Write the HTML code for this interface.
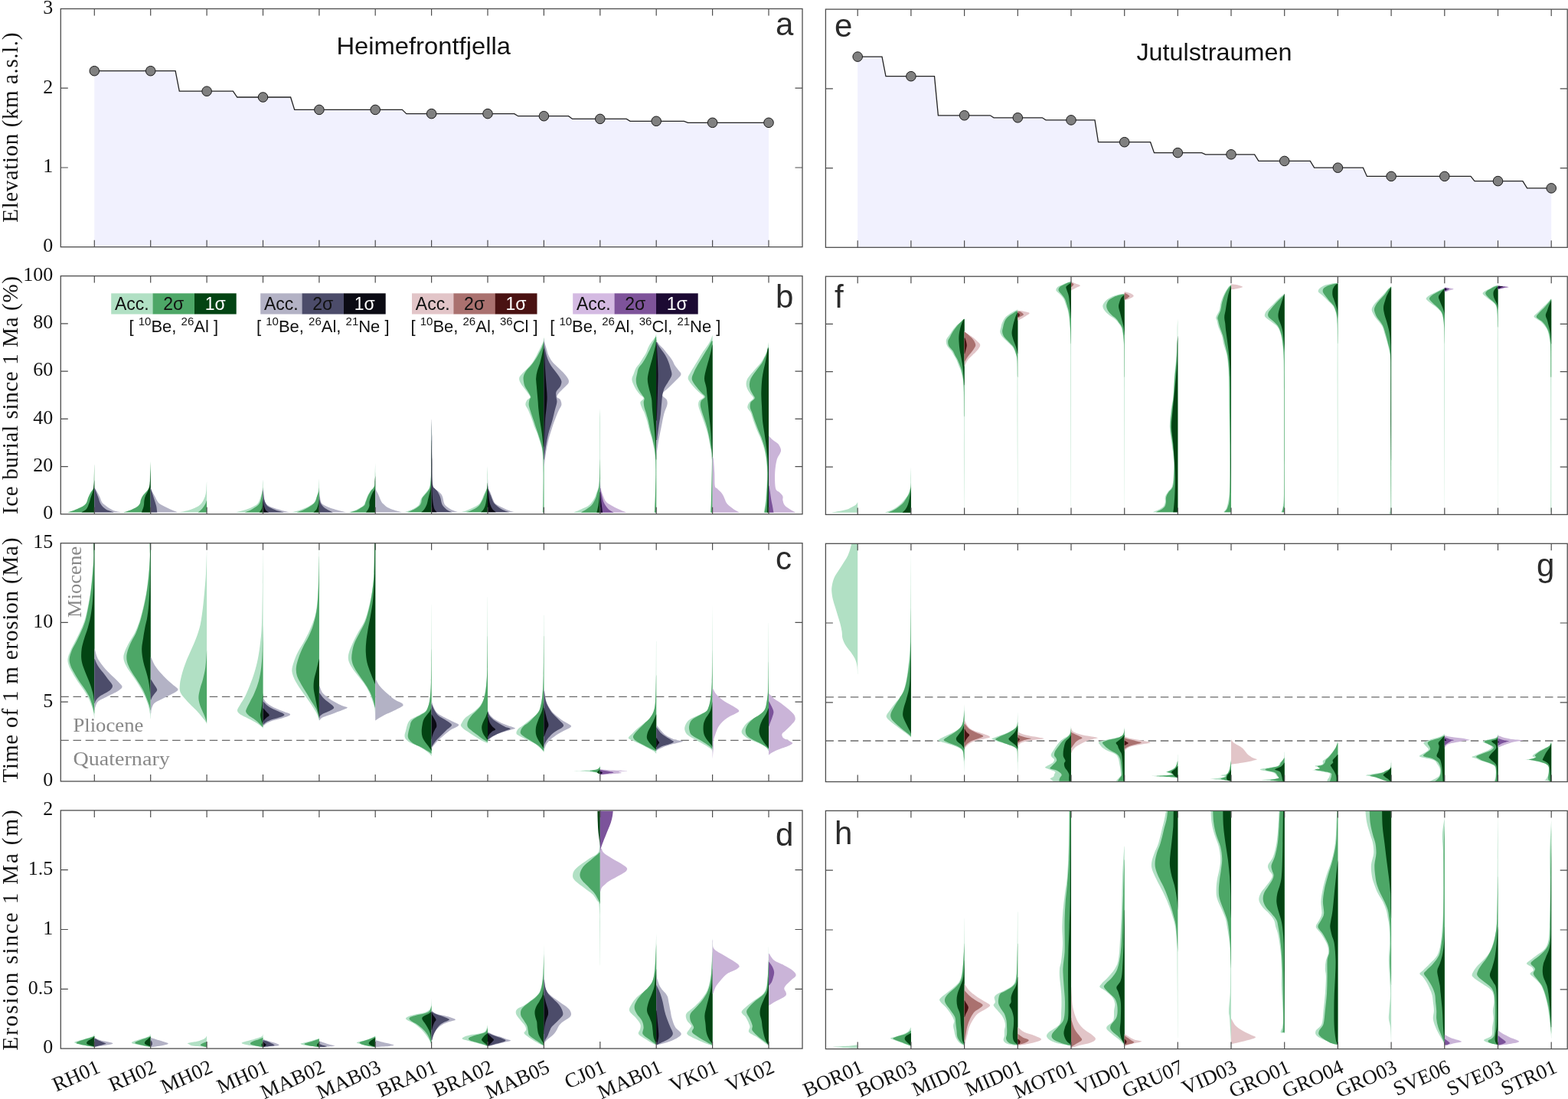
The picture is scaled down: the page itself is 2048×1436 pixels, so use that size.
<!DOCTYPE html><html><head><meta charset="utf-8"><title>Figure</title><style>html,body{margin:0;padding:0;background:#fff;overflow:hidden;width:2048px;height:1436px;}svg{display:block;}</style></head><body>
<svg width="2048" height="1436" viewBox="0 0 2048 1436">
<rect width="2048" height="1436" fill="#fff"/>
<path d="M123.3,92.7L229.1,92.7L234.3,119.2L304.4,119.2L309.8,127L379.6,127L384.7,143.4L525.4,143.4L530.8,148.6L671.8,148.6L676.7,151.7L742.6,151.7L747.6,155.4L818.3,155.4L823,158.3L893.5,158.3L898.5,160.3L1004,160.3L1004,322.7L123.3,322.7Z" fill="#f1f1fe"/>
<path d="M123.3,92.7L229.1,92.7L234.3,119.2L304.4,119.2L309.8,127L379.6,127L384.7,143.4L525.4,143.4L530.8,148.6L671.8,148.6L676.7,151.7L742.6,151.7L747.6,155.4L818.3,155.4L823,158.3L893.5,158.3L898.5,160.3L1004,160.3" fill="none" stroke="#222" stroke-width="1.3"/>
<circle cx="123.3" cy="92.7" r="6.3" fill="#808080" stroke="#1a1a1a" stroke-width="1"/>
<circle cx="196.7" cy="92.7" r="6.3" fill="#808080" stroke="#1a1a1a" stroke-width="1"/>
<circle cx="270.1" cy="119.2" r="6.3" fill="#808080" stroke="#1a1a1a" stroke-width="1"/>
<circle cx="343.5" cy="127" r="6.3" fill="#808080" stroke="#1a1a1a" stroke-width="1"/>
<circle cx="416.9" cy="143.4" r="6.3" fill="#808080" stroke="#1a1a1a" stroke-width="1"/>
<circle cx="490.2" cy="143.4" r="6.3" fill="#808080" stroke="#1a1a1a" stroke-width="1"/>
<circle cx="563.6" cy="148.6" r="6.3" fill="#808080" stroke="#1a1a1a" stroke-width="1"/>
<circle cx="637" cy="148.6" r="6.3" fill="#808080" stroke="#1a1a1a" stroke-width="1"/>
<circle cx="710.4" cy="151.7" r="6.3" fill="#808080" stroke="#1a1a1a" stroke-width="1"/>
<circle cx="783.8" cy="155.4" r="6.3" fill="#808080" stroke="#1a1a1a" stroke-width="1"/>
<circle cx="857.2" cy="158.3" r="6.3" fill="#808080" stroke="#1a1a1a" stroke-width="1"/>
<circle cx="930.6" cy="160.3" r="6.3" fill="#808080" stroke="#1a1a1a" stroke-width="1"/>
<circle cx="1004" cy="160.3" r="6.3" fill="#808080" stroke="#1a1a1a" stroke-width="1"/>
<path d="M1120.2,74.1L1152,74.1L1157,99.7L1220.5,99.7L1225.4,150.8L1293.3,150.8L1298,153.8L1361.3,153.8L1366,156.9L1430,156.9L1434.5,185.7L1502.6,185.7L1507.5,199.6L1569.7,199.6L1574.5,201.8L1638.6,201.8L1643.9,210.4L1711.3,210.4L1716.6,219.2L1780.4,219.2L1785.4,230.4L1921,230.4L1926,236.6L1988.9,236.6L1994.6,245.9L2026.2,245.9L2026.2,323.3L1120.2,323.3Z" fill="#f1f1fe"/>
<path d="M1120.2,74.1L1152,74.1L1157,99.7L1220.5,99.7L1225.4,150.8L1293.3,150.8L1298,153.8L1361.3,153.8L1366,156.9L1430,156.9L1434.5,185.7L1502.6,185.7L1507.5,199.6L1569.7,199.6L1574.5,201.8L1638.6,201.8L1643.9,210.4L1711.3,210.4L1716.6,219.2L1780.4,219.2L1785.4,230.4L1921,230.4L1926,236.6L1988.9,236.6L1994.6,245.9L2026.2,245.9" fill="none" stroke="#222" stroke-width="1.3"/>
<circle cx="1120.2" cy="74.1" r="6.3" fill="#808080" stroke="#1a1a1a" stroke-width="1"/>
<circle cx="1189.9" cy="99.7" r="6.3" fill="#808080" stroke="#1a1a1a" stroke-width="1"/>
<circle cx="1259.6" cy="150.8" r="6.3" fill="#808080" stroke="#1a1a1a" stroke-width="1"/>
<circle cx="1329.3" cy="153.8" r="6.3" fill="#808080" stroke="#1a1a1a" stroke-width="1"/>
<circle cx="1399" cy="156.9" r="6.3" fill="#808080" stroke="#1a1a1a" stroke-width="1"/>
<circle cx="1468.7" cy="185.7" r="6.3" fill="#808080" stroke="#1a1a1a" stroke-width="1"/>
<circle cx="1538.3" cy="199.6" r="6.3" fill="#808080" stroke="#1a1a1a" stroke-width="1"/>
<circle cx="1608" cy="201.8" r="6.3" fill="#808080" stroke="#1a1a1a" stroke-width="1"/>
<circle cx="1677.7" cy="210.4" r="6.3" fill="#808080" stroke="#1a1a1a" stroke-width="1"/>
<circle cx="1747.4" cy="219.2" r="6.3" fill="#808080" stroke="#1a1a1a" stroke-width="1"/>
<circle cx="1817.1" cy="230.4" r="6.3" fill="#808080" stroke="#1a1a1a" stroke-width="1"/>
<circle cx="1886.8" cy="230.4" r="6.3" fill="#808080" stroke="#1a1a1a" stroke-width="1"/>
<circle cx="1956.5" cy="236.6" r="6.3" fill="#808080" stroke="#1a1a1a" stroke-width="1"/>
<circle cx="2026.2" cy="245.9" r="6.3" fill="#808080" stroke="#1a1a1a" stroke-width="1"/>
<line x1="79.3" y1="910.3" x2="1048" y2="910.3" stroke="#6a6a6a" stroke-width="1.3" stroke-dasharray="10.5,5.7"/>
<line x1="79.3" y1="967.4" x2="1048" y2="967.4" stroke="#6a6a6a" stroke-width="1.3" stroke-dasharray="10.5,5.7"/>
<line x1="1078.4" y1="910.9" x2="2047.2" y2="910.9" stroke="#6a6a6a" stroke-width="1.3" stroke-dasharray="10.5,5.7"/>
<line x1="1078.4" y1="968" x2="2047.2" y2="968" stroke="#6a6a6a" stroke-width="1.3" stroke-dasharray="10.5,5.7"/>
<path d="M123.3,669.5L88.4,669.5C89.8,669 94.1,667.7 96.8,666.7C99.6,665.7 102.5,664.4 104.7,663.3C107,662.2 108.9,661.1 110.3,660C111.7,658.8 112.3,658.3 113.1,656.6C114,654.9 114.4,652.1 115.4,649.8C116.3,647.6 117.6,645.2 118.7,643.1C119.9,641 121.5,640.1 122.1,637.5C122.8,634.9 122.5,632.4 122.7,627.4C122.9,622.3 123.1,610.5 123.2,607.2L123.3,607.2Z" fill="#4da767"/>
<path d="M123.3,669.5L106.4,669.5C107.4,668.8 111,667.3 112.6,665.6C114.2,663.8 114.9,661.4 115.9,658.8C117,656.2 117.8,652.8 118.7,649.8C119.7,646.8 120.9,643.7 121.6,640.9C122.2,638.1 122.4,635.2 122.7,633C123,630.8 123.1,628.3 123.2,627.4L123.3,627.4Z" fill="#034413"/>
<path d="M123.3,669.5L158.6,669.5C156.7,669 150.8,668.1 147.4,666.7C144,665.3 140.7,662.8 138.4,661.1C136.1,659.4 134.7,658.5 133.3,656.6C132,654.7 131.5,651.9 130.5,649.8C129.6,647.8 128.8,646.1 127.7,644.2C126.7,642.4 125.1,639.9 124.4,638.6C123.6,637.3 123.5,636.7 123.3,636.4L123.3,636.4Z" fill="#b3b2c5"/>
<path d="M123.3,669.5L148.5,669.5C146.8,668.8 141.2,667.3 138.4,665.6C135.6,663.8 133.3,661.4 131.7,658.8C130,656.2 129.4,652.8 128.3,649.8C127.2,646.8 125.7,642.9 124.9,640.9C124.1,638.8 123.7,638.1 123.5,637.5L123.3,637.5Z" fill="#4c4c6a"/>
<path d="M196.7,669.5L160.9,669.5C162.4,669 166.8,667.9 169.8,666.7C172.8,665.5 176.7,663.7 178.8,662.2C181,660.7 181.9,659.2 182.8,657.7C183.6,656.2 183.2,654.9 183.9,653.2C184.5,651.5 185.6,649.3 186.7,647.6C187.8,645.9 189.4,644.6 190.6,643.1C191.8,641.6 193.1,640.5 194,638.6C194.8,636.7 195.3,635.6 195.7,631.9C196,628.1 195.9,621 196.1,616.2C196.3,611.3 196.6,604.9 196.7,602.7L196.7,602.7Z" fill="#4da767"/>
<path d="M196.7,669.5L185,669.5C185.5,668.1 187.3,663.6 187.8,661.1C188.4,658.5 188,656.6 188.4,654.3C188.7,652.1 189.2,649.8 190.1,647.6C190.9,645.4 192.5,643.3 193.4,640.9C194.4,638.4 195.1,637.5 195.7,633C196.2,628.5 196.5,617.1 196.7,613.9L196.7,613.9Z" fill="#034413"/>
<path d="M196.7,669.5L232.7,669.5C230.7,668.7 224.3,666.2 220.4,664.4C216.5,662.7 211.7,660.5 209.2,658.8C206.6,657.1 206.3,656 205.2,654.3C204.1,652.7 203.6,651 202.4,648.7C201.2,646.5 198.9,642.7 197.9,640.9C197,639 197,638.1 196.8,637.5L196.7,637.5Z" fill="#b3b2c5"/>
<path d="M196.7,669.5L205.2,669.5C205,668.1 204.8,664 204.1,661.1C203.4,658.2 202.2,655.1 201.3,652.1C200.4,649.1 199.2,645.5 198.5,643.1C197.7,640.7 197.1,638.4 196.8,637.5L196.7,637.5Z" fill="#4c4c6a"/>
<path d="M270.1,669.5L233.9,669.5C235.9,669 242.3,667.9 246.2,666.7C250.1,665.5 254.6,663.7 257.4,662.2C260.2,660.7 261.6,659.4 263.1,657.7C264.6,656 265.5,654.1 266.4,652.1C267.4,650 268.2,647.6 268.7,645.4C269.2,643.1 269.3,641.2 269.5,638.6C269.7,636 269.9,631.1 270,629.6L270.1,629.6Z" fill="#b1e0c4"/>
<path d="M270.1,669.5L258.6,669.5C259.5,668.7 262.6,666.2 264.2,664.4C265.8,662.7 267.2,660.5 268.1,658.8C269,657.1 269.5,655.1 269.8,654.3L270.1,654.3Z" fill="#4da767"/>
<path d="M343.5,669.5L307.3,669.5C308.5,669.2 312.1,668.5 314.6,667.8C317.1,667.2 319.8,666.5 322.5,665.6C325.1,664.6 328.1,663.3 330.3,662.2C332.6,661.1 334.5,660.1 335.9,658.8C337.3,657.5 337.9,656.2 338.7,654.3C339.6,652.5 340.3,649.8 341,647.6C341.6,645.4 342.4,643.3 342.7,640.9C343,638.4 342.7,635.4 342.9,633C343,630.6 343.4,627.4 343.5,626.3L343.5,626.3Z" fill="#b1e0c4"/>
<path d="M343.5,669.5L319.7,669.5C320.9,669 324.8,667.7 327,666.7C329.1,665.7 330.9,664.4 332.6,663.3C334.3,662.2 335.8,661.3 337.1,660C338.3,658.6 339.1,657.3 339.9,655.5C340.6,653.6 341.1,651.2 341.6,648.7C342.1,646.3 342.6,642.9 342.9,640.9C343.2,638.8 343.4,637.1 343.5,636.4L343.5,636.4Z" fill="#4da767"/>
<path d="M343.5,669.5L338.7,669.5C339.2,668.8 340.9,667 341.6,665.6C342.2,664.2 342.5,662.6 342.7,661.1C342.9,659.6 342.7,657.9 342.9,656.6C343,655.3 343.4,653.8 343.5,653.2L343.5,653.2Z" fill="#034413"/>
<path d="M343.5,669.5L378.6,669.5C376.7,669 371.1,667.7 367.4,666.7C363.6,665.7 359.1,664.4 356.2,663.3C353.2,662.2 351,661.1 349.4,660C347.8,658.8 347.4,657.9 346.6,656.6C345.9,655.3 345.3,654 344.9,652.1C344.5,650.2 344.3,647.2 344.1,645.4C344,643.5 344.2,642 344.1,640.9C344,639.7 343.6,639 343.5,638.6L343.5,638.6Z" fill="#b3b2c5"/>
<path d="M343.5,669.5L370.8,669.5C369.1,669 363.6,667.7 360.6,666.7C357.6,665.7 354.8,664.4 352.8,663.3C350.7,662.2 349.4,661.3 348.3,660C347.2,658.6 346.6,657.1 346,655.5C345.4,653.8 345,651.9 344.7,649.8C344.4,647.8 344.3,644.8 344.1,643.1C343.9,641.4 343.6,640.3 343.5,639.7L343.5,639.7Z" fill="#4c4c6a"/>
<path d="M343.5,669.5L351.1,669.5C350.4,669 348.2,668.1 347.2,666.7C346.1,665.3 345.4,662.8 344.9,661.1C344.4,659.4 344.4,658.1 344.1,656.6C343.9,655.1 343.7,652.8 343.6,652.1L343.5,652.1Z" fill="#0b0b14"/>
<path d="M416.9,669.5L380.9,669.5C382.5,669 387.8,667.7 391,666.7C394.1,665.7 397.1,664.6 400,663.3C402.8,662 405.9,660.1 407.8,658.8C409.7,657.5 410.2,657 411.2,655.5C412.1,654 412.7,651.9 413.4,649.8C414.2,647.8 415.2,645.4 415.7,643.1C416.1,640.9 416.1,639.2 416.3,636.4C416.4,633.6 416.7,627.9 416.8,626.3L416.9,626.3Z" fill="#b1e0c4"/>
<path d="M416.9,669.5L387.6,669.5C388.9,669 393,667.7 395.5,666.7C397.9,665.7 400,664.6 402.2,663.3C404.4,662 407.3,660.3 408.9,658.8C410.6,657.3 411.5,656 412.3,654.3C413.1,652.7 413.3,650.8 414,648.7C414.6,646.7 415.8,643.9 416.2,642C416.7,640.1 416.7,638.2 416.8,637.5L416.9,637.5Z" fill="#4da767"/>
<path d="M416.9,669.5L409.5,669.5C410.2,668.8 412.4,667.3 413.4,665.6C414.5,663.8 415.1,661.1 415.7,658.8C416.2,656.6 416.6,653.2 416.8,652.1L416.9,652.1Z" fill="#034413"/>
<path d="M416.9,669.5L452.7,669.5C450.9,669 445.2,667.7 441.5,666.7C437.8,665.7 433.6,664.6 430.3,663.3C426.9,662 423.2,660.3 421.3,658.8C419.4,657.3 419.4,656.2 418.8,654.3C418.2,652.5 418,649.8 417.7,647.6C417.4,645.4 417.1,642 417,640.9L416.9,640.9Z" fill="#b3b2c5"/>
<path d="M416.9,669.5L434.8,669.5C433.8,669 431,667.7 429.2,666.7C427.3,665.7 425.1,664.6 423.5,663.3C421.9,662 420.5,660.3 419.6,658.8C418.7,657.3 418.3,656 417.9,654.3C417.5,652.7 417.3,649.7 417.1,648.7L416.9,648.7Z" fill="#4c4c6a"/>
<path d="M490.2,669.5L455,669.5C456.5,669 461.3,667.7 464,666.7C466.6,665.7 468.8,664.4 470.7,663.3C472.6,662.2 474.2,661.1 475.2,660C476.2,658.8 476.3,657.9 476.9,656.6C477.4,655.3 477.9,653.8 478.6,652.1C479.2,650.4 479.9,648.3 480.8,646.5C481.7,644.6 483.1,642.4 484.2,640.9C485.3,639.4 486.6,639 487.5,637.5C488.5,636 489.3,634.5 489.6,631.9C490,629.3 489.6,626.3 489.6,621.8C489.7,617.3 490.1,607.7 490.2,604.9L490.2,604.9Z" fill="#b1e0c4"/>
<path d="M490.2,669.5L457.2,669.5C458.7,669 463.8,667.7 466.2,666.7C468.6,665.7 470.1,664.4 471.8,663.3C473.5,662.2 475.4,661.1 476.3,660C477.3,658.8 477,657.9 477.4,656.6C477.9,655.3 478.5,653.8 479.1,652.1C479.8,650.4 480.4,648.3 481.4,646.5C482.3,644.6 483.7,642.4 484.7,640.9C485.8,639.4 487,639 487.8,637.5C488.6,636 489.2,635.4 489.6,631.9C490.1,628.3 490.1,618.8 490.2,616.2L490.2,616.2Z" fill="#4da767"/>
<path d="M490.2,669.5L478,669.5C478.5,668.8 480.1,667 480.8,665.6C481.6,664.2 482.2,662.8 482.5,661.1C482.8,659.4 482.2,657.3 482.5,655.5C482.8,653.6 483.4,651.9 484.2,649.8C484.9,647.8 486.1,645 487,643.1C487.9,641.2 489.2,640.9 489.6,638.6C490.1,636.4 489.6,632.4 489.6,629.6C489.7,626.8 490.1,623.1 490.2,621.8L490.2,621.8Z" fill="#034413"/>
<path d="M490.2,669.5L525.7,669.5C524,669 518.8,667.7 515.6,666.7C512.4,665.7 509.1,664.6 506.6,663.3C504.2,662 502.3,660 501,658.8C499.7,657.7 499.5,657.7 498.8,656.6C498,655.5 497.3,653.8 496.5,652.1C495.8,650.4 495.1,648.3 494.3,646.5C493.4,644.6 492.1,642.2 491.5,640.9C490.9,639.5 490.7,639 490.6,638.6L490.2,638.6Z" fill="#b3b2c5"/>
<path d="M563.6,669.3L528.1,669.3C529.1,669 531.9,668.2 534.1,667.3C536.3,666.5 539.1,665.5 541.2,664.3C543.3,663.1 545.5,661.8 546.8,660.3C548,658.7 548.2,656.7 548.8,655.2C549.4,653.7 549.4,652.7 550.3,651.2C551.2,649.7 553,647.8 554.3,646.1C555.7,644.4 557.3,642.6 558.4,641.1C559.5,639.6 560.3,638.7 560.9,637C561.5,635.4 561.6,633.7 561.9,631C562.2,628.3 562.7,625.9 562.9,620.9C563.1,615.8 563,609.1 563,600.7C563.1,592.3 562.9,578.8 563,570.4C563.1,562 563.5,553.6 563.6,550.2L563.6,550.2Z" fill="#b1e0c4"/>
<path d="M563.6,669.3L532.1,669.3C533,669 535.3,668.2 537.2,667.3C539,666.5 541.4,665.5 543.2,664.3C545.1,663.1 547.1,661.6 548.3,660.3C549.5,658.9 549.8,657.7 550.3,656.2C550.8,654.7 550.5,652.9 551.3,651.2C552.1,649.5 554,647.8 555.3,646.1C556.7,644.4 558.4,642.6 559.4,641.1C560.4,639.6 560.9,638.7 561.4,637C561.9,635.4 562.1,633.7 562.4,631C562.7,628.3 562.9,627.6 563,620.9C563.1,614.1 562.9,599 563,590.6C563.1,582.2 563.5,573.8 563.6,570.4L563.6,570.4Z" fill="#4da767"/>
<path d="M563.6,669.3L550.3,669.3C551,668.7 553.2,667 554.3,665.3C555.5,663.6 556.5,661.6 557.4,659.2C558.2,656.9 558.7,653.9 559.4,651.2C560.1,648.5 560.8,645.6 561.4,643.1C562,640.6 562.6,639.7 562.9,636C563.2,632.3 562.9,628.5 563,620.9C563.2,613.3 563.5,595.6 563.6,590.6L563.6,590.6Z" fill="#034413"/>
<path d="M563.6,669.3L598.8,669.3C597.8,669 594.7,668.2 592.7,667.3C590.7,666.5 588.5,665.5 586.6,664.3C584.8,663.1 582.8,661.6 581.6,660.3C580.4,658.9 580.1,657.7 579.6,656.2C579.1,654.7 579.1,652.9 578.6,651.2C578.1,649.5 577.6,647.6 576.5,646.1C575.5,644.6 573.9,643.3 572.5,642.1C571.2,640.9 569.6,640.1 568.5,639.1C567.4,638 566.5,637.4 565.9,636C565.4,634.7 565.2,633.5 564.9,631C564.7,628.5 564.5,625.9 564.4,620.9C564.3,615.8 564.4,609.1 564.2,600.7C564.1,592.3 563.8,575.4 563.7,570.4L563.6,570.4Z" fill="#b3b2c5"/>
<path d="M563.6,669.3L590.7,669.3C589.8,669 587.1,668.2 585.6,667.3C584.1,666.5 582.9,665.5 581.6,664.3C580.3,663.1 578.9,661.6 578.1,660.3C577.2,658.9 577,657.7 576.5,656.2C576.1,654.7 576,652.9 575.5,651.2C575,649.5 574.4,647.8 573.5,646.1C572.7,644.4 571.5,642.4 570.5,641.1C569.5,639.7 568.3,639.1 567.5,638C566.6,637 565.9,637 565.4,635C564.9,633 564.6,630 564.4,625.9C564.2,621.9 564.3,616.7 564.2,610.8C564.2,604.9 564.2,597.3 564.2,590.6C564.2,583.9 564.3,577.5 564.2,570.4C564.1,563.3 563.8,551.9 563.7,548.2L563.6,548.2Z" fill="#4c4c6a"/>
<path d="M563.6,669.3L570.5,669.3C570,668.7 568.2,667 567.5,665.3C566.7,663.6 566.4,661.6 565.9,659.2C565.5,656.9 565.2,654.2 564.9,651.2C564.7,648.1 564.5,644.4 564.4,641.1C564.3,637.7 564.3,634.3 564.2,631C564.2,627.6 564.2,625.9 564.2,620.9C564.2,615.8 564.3,608.3 564.2,600.7C564.1,593.1 563.8,579.6 563.7,575.4L563.6,575.4Z" fill="#0b0b14"/>
<path d="M637,669.3L601.8,669.3C603,669 606.5,668.2 608.9,667.3C611.2,666.5 613.7,665.3 615.9,664.3C618.1,663.3 620.1,662.4 622,661.3C623.8,660.1 625.7,658.9 627,657.2C628.4,655.5 629.2,653 630.1,651.2C630.9,649.3 631.3,647.8 632.1,646.1C632.8,644.4 633.9,642.6 634.6,641.1C635.3,639.6 635.8,638.7 636.1,637C636.4,635.4 636.4,633.7 636.4,631C636.5,628.3 636.3,624.6 636.4,620.9C636.5,617.2 636.9,610.8 637,608.8L637,608.8Z" fill="#b1e0c4"/>
<path d="M637,669.3L608.9,669.3C609.9,669 612.9,668.2 614.9,667.3C616.9,666.5 619.3,665.3 621,664.3C622.7,663.3 623.8,662.4 625,661.3C626.2,660.1 627,658.9 628,657.2C629.1,655.5 630.2,653 631.1,651.2C631.9,649.3 632.4,647.8 633.1,646.1C633.8,644.4 634.6,642.6 635.1,641.1C635.6,639.6 636,638.7 636.3,637C636.6,635.4 636.8,632 636.9,631L637,631Z" fill="#4da767"/>
<path d="M637,669.3L628,669.3C628.5,668.8 630.1,667.7 631.1,666.3C632,665 632.9,663.3 633.6,661.3C634.3,659.2 634.7,656.7 635.1,654.2C635.5,651.7 635.9,648.8 636.1,646.1C636.3,643.4 636.3,640.6 636.4,638C636.6,635.5 636.8,632.2 636.9,631L637,631Z" fill="#034413"/>
<path d="M637,669.3L672.5,669.3C671.3,669 667.8,668.2 665.4,667.3C663,666.5 660.9,665.5 658.3,664.3C655.8,663.1 652.3,661.4 650.3,660.3C648.2,659.1 647.2,658.4 646.2,657.2C645.2,656.1 644.9,654.7 644.2,653.2C643.5,651.7 642.9,649.8 642.2,648.1C641.5,646.5 640.8,644.6 640.2,643.1C639.5,641.6 638.6,640.4 638.1,639.1C637.7,637.7 637.8,637.2 637.6,635C637.5,632.8 637.2,627.4 637.1,625.9L637,625.9Z" fill="#b3b2c5"/>
<path d="M637,669.3L665.4,669.3C664.4,669 661.4,668.2 659.3,667.3C657.3,666.5 655.1,665.5 653.3,664.3C651.4,663.1 649.6,661.4 648.2,660.3C646.9,659.1 646.1,658.4 645.2,657.2C644.4,656.1 643.9,654.7 643.2,653.2C642.5,651.7 641.8,649.8 641.2,648.1C640.5,646.5 639.7,644.6 639.2,643.1C638.6,641.6 638,640.4 637.6,639.1C637.3,637.7 637.2,635.7 637.1,635L637,635Z" fill="#4c4c6a"/>
<path d="M637,669.3L647.7,669.3C647,668.7 644.4,666.8 643.2,665.3C642,663.8 641.3,662.1 640.7,660.3C640,658.4 639.6,656.6 639.2,654.2C638.7,651.8 638.4,648.6 638.1,646.1C637.8,643.6 637.5,640.2 637.3,639.1L637,639.1Z" fill="#0b0b14"/>
<path d="M710.4,669.7L708.6,669.7C708.7,666.7 709,660.5 709.1,651.8C709.3,643.1 709.6,627.6 709.5,617.7C709.4,607.7 709.2,598.3 708.6,592.1C708.1,585.8 707.2,584.4 706.1,580.1C704.9,575.9 703.2,570.5 701.8,566.5C700.4,562.5 698.8,559.7 697.5,556.3C696.3,552.8 695.4,549.4 694.1,546C692.8,542.6 691.1,538.6 689.9,535.8C688.6,532.9 686.7,531.1 686.4,529C686.2,526.8 687.2,524.7 688.2,523C689.1,521.3 692.4,520.6 692.4,518.7C692.4,516.9 689.7,514.2 688.2,511.9C686.6,509.6 684.6,507.3 683,505.1C681.5,502.8 679.5,500.2 678.8,498.2C678,496.3 677.9,494.8 678.4,493.1C679,491.4 680.4,490 682.2,488C683.9,486 686.9,483.5 689,481.2C691.1,478.9 693.3,476.6 695,474.4C696.7,472.1 697.8,470.1 699.2,467.5C700.7,465 702.2,461.6 703.5,459C704.8,456.4 705.9,454.2 706.9,452.2C707.9,450.2 708.9,449.1 709.5,447.1C710,445.1 710.2,441.4 710.3,440.2L710.4,440.2Z" fill="#b1e0c4"/>
<path d="M710.4,669.7L709.5,669.7C709.5,661 709.9,630.6 709.8,617.7C709.8,604.7 709.6,598.3 709.1,592.1C708.7,585.8 708,584.4 706.9,580.1C705.8,575.9 703.9,570.5 702.7,566.5C701.4,562.5 700.4,559.7 699.2,556.3C698.1,552.8 697,549.4 695.8,546C694.7,542.6 693.3,538.6 692.4,535.8C691.6,532.9 690.9,531.2 690.7,529C690.6,526.7 691.1,523.8 691.6,522.1C692,520.4 693.6,520.4 693.3,518.7C693,517 691.1,514.2 689.9,511.9C688.6,509.6 686.6,507.3 685.6,505.1C684.6,502.8 684.2,500.5 683.9,498.2C683.6,496 683.3,493.7 683.9,491.4C684.5,489.1 685.7,486.9 687.3,484.6C688.9,482.3 691.4,480 693.3,477.8C695.1,475.5 696.7,473.5 698.4,470.9C700.1,468.4 701.9,465.3 703.5,462.4C705.1,459.6 706.7,456.4 707.8,453.9C708.8,451.3 709.4,449.1 709.8,447.1C710.2,445.1 710.2,442.8 710.3,441.9L710.4,441.9Z" fill="#4da767"/>
<path d="M710.4,600.6L710.2,600.6C710,597.8 709.9,589.2 709.5,583.6C709.1,577.9 708.5,572.2 707.8,566.5C707.1,560.8 705.9,554.5 705.2,549.4C704.5,544.3 703.9,539.8 703.5,535.8C703.1,531.8 702.9,529 702.7,525.5C702.4,522.1 702.1,518.7 701.8,515.3C701.5,511.9 701.2,508.5 700.9,505.1C700.7,501.7 700,498.2 700.1,494.8C700.2,491.4 700.9,488 701.8,484.6C702.7,481.2 704.2,477.8 705.2,474.4C706.2,470.9 707.1,467.3 707.8,464.1C708.5,461 709.1,458.4 709.5,455.6C709.9,452.7 710.2,448.5 710.3,447.1L710.4,447.1Z" fill="#034413"/>
<path d="M710.4,609.1L710.8,609.1C711.2,606.3 712,597.8 712.9,592.1C713.8,586.4 714.9,580.7 716.3,575C717.7,569.3 719.9,562.8 721.4,558C723,553.1 724.3,549.7 725.7,546C727.1,542.3 728.7,538.6 730,535.8C731.2,532.9 733.1,531.2 733.4,529C733.6,526.7 732.7,523.8 731.7,522.1C730.7,520.4 727.7,520.1 727.4,518.7C727.1,517.3 728.1,515.9 730,513.6C731.8,511.3 736.3,507.3 738.5,505.1C740.6,502.8 742.2,501.7 742.7,500C743.3,498.2 742.9,496.8 741.9,494.8C740.9,492.8 738.8,490.3 736.8,488C734.8,485.7 732.5,483.7 730,481.2C727.4,478.6 723.7,475.5 721.4,472.7C719.1,469.8 717.6,467 716.3,464.1C715,461.3 714.6,458.4 713.7,455.6C712.9,452.7 711.7,449.3 711.2,447.1C710.6,444.8 710.6,442.8 710.5,441.9L710.4,441.9Z" fill="#b3b2c5"/>
<path d="M710.4,600.6L710.8,600.6C711.2,597.8 712,589.2 712.9,583.6C713.8,577.9 714.9,572.2 716.3,566.5C717.7,560.8 720,554.5 721.4,549.4C722.8,544.3 723.8,539.8 724.8,535.8C725.8,531.8 727.1,528.4 727.4,525.5C727.7,522.7 726.7,521 726.5,518.7C726.4,516.4 725.7,514.2 726.5,511.9C727.4,509.6 730.5,507.3 731.7,505.1C732.8,502.8 733.6,500.5 733.4,498.2C733.1,496 731.4,493.7 730,491.4C728.5,489.1 726.5,486.9 724.8,484.6C723.1,482.3 721.3,480.3 719.7,477.8C718.2,475.2 716.6,472.1 715.4,469.2C714.3,466.4 713.6,463.6 712.9,460.7C712.2,457.9 711.6,454.7 711.2,452.2C710.8,449.6 710.6,446.5 710.5,445.4L710.4,445.4Z" fill="#4c4c6a"/>
<path d="M710.4,583.6L710.8,583.6C711,577.9 711.6,558 712,549.4C712.5,540.9 713.3,537.5 713.7,532.4C714.2,527.2 714.6,523.3 714.6,518.7C714.6,514.2 714,509.1 713.7,505.1C713.5,501.1 713.2,498.8 712.9,494.8C712.6,490.9 712.3,486.3 712,481.2C711.8,476.1 711.4,468.4 711.2,464.1C711,459.9 710.8,457 710.7,455.6L710.4,455.6Z" fill="#0b0b14"/>
<path d="M783.8,669.7L748.7,669.7C750.4,669 755.5,667 759,665.4C762.4,663.9 766.3,662.6 769.2,660.3C772,658.1 774.3,654.6 776,651.8C777.7,649 778.4,646.1 779.4,643.3C780.4,640.4 781.4,639 782,634.7C782.6,630.5 783,626.2 783.2,617.7C783.4,609.1 783.2,594.9 783.2,583.6C783.2,572.2 783.1,557.7 783.2,549.4C783.3,541.2 783.7,536.6 783.8,534.1L783.8,534.1Z" fill="#b1e0c4"/>
<path d="M783.8,669.7L759,669.7C760.1,669 763.5,667 765.8,665.4C768.1,663.9 770.6,662.6 772.6,660.3C774.6,658.1 776.4,654.6 777.7,651.8C779,649 779.5,646.1 780.3,643.3C781.1,640.4 782,639 782.5,634.7C783,630.5 783,623.4 783.2,617.7C783.4,612 783.6,603.5 783.7,600.6L783.8,600.6Z" fill="#4da767"/>
<path d="M783.8,669.7L779.4,669.7C779.8,668.1 781,663.3 781.5,660.3C782,657.3 782.2,654.6 782.5,651.8C782.8,649 783.1,644.7 783.2,643.3L783.8,643.3Z" fill="#034413"/>
<path d="M783.8,669.7L818.7,669.7C817,669 811.8,667 808.4,665.4C805,663.9 801,662 798.2,660.3C795.4,658.6 793.1,657.2 791.4,655.2C789.7,653.2 789,650.7 788,648.4C787,646.1 786,643.8 785.4,641.6C784.8,639.3 784.7,637.3 784.4,634.7C784.2,632.2 784,627.6 783.9,626.2L783.8,626.2Z" fill="#cab4d8"/>
<path d="M783.8,669.7L801.6,669.7C800.5,669 796.8,667.3 794.8,665.4C792.8,663.6 790.9,660.9 789.7,658.6C788.4,656.3 787.8,654.1 787.1,651.8C786.4,649.5 785.9,647.2 785.4,645C784.9,642.7 784.5,639.3 784.4,638.1L783.8,638.1Z" fill="#7c539b"/>
<path d="M783.8,669.7L787.1,669.7C786.9,668.1 786.3,663.3 785.9,660.3C785.5,657.3 785.2,654.6 784.9,651.8C784.6,649 784.3,644.7 784.2,643.3L783.8,643.3Z" fill="#1c0a33"/>
<path d="M857.2,669.7L854.7,669.7C854.9,666.7 855.8,660.5 856.1,651.8C856.3,643.1 856.5,627.6 856.4,617.7C856.3,607.7 856,599.2 855.2,592.1C854.4,585 852.9,579.9 851.8,575C850.7,570.2 849.5,567.3 848.4,563.1C847.3,558.8 846.1,553.4 845,549.4C843.8,545.4 842.7,542 841.6,539.2C840.4,536.3 839,534.6 838.2,532.4C837.3,530.1 836,527.5 836.4,525.5C836.9,523.6 840.9,522.1 840.7,520.4C840.6,518.7 837.3,517.3 835.6,515.3C833.9,513.3 831.9,510.8 830.5,508.5C829.1,506.2 827.9,503.9 827.1,501.7C826.2,499.4 825.2,497.1 825.4,494.8C825.5,492.6 827.1,490.3 827.9,488C828.8,485.7 829.2,483.5 830.5,481.2C831.8,478.9 834,476.6 835.6,474.4C837.2,472.1 838.4,469.8 839.9,467.5C841.3,465.3 843,463 844.1,460.7C845.3,458.4 845.5,456.2 846.7,453.9C847.8,451.6 849.4,449.3 850.9,447.1C852.5,444.8 854.7,441.9 855.7,440.2C856.7,438.5 856.9,437.4 857.1,436.8L857.2,436.8Z" fill="#b1e0c4"/>
<path d="M857.2,669.7L855.2,669.7C855.4,661 856.5,630.6 856.6,617.7C856.7,604.7 856.4,599.2 855.7,592.1C855.1,585 853.7,579.9 852.7,575C851.6,570.2 850.6,567.3 849.6,563.1C848.6,558.8 847.6,553.4 846.7,549.4C845.7,545.4 844.6,542 843.8,539.2C842.9,536.3 842.1,534.6 841.6,532.4C841.1,530.1 840.7,527.5 840.7,525.5C840.7,523.6 842,522.1 841.6,520.4C841.1,518.7 839.4,517.3 838.2,515.3C836.9,513.3 835,510.8 833.9,508.5C832.7,506.2 831.8,503.9 831.3,501.7C830.8,499.4 830.7,497.1 830.8,494.8C831,492.6 831.7,490.3 832.2,488C832.7,485.7 832.7,483.5 833.9,481.2C835,478.9 837.4,476.6 839,474.4C840.6,472.1 842,469.8 843.3,467.5C844.5,465.3 845.5,463 846.7,460.7C847.8,458.4 849,456.2 850.1,453.9C851.2,451.6 852.5,449.3 853.5,447.1C854.6,444.8 855.9,441.4 856.4,440.2L857.2,440.2Z" fill="#4da767"/>
<path d="M857.2,600.6L856.9,600.6C856.8,597.8 856.7,589.2 856.4,583.6C856.1,577.9 855.7,572.2 855.2,566.5C854.7,560.8 854.1,555.1 853.5,549.4C852.9,543.7 852.2,537.2 851.8,532.4C851.4,527.5 851.7,524.7 850.9,520.4C850.2,516.2 848.4,511 847.5,506.8C846.7,502.5 845.7,499.1 845.8,494.8C846,490.6 847.4,485.4 848.4,481.2C849.4,476.9 850.8,472.9 851.8,469.2C852.8,465.5 853.6,462.1 854.4,459C855.1,455.9 856,453 856.4,450.5C856.9,447.9 857,444.8 857.1,443.6L857.2,443.6Z" fill="#034413"/>
<path d="M857.2,592.1L857.8,592.1C858.2,589.2 859.3,580.7 860.3,575C861.3,569.3 862.6,563.6 863.7,558C864.9,552.3 865.9,545.7 867.2,540.9C868.4,536.1 870.9,532.1 871.4,529C872,525.8 871.7,524.4 870.6,522.1C869.4,519.9 864.2,517.9 864.6,515.3C865,512.7 870.3,509.6 873.1,506.8C876,503.9 879,501.1 881.7,498.2C884.4,495.4 888.5,492 889.3,489.7C890.2,487.4 888.1,486.6 886.8,484.6C885.5,482.6 883.1,480 881.7,477.8C880.2,475.5 879.7,473.2 878.2,470.9C876.8,468.7 875.1,466.7 873.1,464.1C871.1,461.6 868.3,457.9 866.3,455.6C864.3,453.3 862.5,451.9 861.2,450.5C859.9,449.1 859.1,447.6 858.6,447.1L857.2,447.1Z" fill="#b3b2c5"/>
<path d="M857.2,575L858.1,575C858.5,572.2 859.5,563.6 860.3,558C861.1,552.3 862.2,546.3 862.9,540.9C863.5,535.5 863.8,529.8 864.3,525.5C864.7,521.3 864.8,518.4 865.4,515.3C866.1,512.2 866.7,509.6 868,506.8C869.3,503.9 871.6,501.1 873.1,498.2C874.7,495.4 877,492.6 877.4,489.7C877.8,486.9 876.4,484 875.7,481.2C875,478.3 874.3,475.5 873.1,472.7C872,469.8 870.6,467 868.9,464.1C867.2,461.3 864.5,457.9 862.9,455.6C861.3,453.3 860.3,451.9 859.5,450.5C858.6,449.1 858.1,447.6 857.8,447.1L857.2,447.1Z" fill="#4c4c6a"/>
<path d="M857.2,549.4L857.8,549.4C857.9,545.2 858.4,530.9 858.6,523.8C858.9,516.7 859,512.5 859.1,506.8C859.3,501.1 859.5,495.4 859.5,489.7C859.4,484 859.2,478.3 859,472.7C858.7,467 858.4,459.9 858.1,455.6C857.9,451.3 857.5,448.5 857.4,447.1L857.2,447.1Z" fill="#0b0b14"/>
<path d="M930.6,669.7L927.7,669.7C928,666.7 929.1,663.3 929.4,651.8C929.8,640.3 930.1,612 929.8,600.6C929.5,589.2 928.6,589.2 927.7,583.6C926.8,577.9 925.6,571.6 924.3,566.5C923,561.4 921.5,557.1 920,552.8C918.6,548.6 917.1,544.6 915.8,540.9C914.5,537.2 912.8,533.5 912.4,530.7C911.9,527.8 912.1,525.8 913.2,523.8C914.4,521.8 919.1,520.4 919.2,518.7C919.3,517 916.1,515.6 914.1,513.6C912.1,511.6 909.5,509.3 907.2,506.8C905,504.2 901.8,500.5 900.4,498.2C899,496 898.4,495.1 898.7,493.1C899,491.1 900.7,488.9 902.1,486.3C903.6,483.7 905.5,480.6 907.2,477.8C909,474.9 910.7,472.1 912.4,469.2C914.1,466.4 915.6,463.6 917.5,460.7C919.3,457.9 921.8,454.7 923.5,452.2C925.2,449.6 926.6,447.6 927.7,445.4C928.9,443.1 929.9,439.7 930.3,438.5L930.6,438.5Z" fill="#b1e0c4"/>
<path d="M930.6,669.7L928.6,669.7C928.8,658.2 930,615 930,600.6C930,586.3 929.2,589.2 928.4,583.6C927.6,577.9 926.4,571.6 925.3,566.5C924.2,561.4 923,557.1 921.8,552.8C920.5,548.6 919,544.6 917.8,540.9C916.7,537.2 915.3,533.5 914.9,530.7C914.6,527.8 914.8,525.8 915.8,523.8C916.8,521.8 920.8,520.4 920.9,518.7C921,517 918.3,515.6 916.6,513.6C914.9,511.6 912.7,509.3 910.7,506.8C908.7,504.2 905.8,500.5 904.7,498.2C903.6,496 903.6,495.1 903.8,493.1C904.1,491.1 905.3,488.9 906.4,486.3C907.5,483.7 909.1,480.6 910.7,477.8C912.2,474.9 914.1,472.1 915.8,469.2C917.5,466.4 919.2,463.6 920.9,460.7C922.6,457.9 924.6,454.7 926,452.2C927.4,449.6 928.9,446.5 929.4,445.4L930.6,445.4Z" fill="#4da767"/>
<path d="M930.6,600.6L930.5,600.6C930.1,594.9 929.3,576.4 928.6,566.5C927.8,556.5 926.7,548 926,540.9C925.3,533.8 924.9,529.5 924.3,523.8C923.7,518.1 923.3,511.6 922.6,506.8C921.9,501.9 920,499.1 920,494.8C920,490.6 921.6,485.4 922.6,481.2C923.6,476.9 925,472.9 926,469.2C927,465.5 927.9,462.1 928.6,459C929.3,455.9 930,451.9 930.3,450.5L930.6,450.5Z" fill="#034413"/>
<path d="M930.6,669.7L966.1,669.7C964.8,669 961.1,667.3 958.4,665.4C955.7,663.6 951.9,660.9 949.9,658.6C947.9,656.3 947.6,654.1 946.5,651.8C945.4,649.5 944.8,647.2 943.1,645C941.4,642.7 937.8,639.9 936.3,638.1C934.7,636.4 934.2,638.1 933.7,634.7C933.2,631.3 933.5,623.4 933.2,617.7C932.9,612 932.3,604 932,600.6C931.6,597.2 931.3,597.8 931.1,597.2L930.6,597.2Z" fill="#cab4d8"/>
<path d="M1004,669.7L997.7,669.7C998.1,666.7 999.5,660.5 1000.2,651.8C1000.9,643.1 1002.1,627.6 1001.9,617.7C1001.8,607.7 1000.7,599.2 999.4,592.1C998.1,585 996,579.9 994.3,575C992.6,570.2 990.8,567.3 989.1,563.1C987.4,558.8 985.4,553.4 984,549.4C982.6,545.4 981.9,542 980.6,539.2C979.3,536.3 976.6,534.6 976.3,532.4C976.1,530.1 977.6,527.5 978.9,525.5C980.2,523.6 983.7,522.1 984,520.4C984.3,518.7 981.9,517.3 980.6,515.3C979.3,513.3 977.3,510.8 976.3,508.5C975.4,506.2 974.6,503.9 974.6,501.7C974.6,499.4 975.2,497.1 976.3,494.8C977.5,492.6 979.6,490.3 981.5,488C983.3,485.7 985.4,483.5 987.4,481.2C989.4,478.9 991.7,476.6 993.4,474.4C995.1,472.1 996.4,469.8 997.7,467.5C999,465.3 1000.2,463 1001.1,460.7C1001.9,458.4 1002.3,456.2 1002.8,453.9C1003.3,451.6 1003.8,448.2 1004,447.1L1004,447.1Z" fill="#b1e0c4"/>
<path d="M1004,669.7L998.5,669.7C999,666.7 1000.4,660.5 1001.1,651.8C1001.7,643.1 1002.6,627.6 1002.5,617.7C1002.3,607.7 1001.4,599.2 1000.2,592.1C999.1,585 997.2,579.9 995.6,575C994.1,570.2 992.5,567.3 990.8,563.1C989.2,558.8 987.2,553.4 985.7,549.4C984.3,545.4 983.3,542 982.3,539.2C981.3,536.3 980,534.6 979.8,532.4C979.5,530.1 979.6,527.5 980.6,525.5C981.6,523.6 985.3,522.1 985.7,520.4C986.2,518.7 984.2,517.3 983.2,515.3C982.2,513.3 980.5,510.8 979.8,508.5C979,506.2 978.8,503.9 978.9,501.7C979,499.4 979.6,497.1 980.6,494.8C981.6,492.6 983.3,490.3 984.9,488C986.4,485.7 988.3,483.5 990,481.2C991.7,478.9 993.7,476.6 995.1,474.4C996.5,472.1 997.5,469.8 998.5,467.5C999.6,465.3 1000.7,463 1001.4,460.7C1002.2,458.4 1002.8,455 1003.1,453.9L1004,453.9Z" fill="#4da767"/>
<path d="M1004,669.7L1001.9,669.7C1002.1,661 1003.1,630.6 1003.1,617.7C1003.1,604.7 1002.7,600.6 1001.9,592.1C1001.2,583.6 999.5,573.6 998.5,566.5C997.5,559.4 996.5,555.1 996,549.4C995.4,543.7 995.4,538.1 995.1,532.4C994.8,526.7 994.3,521 994.3,515.3C994.3,509.6 994.7,503.1 995.1,498.2C995.5,493.4 996.1,490.3 996.8,486.3C997.5,482.3 998.6,478.1 999.4,474.4C1000.1,470.7 1000.9,467.3 1001.4,464.1C1002,461 1002.6,457 1002.8,455.6L1004,455.6Z" fill="#034413"/>
<path d="M1004,669.7L1039.5,669.7C1038.2,669 1034.2,667 1031.8,665.4C1029.4,663.9 1026.5,662.3 1025,660.3C1023.4,658.3 1022.8,655.5 1022.4,653.5C1022,651.5 1023.1,650.1 1022.4,648.4C1021.7,646.7 1019.7,645 1018.1,643.3C1016.6,641.6 1014,642.4 1013,638.1C1012,633.9 1011.9,623.9 1012.2,617.7C1012.5,611.4 1013.6,604.9 1014.7,600.6C1015.9,596.3 1018.1,594.4 1019,592.1C1019.9,589.8 1020.3,589 1019.9,587C1019.4,585 1018.1,582.1 1016.4,580.1C1014.7,578.1 1011.6,576.7 1009.6,575C1007.6,573.3 1005.5,571 1004.6,569.9C1003.6,568.8 1004.1,568.5 1004,568.2L1004,568.2Z" fill="#cab4d8"/>
<path d="M1004,669.7L1010.5,669.7C1010.2,668.1 1009.3,663.3 1008.8,660.3C1008.2,657.3 1007.5,654.6 1007.1,651.8C1006.6,649 1006.3,646.1 1005.9,643.3C1005.4,640.4 1004.7,636.2 1004.5,634.7L1004,634.7Z" fill="#7c539b"/>
<path d="M1120.2,669.7L1086.2,669.7C1088.2,669.3 1095.1,668.3 1098.5,667.6C1101.9,666.9 1104.3,666.4 1106.7,665.6C1109.1,664.7 1111,663.5 1112.9,662.5C1114.8,661.4 1116.8,660.4 1118,659.4C1119.2,658.4 1119.7,656.8 1120.1,656.3L1120.2,656.3Z" fill="#b1e0c4"/>
<path d="M1189.9,669.7L1156,669.7C1157.4,669.1 1161.7,667.8 1164.2,666.6C1166.8,665.4 1169.2,664 1171.4,662.5C1173.6,660.9 1175.7,659.2 1177.6,657.3C1179.5,655.4 1181.2,653.2 1182.7,651.2C1184.3,649.1 1185.7,647.4 1186.8,645C1187.9,642.6 1188.9,639.9 1189.3,636.8C1189.7,633.7 1189.2,631 1189.3,626.5C1189.4,622.1 1189.8,612.8 1189.9,610.1L1189.9,610.1Z" fill="#b1e0c4"/>
<path d="M1189.9,669.7L1160.1,669.7C1161.3,669.1 1165.1,667.8 1167.3,666.6C1169.5,665.4 1171.4,664 1173.5,662.5C1175.5,660.9 1177.9,659.2 1179.6,657.3C1181.3,655.4 1182.5,653.2 1183.7,651.2C1185,649.1 1186.3,647.4 1187.2,645C1188.2,642.6 1188.8,639.2 1189.3,636.8C1189.7,634.4 1189.8,631.7 1189.9,630.6L1189.9,630.6Z" fill="#4da767"/>
<path d="M1189.9,669.7L1178.6,669.7C1179.3,669 1181.5,667.3 1182.7,665.6C1183.9,663.8 1184.9,661.8 1185.8,659.4C1186.7,657 1187.3,653.9 1187.9,651.2C1188.4,648.4 1188.9,645.3 1189.3,643C1189.6,640.6 1189.8,637.8 1189.9,636.8L1189.9,636.8Z" fill="#034413"/>
<path d="M1259.6,669.7L1259.5,669.7C1259.5,659 1259.1,626.9 1259,606C1258.9,585.1 1259.1,561.5 1259,544.3C1258.9,527.2 1258.9,512.8 1258.3,503.3C1257.8,493.7 1256.6,490.9 1255.6,486.8C1254.7,482.7 1253.6,481.3 1252.6,478.6C1251.5,475.9 1250.6,472.8 1249.5,470.4C1248.4,468 1247.2,466.3 1246,464.2C1244.8,462.2 1243.8,460.1 1242.3,458.1C1240.8,456 1238.3,454 1237.2,451.9C1236.1,449.8 1235.7,447.5 1235.7,445.7C1235.7,444 1236.4,443 1237.2,441.6C1237.9,440.3 1239,439.2 1240.2,437.5C1241.4,435.8 1242.8,433.4 1244.3,431.4C1245.9,429.3 1247.8,426.9 1249.5,425.2C1251.2,423.5 1252.9,422.6 1254.6,421.1C1256.3,419.5 1258.7,416.8 1259.5,416L1259.6,416Z" fill="#b1e0c4"/>
<path d="M1259.6,544.3L1259.3,544.3C1259.2,537.5 1259.2,512.8 1258.7,503.3C1258.3,493.7 1257.4,490.9 1256.7,486.8C1255.9,482.7 1255.2,481.3 1254.2,478.6C1253.2,475.9 1252,472.8 1250.9,470.4C1249.8,468 1248.5,466.3 1247.4,464.2C1246.3,462.2 1245.7,460.1 1244.3,458.1C1243,456 1240.2,454 1239.2,451.9C1238.2,449.8 1238,447.5 1238.2,445.7C1238.4,444 1239.4,443.3 1240.2,441.6C1241.1,439.9 1242.1,437.5 1243.3,435.5C1244.5,433.4 1245.9,431.4 1247.4,429.3C1249,427.2 1250.7,425.2 1252.6,423.1C1254.4,421.1 1257.7,418 1258.7,417L1259.6,417Z" fill="#4da767"/>
<path d="M1259.6,503.3L1259.3,503.3C1259.1,499.8 1258.5,488.5 1257.9,482.7C1257.3,476.9 1256.4,472.4 1255.6,468.3C1254.9,464.2 1254.1,461.5 1253.6,458.1C1253.1,454.6 1252.7,451.2 1252.6,447.8C1252.4,444.4 1252.2,440.9 1252.6,437.5C1252.9,434.1 1253.8,430.3 1254.6,427.2C1255.5,424.2 1256.9,420.7 1257.7,419C1258.5,417.3 1259.2,417.3 1259.5,417L1259.6,417Z" fill="#034413"/>
<path d="M1259.6,478.6L1260,478.6C1260.6,477.2 1262.2,472.8 1263.9,470.4C1265.5,468 1268,466.3 1270,464.2C1272.1,462.2 1274.5,460.3 1276.2,458.1C1277.9,455.8 1280.3,452.9 1280.3,450.9C1280.3,448.8 1278.1,447.6 1276.2,445.7C1274.3,443.9 1271.6,441.5 1269,439.6C1266.4,437.7 1262.3,435.6 1260.8,434.4C1259.3,433.2 1260.1,432.7 1260,432.4L1259.6,432.4Z" fill="#e2c5c8"/>
<path d="M1259.6,472.4L1260.2,472.4C1260.8,471.4 1262.4,468.3 1263.9,466.3C1265.3,464.2 1267.5,462.2 1269,460.1C1270.5,458.1 1272.2,455.7 1273.1,454C1274,452.2 1274.5,451.6 1274.1,449.8C1273.8,448.1 1272.6,445.7 1271.1,443.7C1269.5,441.6 1266.7,439.2 1264.9,437.5C1263.1,435.9 1261,434.4 1260.2,433.8L1259.6,433.8Z" fill="#aa716f"/>
<path d="M1259.6,462.2L1260.2,462.2C1260.4,461.1 1261.4,457.9 1261.8,456C1262.3,454.1 1262.8,452.6 1262.8,450.9C1262.8,449.2 1262.2,447.3 1261.8,445.7C1261.4,444.2 1260.6,442.3 1260.4,441.6L1259.6,441.6Z" fill="#4a1212"/>
<path d="M1329.3,662.8L1329.2,662.8C1329.1,645.4 1328.8,586.5 1328.7,558.2C1328.6,529.8 1328.7,507.3 1328.7,492.8C1328.6,478.2 1328.7,476.1 1328.4,471C1328,465.9 1327.6,465.2 1326.6,462.3C1325.7,459.4 1324.4,456.1 1322.7,453.5C1321,451 1318.3,449.2 1316.2,447C1314,444.8 1311.3,442.6 1309.6,440.5C1308,438.3 1306.7,436.1 1306.3,433.9C1306,431.7 1307.1,429.2 1307.4,427.4C1307.8,425.6 1307.8,424.8 1308.5,423C1309.3,421.2 1310.5,418.3 1311.8,416.5C1313.1,414.7 1314.3,413.6 1316.2,412.1C1318,410.7 1320.5,409 1322.7,407.8C1324.9,406.5 1328.1,405 1329.2,404.5L1329.3,404.5Z" fill="#b1e0c4"/>
<path d="M1329.3,492.8L1329,492.8C1328.9,489.1 1328.9,476.1 1328.6,471C1328.3,465.9 1327.9,465.2 1327.1,462.3C1326.3,459.4 1325.3,456.1 1323.8,453.5C1322.3,451 1319.9,449.2 1317.9,447C1315.9,444.8 1313.2,442.6 1311.8,440.5C1310.3,438.3 1309.5,436.1 1309.2,433.9C1308.9,431.7 1309.6,429.6 1310.1,427.4C1310.5,425.2 1311,422.8 1311.8,420.9C1312.6,418.9 1313.6,417 1315.1,415.4C1316.5,413.8 1318.5,412.5 1320.5,411C1322.5,409.6 1326,407.4 1327.1,406.7L1329.3,406.7Z" fill="#4da767"/>
<path d="M1329.3,462.3L1329.2,462.3C1328.9,460.8 1328,456.5 1327.1,453.5C1326.1,450.6 1324.7,447.7 1323.8,444.8C1322.9,441.9 1321.8,439 1321.6,436.1C1321.4,433.2 1322.2,430.3 1322.7,427.4C1323.2,424.5 1324.1,421.2 1324.9,418.7C1325.6,416.1 1326.3,413.9 1327.1,412.1C1327.8,410.3 1328.9,408.5 1329.2,407.8L1329.3,407.8Z" fill="#034413"/>
<path d="M1329.3,418.7L1329.7,418.7C1330.7,418.1 1333.8,416.5 1335.8,415.4C1337.7,414.3 1339.8,413.2 1341.2,412.1C1342.7,411 1345.2,409.8 1344.5,408.9C1343.8,408 1339.3,407.2 1336.9,406.7C1334.4,406.1 1330.9,405.8 1329.7,405.6L1329.3,405.6Z" fill="#e2c5c8"/>
<path d="M1329.3,415.4L1329.7,415.4C1330.3,415 1332.4,413.9 1333.6,413.2C1334.8,412.5 1336.9,412 1336.9,411C1336.9,410.1 1334.8,408.5 1333.6,407.8C1332.4,407 1330.3,406.9 1329.7,406.7L1329.3,406.7Z" fill="#aa716f"/>
<path d="M1329.3,414.3L1329.7,414.3C1330,413.9 1331.7,412.6 1331.8,411.7C1332,410.8 1330.6,409.3 1330.3,408.9L1329.3,408.9Z" fill="#4a1212"/>
<path d="M1399,662.8L1399,662.8C1398.9,638.1 1398.5,550.2 1398.4,514.6C1398.3,479 1398.5,463.7 1398.3,449.2C1398.2,434.7 1397.9,433.9 1397.5,427.4C1397,420.9 1396.5,414.7 1395.7,410C1394.9,405.2 1393.5,402.3 1392.4,399.1C1391.4,395.8 1390.6,392.9 1389.2,390.3C1387.7,387.8 1385.4,385.6 1383.7,383.8C1382.1,382 1379.7,380.9 1379.4,379.4C1379,378 1380.1,376.3 1381.5,375.1C1383,373.8 1386.1,372.7 1388.1,371.8C1390.1,370.9 1391.7,370.4 1393.5,369.6C1395.3,368.9 1398.1,367.8 1399,367.4L1399,367.4Z" fill="#b1e0c4"/>
<path d="M1399,449.2L1398.8,449.2C1398.6,445.6 1398.3,433.9 1397.9,427.4C1397.5,420.9 1397.1,414.7 1396.4,410C1395.7,405.2 1394.7,402.3 1393.8,399.1C1392.8,395.8 1392,392.9 1390.7,390.3C1389.4,387.8 1387.2,385.6 1385.9,383.8C1384.6,382 1382.9,380.9 1382.6,379.4C1382.3,378 1383,376.3 1384.2,375.1C1385.4,373.8 1388.1,372.7 1389.8,371.8C1391.6,370.9 1393.1,370.2 1394.6,369.6C1396.1,369 1398.2,368.4 1399,368.1L1399,368.1Z" fill="#4da767"/>
<path d="M1399,416.5L1399,416.5C1398.8,414.7 1398.3,409.2 1397.9,405.6C1397.5,402 1397.2,398 1396.8,394.7C1396.4,391.4 1396.3,388.5 1395.7,386C1395.2,383.4 1394.1,381.3 1393.5,379.4C1393,377.6 1392.1,376.3 1392.4,375.1C1392.8,373.8 1394.6,372.7 1395.7,371.8C1396.8,370.9 1398.4,370 1399,369.6L1399,369.6Z" fill="#034413"/>
<path d="M1399,379.4L1399.2,379.4C1399.9,379.1 1401.9,378 1403.3,377.3C1404.8,376.5 1406.4,375.8 1407.7,375.1C1409,374.4 1411.3,373.6 1411,372.9C1410.6,372.2 1407.2,371.4 1405.5,370.7C1403.9,370.1 1402.2,369.4 1401.2,369C1400.1,368.5 1399.5,368.2 1399.2,368.1L1399,368.1Z" fill="#e2c5c8"/>
<path d="M1399,375.1L1399.2,375.1C1399.6,374.7 1401.1,373.6 1401.6,372.9C1402.1,372.2 1402.5,371.7 1402.3,371.2C1402,370.6 1400.4,370.1 1400.1,369.8L1399,369.8Z" fill="#aa716f"/>
<path d="M1468.7,662.8L1468.7,662.8C1468.6,641.7 1468.2,568.3 1468.1,536.4C1468,504.4 1468.1,485.5 1468.1,471C1468,456.5 1468.2,455.4 1467.9,449.2C1467.5,443 1466.7,437.6 1466.1,433.9C1465.5,430.3 1465.4,429.6 1464.4,427.4C1463.4,425.2 1461.5,422.7 1460,420.9C1458.6,419 1457.5,417.9 1455.7,416.5C1453.8,415 1451.3,413.9 1449.1,412.1C1446.9,410.3 1444,407.8 1442.6,405.6C1441.1,403.4 1440,401.2 1440.4,399.1C1440.8,396.9 1442.9,394.3 1444.8,392.5C1446.6,390.7 1448.8,389.4 1451.3,388.2C1453.8,386.9 1457.1,385.6 1460,384.9C1462.9,384.2 1467.2,384 1468.7,383.8L1468.7,383.8Z" fill="#b1e0c4"/>
<path d="M1468.7,492.8L1468.5,492.8C1468.4,485.5 1468.3,459 1468.1,449.2C1467.8,439.4 1467.2,437.6 1466.8,433.9C1466.3,430.3 1466.4,429.6 1465.5,427.4C1464.5,425.2 1462.4,422.7 1461.1,420.9C1459.8,419 1459.3,417.9 1457.8,416.5C1456.4,415 1454.2,413.9 1452.4,412.1C1450.6,410.3 1448.1,407.8 1446.9,405.6C1445.7,403.4 1445,401.2 1445.2,399.1C1445.4,396.9 1446.5,394.3 1448,392.5C1449.6,390.7 1452.2,389.3 1454.6,388.2C1456.9,387 1459.8,386.2 1462.2,385.5C1464.5,384.9 1467.6,384.5 1468.7,384.2L1468.7,384.2Z" fill="#4da767"/>
<path d="M1468.7,438.3L1468.7,438.3C1468.5,436.5 1468.2,430.7 1467.6,427.4C1467.1,424.1 1466.2,421.6 1465.5,418.7C1464.7,415.8 1464,412.9 1463.3,410C1462.6,407 1461.3,403.8 1461.1,401.2C1460.9,398.7 1461.6,396.7 1462.2,394.7C1462.7,392.7 1463.5,390.7 1464.4,389.2C1465.3,387.8 1466.9,386.7 1467.6,386C1468.4,385.2 1468.5,385.1 1468.7,384.9L1468.7,384.9Z" fill="#034413"/>
<path d="M1468.7,392.5L1469.2,392.5C1470.2,392.2 1473.3,391.2 1475.3,390.3C1477.2,389.4 1480.4,388.2 1480.7,387.1C1481.1,386 1479.1,384.7 1477.5,383.8C1475.8,382.9 1472.3,382.1 1470.9,381.6C1469.5,381.2 1469.5,381.3 1469.2,381.2L1468.7,381.2Z" fill="#e2c5c8"/>
<path d="M1468.7,391.4L1469.2,391.4C1469.8,391.1 1472.1,390 1473.1,389.2C1474.1,388.5 1475.3,387.8 1475.3,387.1C1475.3,386.3 1474.1,385.6 1473.1,384.9C1472.1,384.2 1469.8,383.1 1469.2,382.7L1468.7,382.7Z" fill="#aa716f"/>
<path d="M1538.3,669.3L1505.4,669.3C1506.7,668.8 1510.7,667.3 1513.1,666.1C1515.4,664.8 1518.2,663.3 1519.6,661.7C1521.1,660.1 1521.4,658.3 1521.8,656.3C1522.2,654.3 1521.3,651.9 1521.8,649.7C1522.3,647.5 1523.6,645.4 1525.1,643.2C1526.5,641 1529.2,639.9 1530.5,636.6C1531.8,633.4 1532.3,629.4 1532.7,623.6C1533.1,617.7 1533.5,609 1533.1,601.8C1532.8,594.5 1531.4,587.2 1530.5,580C1529.6,572.7 1528.1,565.4 1527.9,558.2C1527.7,550.9 1528.7,542.9 1529.4,536.4C1530.2,529.8 1531.5,526.2 1532.3,518.9C1533,511.7 1533.2,500.8 1533.8,492.8C1534.4,484.8 1535.3,478.2 1536,471C1536.6,463.7 1537.2,456.5 1537.5,449.2C1537.8,441.9 1537.6,432.8 1537.7,427.4C1537.9,421.9 1538.2,418.3 1538.3,416.5L1538.3,416.5Z" fill="#b1e0c4"/>
<path d="M1538.3,669.3L1509.8,669.3C1510.9,668.8 1514.4,667.3 1516.3,666.1C1518.3,664.8 1520.3,663.3 1521.4,661.7C1522.5,660.1 1522.6,658.3 1522.9,656.3C1523.2,654.3 1522.6,651.9 1523.1,649.7C1523.6,647.5 1524.7,645.4 1526.2,643.2C1527.6,641 1530.4,639.9 1531.6,636.6C1532.8,633.4 1533,629.4 1533.3,623.6C1533.7,617.7 1534.1,609 1533.8,601.8C1533.5,594.5 1532.4,587.2 1531.6,580C1530.8,572.7 1529,565.4 1528.8,558.2C1528.6,550.9 1529.9,542.9 1530.5,536.4C1531.2,529.8 1532,526.2 1532.7,518.9C1533.3,511.7 1533.8,500.8 1534.4,492.8C1535.1,484.8 1536.1,478.2 1536.6,471C1537.2,463.7 1537.5,454.6 1537.7,449.2C1538,443.7 1538.2,440.1 1538.3,438.3L1538.3,438.3Z" fill="#4da767"/>
<path d="M1538.3,669.3L1532.3,669.3C1532.4,668.2 1532.8,666.8 1533.1,662.8C1533.5,658.8 1534.1,651.9 1534.4,645.4C1534.7,638.8 1535,630.8 1534.9,623.6C1534.8,616.3 1534.2,609 1533.8,601.8C1533.3,594.5 1532.9,587.2 1532.3,580C1531.6,572.7 1530.2,565.4 1530.1,558.2C1530,550.9 1531,543.6 1531.6,536.4C1532.2,529.1 1533.1,521.8 1533.8,514.6C1534.5,507.3 1535.3,500 1536,492.8C1536.6,485.5 1537.2,478.2 1537.5,471C1537.8,463.7 1537.6,454.6 1537.7,449.2C1537.9,443.7 1538.2,440.1 1538.3,438.3L1538.3,438.3Z" fill="#034413"/>
<path d="M1608,669.3L1598.1,669.3C1598.8,668.2 1601.2,666.8 1602.4,662.8C1603.7,658.8 1605,651.9 1605.7,645.4C1606.4,638.8 1606.7,634.5 1606.8,623.6C1606.9,612.7 1606.4,594.5 1606.1,580C1605.9,565.4 1605.7,550.9 1605.5,536.4C1605.3,521.8 1605.4,503.7 1605.1,492.8C1604.7,481.9 1604.2,476.4 1603.5,471C1602.9,465.5 1602.3,463.7 1601.4,460.1C1600.4,456.5 1599,452.8 1598.1,449.2C1597.2,445.6 1597,441.9 1595.9,438.3C1594.8,434.7 1592.6,430.7 1591.5,427.4C1590.5,424.1 1589.9,420.9 1589.4,418.7C1588.8,416.5 1587.7,416.5 1588.3,414.3C1588.8,412.1 1591.5,408.9 1592.6,405.6C1593.7,402.3 1593.7,398.3 1594.8,394.7C1595.9,391.1 1597.5,387.1 1599.2,383.8C1600.8,380.5 1603.2,377.1 1604.6,375.1C1606.1,373.1 1607.3,372.4 1607.9,371.8L1608,371.8Z" fill="#b1e0c4"/>
<path d="M1608,669.3L1599.2,669.3C1599.9,668.2 1602.4,666.8 1603.5,662.8C1604.7,658.8 1605.6,659.2 1606.1,645.4C1606.7,631.6 1606.6,598.1 1606.6,580C1606.5,561.8 1606.1,550.9 1605.9,536.4C1605.8,521.8 1605.8,503.7 1605.5,492.8C1605.2,481.9 1604.7,476.4 1604.2,471C1603.7,465.5 1603.2,463.7 1602.4,460.1C1601.7,456.5 1600.7,452.8 1599.8,449.2C1599,445.6 1598.3,441.9 1597.2,438.3C1596.1,434.7 1594.3,430.7 1593.3,427.4C1592.3,424.1 1591.6,420.9 1591.1,418.7C1590.6,416.5 1589.9,416.5 1590.5,414.3C1591,412.1 1593.2,408.9 1594.2,405.6C1595.1,402.3 1595.3,398.3 1596.3,394.7C1597.4,391.1 1598.7,387.1 1600.3,383.8C1601.8,380.5 1604.2,376.9 1605.5,375.1C1606.8,373.3 1607.5,373.3 1607.9,372.9L1608,372.9Z" fill="#4da767"/>
<path d="M1608,645.4L1608,645.4C1607.9,639.9 1607.5,623.6 1607.4,612.7C1607.3,601.8 1607.5,592.7 1607.4,580C1607.4,567.3 1607.3,550.9 1607.2,536.4C1607.1,521.8 1607.1,503.7 1606.8,492.8C1606.5,481.9 1606.3,478.2 1605.7,471C1605.2,463.7 1604.3,455.4 1603.5,449.2C1602.8,443 1601.9,438.3 1601.4,433.9C1600.8,429.6 1600.6,426.3 1600.3,423C1599.9,419.8 1599.1,417.2 1599.2,414.3C1599.2,411.4 1600.2,408.9 1600.7,405.6C1601.2,402.3 1601.8,398.3 1602.4,394.7C1603.1,391.1 1603.8,387.1 1604.6,383.8C1605.4,380.5 1606.7,376.7 1607.2,375.1C1607.8,373.4 1607.9,374.2 1608,374L1608,374Z" fill="#034413"/>
<path d="M1608,378.3L1608.5,378.3C1609.7,378.2 1613.1,377.8 1615.5,377.3C1618,376.7 1622.6,375.8 1623.2,375.1C1623.7,374.4 1620.4,373.4 1618.8,372.9C1617.2,372.4 1615.1,372.1 1613.3,371.8C1611.6,371.6 1609.3,371.4 1608.5,371.4L1608,371.4Z" fill="#e2c5c8"/>
<path d="M1677.7,669.3L1673.3,669.3C1673.6,668.2 1674.8,666.8 1675.5,662.8C1676.1,658.8 1676.7,655.5 1677,645.4C1677.3,635.2 1677.1,623.6 1677.1,601.8C1677.1,580 1677.1,536.4 1677,514.6C1676.9,492.8 1676.8,481.2 1676.6,471C1676.3,460.8 1676,459 1675.5,453.5C1674.9,448.1 1674.4,442.6 1673.3,438.3C1672.2,433.9 1670.9,430.3 1668.9,427.4C1666.9,424.5 1664,423 1661.3,420.9C1658.6,418.7 1654,416.3 1652.6,414.3C1651.1,412.3 1651.9,410.7 1652.6,408.9C1653.3,407 1655.1,405.4 1656.9,403.4C1658.8,401.4 1661.3,399.1 1663.5,396.9C1665.7,394.7 1667.7,392.5 1670,390.3C1672.4,388.2 1676.4,384.9 1677.6,383.8L1677.7,383.8Z" fill="#b1e0c4"/>
<path d="M1677.7,669.3L1674.4,669.3C1674.7,668.2 1675.7,666.8 1676.1,662.8C1676.6,658.8 1677,670.1 1677.1,645.4C1677.3,620.7 1677.1,543.6 1677.1,514.6C1677.1,485.5 1677.2,481.2 1677,471C1676.8,460.8 1676.6,459 1676.1,453.5C1675.6,448.1 1675,442.6 1673.9,438.3C1672.9,433.9 1671.6,430.3 1670,427.4C1668.5,424.5 1666.7,423 1664.6,420.9C1662.4,418.7 1658.3,416.3 1656.9,414.3C1655.6,412.3 1656,410.7 1656.5,408.9C1657,407 1658.7,405.4 1660.2,403.4C1661.7,401.4 1663.7,399.1 1665.7,396.9C1667.7,394.7 1670.2,392.3 1672.2,390.3C1674.2,388.3 1676.7,385.8 1677.6,384.9L1677.7,384.9Z" fill="#4da767"/>
<path d="M1677.7,460.1L1677.7,460.1C1677.6,458.3 1677.4,453.5 1677,449.2C1676.6,444.8 1676.1,437.9 1675.5,433.9C1674.8,429.9 1674.2,428.1 1673.3,425.2C1672.4,422.3 1670.6,419 1670,416.5C1669.4,413.9 1669.4,412.1 1669.6,410C1669.8,407.8 1670.5,405.6 1671.1,403.4C1671.7,401.2 1672.6,399.1 1673.3,396.9C1674,394.7 1674.8,392.3 1675.5,390.3C1676.1,388.3 1676.7,386 1677.1,384.9C1677.5,383.8 1677.6,384 1677.7,383.8L1677.7,383.8Z" fill="#034413"/>
<path d="M1747.4,662.8L1747.4,662.8C1747.3,641.7 1746.9,572 1746.8,536.4C1746.7,500.8 1746.8,468.1 1746.8,449.2C1746.8,430.3 1746.8,429.2 1746.6,423C1746.4,416.9 1746,415 1745.5,412.1C1745.1,409.2 1744.6,407.8 1743.8,405.6C1742.9,403.4 1742.2,401.2 1740.5,399.1C1738.9,396.9 1736.2,394.7 1734,392.5C1731.8,390.3 1729.4,387.8 1727.4,386C1725.4,384.2 1722.7,383.1 1722,381.6C1721.3,380.2 1721.8,378.7 1723.1,377.3C1724.3,375.8 1727.1,374 1729.6,372.9C1732.2,371.8 1735.4,371.3 1738.3,370.7C1741.3,370.2 1745.9,369.8 1747.4,369.6L1747.4,369.6Z" fill="#b1e0c4"/>
<path d="M1747.4,449.2L1747.3,449.2C1747.2,444.8 1747,429.2 1746.8,423C1746.6,416.9 1746.4,415 1746,412.1C1745.6,409.2 1745.2,407.8 1744.4,405.6C1743.7,403.4 1743.1,401.2 1741.6,399.1C1740.2,396.9 1737.5,394.7 1735.7,392.5C1733.9,390.3 1732,387.8 1730.7,386C1729.4,384.2 1728.2,383.1 1727.9,381.6C1727.5,380.2 1727.7,378.5 1728.5,377.3C1729.4,376 1731.1,374.9 1732.9,374C1734.7,373.1 1737.1,372.4 1739.4,371.8C1741.8,371.2 1745.8,370.5 1747.1,370.3L1747.4,370.3Z" fill="#4da767"/>
<path d="M1747.4,416.5L1747.4,416.5C1747.3,414.7 1747,408.5 1746.6,405.6C1746.2,402.7 1745.5,401.2 1744.9,399.1C1744.2,396.9 1743.4,394.7 1742.7,392.5C1742,390.3 1740.9,388.2 1740.5,386C1740.2,383.8 1740.2,381.3 1740.5,379.4C1740.8,377.6 1741.5,376.3 1742.3,375.1C1743,373.8 1744,372.5 1744.9,371.8C1745.7,371.1 1747,370.9 1747.4,370.7L1747.4,370.7Z" fill="#034413"/>
<path d="M1817.1,671.5L1814.6,671.5C1814.9,670.1 1816.1,667.2 1816.4,662.8C1816.7,658.4 1816.5,659.2 1816.5,645.4C1816.5,631.6 1816.5,601.8 1816.5,580C1816.5,558.2 1816.4,532.7 1816.4,514.6C1816.3,496.4 1816.4,480.4 1816.1,471C1815.9,461.5 1815.2,461.5 1814.6,457.9C1814,454.3 1813.4,452.5 1812.4,449.2C1811.5,445.9 1810.3,441.9 1809.2,438.3C1808.1,434.7 1807.2,430.3 1805.9,427.4C1804.6,424.5 1803.2,423 1801.5,420.9C1799.9,418.7 1797.7,416.9 1796.1,414.3C1794.5,411.8 1792.1,408.1 1791.7,405.6C1791.4,403.1 1792.6,401.2 1793.9,399.1C1795.2,396.9 1797.4,394.7 1799.4,392.5C1801.4,390.3 1803.9,388.2 1805.9,386C1807.9,383.8 1809.5,381.4 1811.4,379.4C1813.2,377.4 1816.1,374.9 1817.1,374L1817.1,374Z" fill="#b1e0c4"/>
<path d="M1817.1,671.5L1817,671.5C1816.9,663.5 1816.6,638.8 1816.5,623.6C1816.4,608.3 1816.5,598.1 1816.5,580C1816.5,561.8 1816.5,532.7 1816.5,514.6C1816.5,496.4 1816.6,480.4 1816.4,471C1816.1,461.5 1815.6,461.5 1815.1,457.9C1814.5,454.3 1813.9,452.5 1813.1,449.2C1812.3,445.9 1811.3,441.9 1810.3,438.3C1809.2,434.7 1808.2,430.3 1807,427.4C1805.8,424.5 1804.7,423 1803.3,420.9C1801.8,418.7 1799.7,416.9 1798.3,414.3C1796.9,411.8 1795.3,408.1 1795,405.6C1794.8,403.1 1795.7,401.2 1796.8,399.1C1797.8,396.9 1799.7,394.7 1801.5,392.5C1803.4,390.3 1805.8,388.2 1807.6,386C1809.5,383.8 1810.9,381.3 1812.4,379.4C1814,377.5 1816.3,375.4 1817.1,374.6L1817.1,374.6Z" fill="#4da767"/>
<path d="M1817.1,601.8L1817.1,601.8C1817,594.5 1816.6,572.7 1816.5,558.2C1816.4,543.6 1816.5,529.1 1816.5,514.6C1816.5,500 1816.6,481.9 1816.5,471C1816.4,460.1 1816.5,455.4 1816.1,449.2C1815.8,443 1815.4,438.7 1814.6,433.9C1813.8,429.2 1812.4,424.8 1811.4,420.9C1810.3,416.9 1808.8,413.2 1808.1,410C1807.4,406.7 1806.8,404.1 1807,401.2C1807.2,398.3 1808.4,395.1 1809.2,392.5C1809.9,390 1810.4,388.2 1811.4,386C1812.3,383.8 1813.7,381.3 1814.6,379.4C1815.6,377.6 1816.7,375.8 1817.1,375.1L1817.1,375.1Z" fill="#034413"/>
<path d="M1886.8,662.8L1886.8,662.8C1886.7,641.7 1886.3,572 1886.2,536.4C1886.1,500.8 1886.2,467.4 1886.2,449.2C1886.2,431 1886.3,432.8 1886.1,427.4C1885.9,421.9 1885.7,419.8 1885,416.5C1884.4,413.2 1883.8,410.3 1882.2,407.8C1880.6,405.2 1878.2,403.4 1875.7,401.2C1873.1,399.1 1869.1,396.5 1866.9,394.7C1864.8,392.9 1862.6,391.8 1862.6,390.3C1862.6,388.9 1864.8,387.4 1866.9,386C1869.1,384.5 1873.1,382.9 1875.7,381.6C1878.2,380.3 1880.3,379.3 1882.2,378.3C1884,377.4 1886,376.5 1886.8,376.2L1886.8,376.2Z" fill="#b1e0c4"/>
<path d="M1886.8,449.2L1886.8,449.2C1886.7,445.6 1886.4,432.8 1886.2,427.4C1885.9,421.9 1885.8,419.8 1885.2,416.5C1884.7,413.2 1884.2,410.3 1882.8,407.8C1881.5,405.2 1879.3,403.4 1877.2,401.2C1875.1,399.1 1871.9,396.5 1870.2,394.7C1868.5,392.9 1866.9,391.8 1866.9,390.3C1866.9,388.9 1868.4,387.4 1870.2,386C1872,384.5 1875.5,382.9 1877.8,381.6C1880.2,380.3 1882.9,379.1 1884.4,378.3C1885.9,377.5 1886.4,377.1 1886.8,376.8L1886.8,376.8Z" fill="#4da767"/>
<path d="M1886.8,416.5L1886.8,416.5C1886.7,415 1886.6,410.3 1886.1,407.8C1885.6,405.2 1884.8,403.4 1883.9,401.2C1883.1,399.1 1881.9,396.9 1881.1,394.7C1880.3,392.5 1878.9,390 1878.9,388.2C1878.9,386.3 1880.2,385.2 1881.1,383.8C1882,382.3 1883.4,380.5 1884.4,379.4C1885.3,378.3 1886.4,377.6 1886.8,377.3L1886.8,377.3Z" fill="#034413"/>
<path d="M1886.8,381.6L1887.9,381.6C1888.7,381.3 1891.3,380.1 1893.1,379.4C1894.9,378.8 1898.5,378.2 1898.5,377.7C1898.5,377.1 1894.9,376.5 1893.1,376.2C1891.3,375.8 1888.7,375.6 1887.9,375.5L1886.8,375.5Z" fill="#cab4d8"/>
<path d="M1886.8,380.5L1887.9,380.5C1888.4,380.3 1890,379.5 1890.9,379C1891.8,378.5 1893.6,377.7 1893.1,377.3C1892.6,376.8 1888.7,376.3 1887.9,376.2L1886.8,376.2Z" fill="#7c539b"/>
<path d="M1886.8,379.4L1887.9,379.4C1888.2,379.1 1889.8,378.2 1889.8,377.7C1889.8,377.2 1888.2,376.6 1887.9,376.4L1886.8,376.4Z" fill="#1c0a33"/>
<path d="M1956.5,662.8L1956.5,662.8C1956.4,634.5 1956,532 1955.9,492.8C1955.8,453.5 1955.9,441.2 1955.9,427.4C1955.8,413.6 1955.8,414.3 1955.6,410C1955.4,405.6 1955,403.4 1954.5,401.2C1953.9,399.1 1953.6,398.3 1952.3,396.9C1951,395.4 1948.7,394 1946.9,392.5C1945,391.1 1943.1,389.6 1941.4,388.2C1939.7,386.7 1937,385.1 1936.6,383.8C1936.3,382.5 1937.7,381.6 1939.2,380.5C1940.8,379.4 1943.8,378.3 1945.8,377.3C1947.8,376.2 1949.4,374.8 1951.2,374C1953,373.2 1955.6,372.7 1956.5,372.5L1956.5,372.5Z" fill="#b1e0c4"/>
<path d="M1956.5,427.4L1956.2,427.4C1956.2,424.5 1956,414.3 1955.8,410C1955.6,405.6 1955.4,403.4 1954.9,401.2C1954.5,399.1 1954.1,398.3 1953,396.9C1951.9,395.4 1950,394 1948.4,392.5C1946.8,391.1 1944.9,389.6 1943.6,388.2C1942.2,386.7 1940.6,385.1 1940.3,383.8C1940,382.5 1940.8,381.6 1941.8,380.5C1942.9,379.4 1945.1,378.2 1946.9,377.3C1948.6,376.3 1950.7,375.3 1952.3,374.6C1953.9,374 1955.8,373.6 1956.5,373.3L1956.5,373.3Z" fill="#4da767"/>
<path d="M1956.5,405.6L1956.5,405.6C1956.4,404.5 1956.2,400.9 1955.8,399.1C1955.4,397.2 1954.7,396.1 1954.1,394.7C1953.4,393.2 1952.5,391.8 1951.9,390.3C1951.3,388.9 1950.8,387.4 1950.6,386C1950.4,384.5 1950.3,382.9 1950.6,381.6C1950.9,380.3 1951.5,379.4 1952.3,378.3C1953.1,377.3 1955,375.6 1955.6,375.1L1956.5,375.1Z" fill="#034413"/>
<path d="M1956.5,378.3L1957.1,378.3C1958.1,378.1 1960.9,377.4 1963.2,376.8C1965.5,376.3 1970.8,375.6 1970.8,375.1C1970.8,374.6 1965.5,374.4 1963.2,374C1960.9,373.6 1958.1,373.1 1957.1,372.9L1956.5,372.9Z" fill="#cab4d8"/>
<path d="M1956.5,377.7L1957.1,377.7C1958.1,377.4 1961.1,376.6 1963.2,376.2C1965.3,375.7 1970.1,375.4 1969.7,375.1C1969.4,374.7 1962.5,374.2 1961,374L1956.5,374Z" fill="#7c539b"/>
<path d="M1956.5,377.3L1957.1,377.3C1957.6,377 1958.9,376.2 1959.9,375.7C1961,375.3 1963.4,375 1963.2,374.6C1963,374.3 1959.6,373.9 1958.9,373.8L1956.5,373.8Z" fill="#1c0a33"/>
<path d="M2026.2,669.3L2025.5,669.3C2025.5,654.4 2025.6,609.4 2025.5,580C2025.5,550.5 2025.4,513.1 2025.3,492.8C2025.3,472.4 2025.3,465.9 2025.1,457.9C2024.9,449.9 2024.7,448.8 2024.2,444.8C2023.7,440.8 2023,436.8 2022.1,433.9C2021.2,431 2020.2,429.6 2018.8,427.4C2017.3,425.2 2015.3,422.7 2013.3,420.9C2011.3,419 2008.4,417.8 2006.8,416.5C2005.2,415.2 2003.2,414.7 2003.5,413.2C2003.9,411.8 2007,409.8 2009,407.8C2011,405.8 2013.3,403.4 2015.5,401.2C2017.7,399.1 2020.3,396.5 2022.1,394.7C2023.8,392.9 2025.3,391.1 2026,390.3L2026.2,390.3Z" fill="#b1e0c4"/>
<path d="M2026.2,492.8L2025.5,492.8C2025.5,487 2025.5,465.9 2025.3,457.9C2025.2,449.9 2025.1,448.8 2024.7,444.8C2024.2,440.8 2023.5,436.8 2022.7,433.9C2021.9,431 2021.2,429.6 2019.9,427.4C2018.6,425.2 2016.9,422.7 2015.1,420.9C2013.3,419 2010.4,417.8 2009,416.5C2007.6,415.2 2006.4,414.7 2006.8,413.2C2007.2,411.8 2009.3,409.8 2011.2,407.8C2013,405.8 2015.7,403.4 2017.7,401.2C2019.7,399.1 2021.8,396.4 2023.2,394.7C2024.5,393 2025.5,391.6 2026,391L2026.2,391Z" fill="#4da767"/>
<path d="M2026.2,449.2L2026,449.2C2025.8,447 2025.4,439.7 2024.9,436.1C2024.4,432.5 2023.8,430.3 2023.2,427.4C2022.5,424.5 2021.7,421.2 2021,418.7C2020.2,416.1 2018.8,414.3 2018.8,412.1C2018.8,410 2020.2,407.8 2021,405.6C2021.7,403.4 2022.3,401.2 2023.2,399.1C2024,396.9 2025.5,393.6 2026,392.5L2026.2,392.5Z" fill="#034413"/>
<path d="M123.3,709.5L122,709.5C122.1,712.4 122.5,720.6 122.3,727.3C122.1,734 121.4,742.1 120.8,749.6C120.1,757 119.4,764.4 118.3,771.9C117.3,779.3 115.9,787.5 114.5,794.1C113.2,800.8 111.9,806.4 110.1,812C108.2,817.5 105.4,823.1 103.4,827.6C101.4,832 99.7,835 97.8,838.7C96,842.4 93.8,846.1 92.3,849.8C90.7,853.6 88.8,857.6 88.5,861C88.1,864.3 89,866.9 90,869.9C91,872.9 92.6,875.5 94.5,878.8C96.3,882.2 98.8,886.2 101.2,890C103.6,893.7 106.6,897.4 109,901.1C111.4,904.8 113.8,908.5 115.7,912.2C117.5,916 119,920 120.1,923.4C121.2,926.7 121.8,929.7 122.3,932.3C122.9,934.9 123.1,937.9 123.2,939L123.3,939Z" fill="#b1e0c4"/>
<path d="M123.3,709.5L122.2,709.5C122.3,712.4 122.8,720.6 122.6,727.3C122.4,734 121.6,742.1 121,749.6C120.4,757 119.7,764.4 118.8,771.9C117.8,779.3 116.5,787.5 115.2,794.1C113.9,800.8 112.9,806.4 111.2,812C109.5,817.5 106.9,823.1 105,827.6C103,832 101.5,835 99.6,838.7C97.8,842.4 95.3,846.1 93.8,849.8C92.3,853.6 91,857.6 90.7,861C90.4,864.3 91.3,866.9 92.3,869.9C93.3,872.9 94.9,875.5 96.7,878.8C98.6,882.2 101,886.2 103.4,890C105.8,893.7 108.9,897.4 111.2,901.1C113.5,904.8 115.8,908.5 117.4,912.2C119.1,916 120.3,920.4 121.2,923.4C122.1,926.4 122.4,928.6 122.7,930.1C123,931.6 123.1,931.9 123.2,932.3L123.3,932.3Z" fill="#4da767"/>
<path d="M123.3,709.5L122.6,709.5C122.6,716.1 122.9,737.3 122.7,749.6C122.5,761.8 122,773.7 121.2,783C120.5,792.3 119.4,799 118.3,805.3C117.2,811.6 115.9,816 114.5,820.9C113.2,825.7 111.4,829.8 110.1,834.2C108.8,838.7 107.4,843.2 106.7,847.6C106.1,852.1 105.9,856.9 106.3,861C106.7,865.1 107.8,868.4 109,872.1C110.2,875.8 111.9,879.6 113.4,883.3C114.9,887 116.6,890.7 117.9,894.4C119.2,898.1 120.4,902.2 121.2,905.6C122,908.9 122.4,912.6 122.7,914.5C123,916.3 123.1,916.3 123.2,916.7L123.3,916.7Z" fill="#034413"/>
<path d="M123.3,847.6L123.7,847.6C124.4,849.8 125.5,856.5 127.9,861C130.3,865.4 134.4,870.3 137.9,874.4C141.5,878.4 146.1,882.5 149.1,885.5C152.1,888.5 154,890.1 155.8,892.2C157.5,894.2 159.9,895.9 159.6,897.8C159.2,899.6 156,901.7 153.5,903.3C151,905 147.6,906.3 144.6,907.8C141.7,909.3 138.5,910.8 135.7,912.2C132.9,913.7 129.8,914.8 127.9,916.7C126.1,918.6 125.3,921.5 124.6,923.4C123.9,925.2 123.8,927.1 123.7,927.8L123.3,927.8Z" fill="#b3b2c5"/>
<path d="M123.3,861L123.7,861C124.4,862.5 126.1,866.9 127.9,869.9C129.7,872.9 132.4,875.8 134.6,878.8C136.8,881.8 139.2,884.9 141.3,887.7C143.3,890.5 146.3,893.3 146.9,895.5C147.4,897.8 146.1,899.4 144.6,901.1C143.1,902.8 140.4,904.1 137.9,905.6C135.5,907 132.2,908.5 130.1,910C128.1,911.5 126.8,913 125.7,914.5C124.6,916 124,918.2 123.7,918.9L123.3,918.9Z" fill="#4c4c6a"/>
<path d="M196.7,709.5L195.4,709.5C195.5,712.4 196.1,720.6 195.9,727.3C195.7,734 195.1,742.1 194.3,749.6C193.6,757 192.6,764.4 191.4,771.9C190.2,779.3 188.5,787.5 187,794.1C185.4,800.8 183.9,806.4 182.1,812C180.2,817.5 178,823.1 175.8,827.6C173.7,832 171.2,835 169.1,838.7C167.1,842.4 164.9,846.5 163.6,849.8C162.3,853.2 161.3,855.8 161.3,858.8C161.3,861.7 162.1,864.3 163.6,867.7C165.1,871 167.8,875.1 170.3,878.8C172.7,882.5 175.6,886.2 178.1,890C180.5,893.7 182.7,897.4 184.7,901.1C186.8,904.8 188.7,908.5 190.3,912.2C191.9,916 193.2,920 194.1,923.4C195,926.7 195.5,929.7 195.9,932.3C196.3,934.9 196.4,937.9 196.5,939L196.7,939Z" fill="#b1e0c4"/>
<path d="M196.7,709.5L195.7,709.5C195.7,712.4 196.1,720.6 195.9,727.3C195.7,734 195.2,742.1 194.5,749.6C193.9,757 193,764.4 191.9,771.9C190.7,779.3 189.1,787.5 187.6,794.1C186.1,800.8 184.7,806.4 183,812C181.2,817.5 179.3,823.1 177.4,827.6C175.5,832 173.1,835 171.4,838.7C169.6,842.4 167.9,846.5 166.9,849.8C165.9,853.2 165.3,855.8 165.3,858.8C165.3,861.7 165.7,864.3 166.9,867.7C168.1,871 170.3,875.1 172.5,878.8C174.6,882.5 177.5,886.2 179.8,890C182.2,893.7 184.6,897.4 186.5,901.1C188.4,904.8 190,908.9 191.4,912.2C192.8,915.6 193.9,918.6 194.8,921.2C195.6,923.8 196.1,926.7 196.3,927.8L196.7,927.8Z" fill="#4da767"/>
<path d="M196.7,709.5L196,709.5C196,716.1 196.3,737.3 196.1,749.6C195.9,761.8 195.4,773.7 194.8,783C194.2,792.3 193.5,799 192.5,805.3C191.6,811.6 190.1,816 189.2,820.9C188.3,825.7 187.6,829.8 187,834.2C186.3,838.7 185.3,843.2 185.2,847.6C185.1,852.1 185.8,856.9 186.5,861C187.2,865.1 188.2,868.4 189.2,872.1C190.2,875.8 191.6,879.6 192.5,883.3C193.5,887 194.2,890.7 194.8,894.4C195.4,898.1 195.8,902.6 196.1,905.6C196.4,908.5 196.5,911.1 196.5,912.2L196.7,912.2Z" fill="#034413"/>
<path d="M196.7,858.8L197.2,858.8C198.1,860.6 200.2,866.2 202.6,869.9C204.9,873.6 208.5,877.7 211.5,881C214.4,884.4 217.6,887.4 220.4,890C223.2,892.6 226.1,894.8 228.2,896.6C230.2,898.5 232.8,899.6 232.6,901.1C232.5,902.6 229.5,904.1 227.1,905.6C224.7,907 221.1,908.5 218.2,910C215.2,911.5 212,913 209.2,914.5C206.5,916 203.3,917.1 201.4,918.9C199.6,920.8 198.8,923.4 198.1,925.6C197.4,927.8 197.4,931.2 197.2,932.3L196.7,932.3Z" fill="#b3b2c5"/>
<path d="M196.7,887.7L197.2,887.7C197.9,888.8 200.1,892.2 201.4,894.4C202.8,896.6 205.1,899.2 205.2,901.1C205.4,903 203.6,904.1 202.6,905.6C201.6,907 200.1,908.5 199.2,910C198.3,911.5 197.5,913.7 197.2,914.5L196.7,914.5Z" fill="#4c4c6a"/>
<path d="M270.1,718.4L270.1,718.4C269.9,723.6 269.5,740.7 269,749.6C268.5,758.5 267.9,764.4 267.2,771.9C266.5,779.3 265.9,786.7 265,794.1C264,801.6 263.1,809.7 261.6,816.4C260.1,823.1 258.1,828.7 256,834.2C254,839.8 251.6,844.6 249.4,849.8C247.1,855 244.5,860.6 242.7,865.4C240.8,870.3 239.5,874 238.2,878.8C236.9,883.6 235.2,890 234.9,894.4C234.5,898.9 234.3,901.8 236,905.6C237.7,909.3 241.6,913 244.9,916.7C248.2,920.4 252.9,924.5 256,927.8C259.2,931.2 261.7,934.2 263.8,936.8C266,939.4 267.9,941.8 269,943.4C270,945.1 269.9,946.2 270.1,946.8L270.1,946.8Z" fill="#b1e0c4"/>
<path d="M270.1,849.8L270.1,849.8C269.8,853.6 269.2,865.8 268.3,872.1C267.4,878.4 266.1,883.3 265,887.7C263.8,892.2 262.5,895.2 261.6,898.9C260.7,902.6 259.6,906.7 259.4,910C259.2,913.4 259.8,916 260.5,918.9C261.2,921.9 262.7,924.9 263.8,927.8C265,930.8 266.6,934 267.6,936.8C268.7,939.5 269.7,943.3 270.1,944.6L270.1,944.6Z" fill="#4da767"/>
<path d="M343.5,718.4L343.5,718.4C343.4,727.3 343.1,755.5 342.9,771.9C342.6,788.2 342.4,805.3 341.9,816.4C341.4,827.6 341,831.3 340.1,838.7C339.3,846.1 338.1,854.3 336.8,861C335.5,867.7 334,873.2 332.3,878.8C330.6,884.4 328.8,889.2 326.7,894.4C324.7,899.6 322.3,905.6 320.1,910C317.8,914.5 315,918.2 313.4,921.2C311.7,924.1 310.2,926 310,927.8C309.8,929.7 310.6,930.8 312.3,932.3C313.9,933.8 317.3,935.3 320.1,936.8C322.8,938.2 326.2,939.7 329,941.2C331.8,942.7 334.5,944.2 336.8,945.7C339,947.2 341.2,949 342.3,950.1C343.5,951.2 343.3,952 343.5,952.4L343.5,952.4Z" fill="#b1e0c4"/>
<path d="M343.5,816.4L343.5,816.4C343.3,822 343.2,840.6 342.8,849.8C342.4,859.1 342,865.4 341.2,872.1C340.4,878.8 339.4,884.4 337.9,890C336.4,895.5 334.2,901.1 332.3,905.6C330.5,910 328.4,913.4 326.7,916.7C325.1,920 323.2,923.4 322.3,925.6C321.4,927.8 320.8,928.6 321.2,930.1C321.5,931.6 322.8,933 324.5,934.5C326.2,936 329.2,937.5 331.2,939C333.2,940.5 335.1,942 336.8,943.4C338.4,944.9 340.1,946.8 341.2,947.9C342.3,949 343.1,949.8 343.5,950.1L343.5,950.1Z" fill="#4da767"/>
<path d="M343.5,905.6L343.5,905.6C343.3,907.8 342.7,915.2 342.3,918.9C342,922.6 341.6,925.2 341.2,927.8C340.9,930.4 340.1,932.3 340.1,934.5C340.1,936.8 340.8,939.4 341.2,941.2C341.7,943.1 342.4,944.6 342.8,945.7C343.2,946.8 343.3,947.5 343.5,947.9L343.5,947.9Z" fill="#034413"/>
<path d="M343.5,912.2L343.9,912.2C344.8,913.4 346.3,916.7 349,918.9C351.7,921.2 356.5,923.8 360.2,925.6C363.9,927.5 368.2,928.8 371.3,930.1C374.5,931.4 378.7,932.3 379.1,933.4C379.5,934.5 376.3,935.6 373.5,936.8C370.8,937.9 366.1,939 362.4,940.1C358.7,941.2 354.2,942.1 351.3,943.4C348.3,944.7 345.8,946.8 344.6,947.9C343.3,949 344,949.8 343.9,950.1L343.5,950.1Z" fill="#b3b2c5"/>
<path d="M343.5,916.7L343.9,916.7C345.1,917.8 348.2,921.3 351.3,923.4C354.3,925.4 359.1,927.3 362.4,929C365.7,930.6 370.6,932.1 371.3,933.4C372.1,934.7 369.5,935.6 366.9,936.8C364.3,937.9 358.9,939 355.7,940.1C352.6,941.2 349.9,942.3 347.9,943.4C345.9,944.6 344.6,946.2 343.9,946.8L343.5,946.8Z" fill="#4c4c6a"/>
<path d="M343.5,925.6L343.9,925.6C344.6,926.4 346.6,928.6 347.9,930.1C349.2,931.6 351.7,933.2 351.7,934.5C351.7,935.8 349.1,936.8 347.9,937.9C346.7,939 345.2,940.3 344.6,941.2C343.9,942.1 344,943.1 343.9,943.4L343.5,943.4Z" fill="#0b0b14"/>
<path d="M416.9,710.6L416.8,710.6C416.7,717.1 416.6,737.5 416.3,749.6C415.9,761.6 415.6,773.7 414.8,783C414,792.3 413.1,798.6 411.4,805.3C409.7,812 407.1,817.5 404.7,823.1C402.3,828.7 399.5,833.9 396.9,838.7C394.3,843.5 391.4,847.6 389.1,852.1C386.9,856.5 384.9,861.4 383.6,865.4C382.3,869.5 381.2,872.9 381.3,876.6C381.5,880.3 383,884 384.7,887.7C386.4,891.4 389,895.2 391.4,898.9C393.8,902.6 396.6,906.3 399.2,910C401.8,913.7 404.7,917.8 407,921.2C409.2,924.5 411.1,927.5 412.5,930.1C413.9,932.7 414.7,934.9 415.4,936.8C416.1,938.6 416.5,940.5 416.8,941.2L416.9,941.2Z" fill="#b1e0c4"/>
<path d="M416.9,727.3L416.8,727.3C416.7,732.9 416.5,749.6 416.1,760.7C415.7,771.9 415.2,784.9 414.1,794.1C412.9,803.4 411,810.1 409.2,816.4C407.3,822.7 405.2,827.2 403,832C400.7,836.8 397.9,840.9 395.8,845.4C393.7,849.8 391.7,854.3 390.3,858.8C388.8,863.2 387.3,868 386.9,872.1C386.5,876.2 386.9,879.6 388,883.3C389.1,887 391.6,890.7 393.6,894.4C395.6,898.1 398.1,901.8 400.3,905.6C402.5,909.3 404.9,913.4 407,916.7C409,920 411,922.6 412.5,925.6C414,928.6 415.2,932.3 415.9,934.5C416.6,936.8 416.6,938.2 416.8,939L416.9,939Z" fill="#4da767"/>
<path d="M416.9,861L416.8,861C416.2,863.2 414.7,869.9 413.6,874.4C412.6,878.8 411,883.6 410.3,887.7C409.6,891.8 409.5,895.2 409.6,898.9C409.8,902.6 410.8,906.3 411.4,910C412.1,913.7 413,917.8 413.6,921.2C414.3,924.5 414.9,927.5 415.4,930.1C416,932.7 416.5,935.6 416.8,936.8L416.9,936.8Z" fill="#034413"/>
<path d="M416.9,896.6L417.4,896.6C418.1,898.1 419.5,903 421.4,905.6C423.4,908.2 426.5,910.2 429.2,912.2C432,914.3 435.2,916.1 438.2,917.8C441.1,919.5 444.5,921.2 447.1,922.3C449.7,923.4 453.8,923.6 453.8,924.5C453.8,925.4 449.7,926.7 447.1,927.8C444.5,929 441.1,930.1 438.2,931.2C435.2,932.3 432.2,933.4 429.2,934.5C426.3,935.6 422.3,936.8 420.3,937.9C418.4,939 417.9,940.7 417.4,941.2L416.9,941.2Z" fill="#b3b2c5"/>
<path d="M416.9,905.6L417.4,905.6C418.3,906.7 420.6,910.2 422.6,912.2C424.5,914.3 427.2,916.1 429.2,917.8C431.3,919.5 433.7,921 434.8,922.3C435.9,923.6 436.7,924.5 435.9,925.6C435.2,926.7 432.6,927.8 430.4,929C428.1,930.1 424.6,931.2 422.6,932.3C420.5,933.4 419,934.7 418.1,935.6C417.3,936.6 417.5,937.5 417.4,937.9L416.9,937.9Z" fill="#4c4c6a"/>
<path d="M490.2,709.5L489,709.5C488.9,716.1 488.8,739.2 488.3,749.6C487.8,760 487.2,764.4 486.1,771.9C485,779.3 483.3,787.5 481.6,794.1C479.9,800.8 478.5,806.4 476,812C473.6,817.5 469.7,822.7 467.1,827.6C464.5,832.4 462.3,836.8 460.4,840.9C458.6,845 456.9,848.7 456,852.1C455.1,855.4 454.5,858 454.9,861C455.2,864 456.4,866.6 458.2,869.9C460.1,873.2 463.2,877.3 466,881C468.8,884.8 472.3,888.5 474.9,892.2C477.5,895.9 479.8,899.6 481.6,903.3C483.5,907 484.8,910.8 486.1,914.5C487.4,918.2 488.7,921.5 489.4,925.6C490.1,929.7 490.1,936.8 490.2,939L490.2,939Z" fill="#b1e0c4"/>
<path d="M490.2,709.5L489.2,709.5C489.1,716.1 489,739.2 488.5,749.6C488,760 487.3,764.4 486.3,771.9C485.3,779.3 483.8,787.5 482.3,794.1C480.8,800.8 479.3,806.4 477.2,812C475,817.5 471.8,822.7 469.4,827.6C466.9,832.4 464.2,836.8 462.7,840.9C461.1,845 460.6,848.7 460,852.1C459.4,855.4 459.1,858 459.3,861C459.6,864 460.1,866.6 461.6,869.9C463,873.2 465.8,877.3 468.2,881C470.7,884.8 473.6,888.5 476,892.2C478.5,895.9 480.9,899.6 482.7,903.3C484.6,907 486,911.1 487.2,914.5C488.3,917.8 489.1,921.5 489.6,923.4C490.2,925.2 490.1,925.2 490.2,925.6L490.2,925.6Z" fill="#4da767"/>
<path d="M490.2,709.5L489.5,709.5C489.5,716.1 489.6,737.3 489.2,749.6C488.8,761.8 488.1,773.7 487.2,783C486.3,792.3 485,798.6 483.8,805.3C482.7,812 481.4,817.5 480.5,823.1C479.6,828.7 478.7,833.9 478.3,838.7C477.8,843.5 477.6,847.6 477.8,852.1C478,856.5 478.4,861 479.4,865.4C480.4,869.9 482.4,874.7 483.8,878.8C485.3,882.9 487.2,887.4 488.3,890C489.4,892.6 489.9,893.7 490.2,894.4L490.2,894.4Z" fill="#034413"/>
<path d="M490.2,887.7L491,887.7C491.8,889.2 493.8,893.7 496.1,896.6C498.4,899.6 501.7,902.6 505,905.6C508.4,908.5 512.8,912.2 516.2,914.5C519.5,916.7 523.4,917.6 525.1,918.9C526.7,920.2 526.9,921.2 526.2,922.3C525.4,923.4 523,924.3 520.6,925.6C518.2,926.9 514.9,928.6 511.7,930.1C508.5,931.6 504.6,933 501.7,934.5C498.7,936 495.7,937.9 493.9,939C492.1,940.1 491.5,940.8 491,941.2L490.2,941.2Z" fill="#b3b2c5"/>
<path d="M563.6,790.2L563.5,790.2C563.4,802.7 563.2,847.1 563,865.3C562.9,883.5 563,890.9 562.7,899.4C562.3,908 561.7,912.2 560.9,916.5C560.2,920.8 559.4,922.7 558.4,925C557.4,927.3 556.8,928.6 555,930.1C553.1,931.7 550,933 547.3,934.4C544.6,935.8 540.9,937.4 538.8,938.7C536.6,939.9 535.6,940.7 534.5,942.1C533.4,943.5 532.7,945.2 531.9,947.2C531.2,949.2 530.8,951.8 530.2,954C529.7,956.3 528.5,958.9 528.5,960.8C528.5,962.8 528.8,964.3 530.2,966C531.7,967.7 534.5,969.7 537.1,971.1C539.6,972.5 542.7,973.1 545.6,974.5C548.4,975.9 551.6,977.9 554.1,979.6C556.7,981.3 559.4,983.3 560.9,984.7C562.5,986.2 563.1,987.6 563.5,988.1L563.6,988.1Z" fill="#b1e0c4"/>
<path d="M563.6,848.2L563.5,848.2C563.4,855.4 563.3,880.1 563,890.9C562.7,901.7 562.1,907.7 561.5,913.1C560.8,918.5 560.2,920.5 559.2,923.3C558.3,926.2 557.5,928.3 555.8,930.1C554.1,932 551.4,933 549,934.4C546.6,935.8 543.3,937.2 541.3,938.7C539.3,940.1 538.1,941.2 537.1,942.9C536.1,944.6 535.9,946.8 535.4,948.9C534.8,951 534.1,953.5 533.6,955.7C533.2,958 532.5,960.6 532.8,962.6C533.1,964.5 533.8,966 535.4,967.7C536.9,969.4 539.8,971.4 542.2,972.8C544.6,974.2 547.2,974.8 549.9,976.2C552.6,977.6 556.1,979.9 558.4,981.3C560.7,982.7 562.7,984.2 563.5,984.7L563.6,984.7Z" fill="#4da767"/>
<path d="M563.6,925L563.5,925C563.1,925.9 562.1,928.4 560.9,930.1C559.8,931.8 558,933.6 556.7,935.3C555.4,937 554.1,938.4 553.3,940.4C552.4,942.4 552,944.6 551.6,947.2C551.1,949.8 550.7,953.2 550.7,955.7C550.7,958.3 551,960.6 551.6,962.6C552.1,964.5 552.8,965.7 554.1,967.7C555.4,969.7 557.8,972.5 559.2,974.5C560.7,976.5 561.9,978.5 562.7,979.6C563.4,980.8 563.4,981 563.5,981.3L563.6,981.3Z" fill="#034413"/>
<path d="M563.6,916.5L563.8,916.5C564.4,917.9 565.7,922.5 566.9,925C568.1,927.6 569.1,929.9 571.2,931.8C573.3,933.8 576.9,935.4 579.7,937C582.6,938.5 585.7,939.9 588.2,941.2C590.8,942.5 593.2,943.6 595.1,944.6C596.9,945.6 599.3,946.2 599.3,947.2C599.3,948.2 596.9,949.5 595.1,950.6C593.2,951.8 590.8,952.3 588.2,954C585.7,955.7 582.4,958.6 579.7,960.8C577,963.1 574.3,965.4 572,967.7C569.8,969.9 567.4,972.8 566.1,974.5C564.7,976.2 564.2,977.3 563.8,977.9L563.6,977.9Z" fill="#b3b2c5"/>
<path d="M563.6,919.9L563.8,919.9C564.5,921.3 566.3,925.9 567.8,928.4C569.3,931 570.9,933.4 572.9,935.3C574.9,937.1 577.4,938.1 579.7,939.5C582,940.9 584.8,942.5 586.5,943.8C588.2,945.1 589.8,946.1 590,947.2C590.1,948.3 588.5,949.5 587.4,950.6C586.3,951.8 585,952.3 583.1,954C581.3,955.7 578.6,958.6 576.3,960.8C574,963.1 571.4,965.4 569.5,967.7C567.5,969.9 565.6,973.1 564.7,974.5C563.8,975.9 564,975.9 563.8,976.2L563.6,976.2Z" fill="#4c4c6a"/>
<path d="M563.6,933.6L563.8,933.6C564.4,934.4 566,937 566.9,938.7C567.9,940.4 568.9,942.1 569.5,943.8C570,945.5 570.5,947.5 570.3,948.9C570.2,950.3 569.3,950.9 568.6,952.3C567.9,953.7 566.8,955.7 566.1,957.4C565.4,959.1 564.7,961.1 564.4,962.6C564,964 563.9,965.4 563.8,966L563.6,966Z" fill="#0b0b14"/>
<path d="M637,780L636.9,780C636.8,791.4 636.6,831.2 636.4,848.2C636.3,865.3 636.4,873.8 636,882.4C635.7,890.9 635,894.3 634.3,899.4C633.6,904.5 632.9,909.4 631.8,913.1C630.6,916.8 629.3,919 627.5,921.6C625.6,924.2 622.9,926.4 620.7,928.4C618.4,930.4 616.1,931.8 613.8,933.6C611.6,935.3 608.7,937 607,938.7C605.3,940.4 604.5,942.2 603.6,943.8C602.7,945.4 601.6,946.6 601.9,948.1C602.2,949.5 603.5,950.8 605.3,952.3C607.2,953.9 610.4,955.7 613,957.4C615.5,959.1 618,960.8 620.7,962.6C623.4,964.3 626.5,966.3 629.2,967.7C631.9,969.1 635.6,970.5 636.9,971.1L637,971.1Z" fill="#b1e0c4"/>
<path d="M637,831.2L636.9,831.2C636.8,838.3 636.6,863 636.4,873.8C636.1,884.6 635.7,890 635.2,896C634.6,902 633.9,905.7 632.9,909.7C632,913.6 630.7,917.1 629.2,919.9C627.7,922.7 626.1,924.5 624.1,926.7C622.1,929 619.2,931.3 617.2,933.6C615.3,935.8 613.3,938.4 612.1,940.4C611,942.4 610.6,943.8 610.4,945.5C610.3,947.2 610.1,948.9 611.3,950.6C612.4,952.3 615.1,954 617.2,955.7C619.4,957.4 621.8,959.1 624.1,960.8C626.3,962.6 628.8,964.5 630.9,966C633,967.4 635.9,968.8 636.9,969.4L637,969.4Z" fill="#4da767"/>
<path d="M637,930.1L636.9,930.1C636.4,931.3 635.3,934.7 634.3,937C633.3,939.2 631.8,941.5 630.9,943.8C630,946.1 629.2,948.3 629.2,950.6C629.1,952.9 629.8,955.4 630.6,957.4C631.3,959.4 632.4,961 633.5,962.6C634.5,964.1 636.3,966.1 636.9,966.8L637,966.8Z" fill="#034413"/>
<path d="M637,928.4L637.4,928.4C637.7,929.3 638.2,931.8 639.4,933.6C640.6,935.3 642.3,937 644.5,938.7C646.8,940.4 650,942.2 653.1,943.8C656.2,945.4 660,946.8 663.3,948.1C666.6,949.3 671.8,950.6 672.7,951.5C673.6,952.3 670.6,952.5 668.4,953.2C666.3,953.9 663,954.7 659.9,955.7C656.8,956.7 652.8,957.7 649.7,959.1C646.5,960.6 643.1,962.8 641.1,964.3C639.1,965.7 638.3,967.1 637.7,967.7L637,967.7Z" fill="#b3b2c5"/>
<path d="M637,930.1L637.4,930.1C637.7,931 638.2,933.6 639.4,935.3C640.6,937 642.4,938.7 644.5,940.4C646.7,942.1 649.7,943.9 652.2,945.5C654.8,947.1 657.5,948.6 659.9,949.8C662.3,950.9 666.7,951.5 666.7,952.3C666.7,953.2 662.5,953.9 659.9,954.9C657.3,955.9 654.2,957 651.4,958.3C648.5,959.6 645.1,961.3 642.8,962.6C640.6,963.8 638.6,965.4 637.7,966L637,966Z" fill="#4c4c6a"/>
<path d="M637,937L637.4,937C637.7,938.1 638.5,941.8 639.4,943.8C640.3,945.8 641.6,947.3 642.8,948.9C644.1,950.5 647.1,952 647.1,953.2C647.1,954.3 644.1,954.7 642.8,955.7C641.6,956.7 640.3,958 639.4,959.1C638.5,960.3 637.7,962 637.4,962.6L637,962.6Z" fill="#0b0b14"/>
<path d="M710.4,803.9L710.2,803.9C710.2,814.1 710,849.4 709.8,865.3C709.6,881.2 709.5,890.9 709,899.4C708.6,908 708,911.9 707.3,916.5C706.7,921 706.2,923.9 705.1,926.7C704,929.6 703,931.3 700.8,933.6C698.7,935.8 695.2,938.1 692.3,940.4C689.5,942.7 686.3,945.2 683.8,947.2C681.2,949.2 678.5,950.6 677,952.3C675.4,954 674.4,956 674.4,957.4C674.4,958.9 674.8,959.4 677,960.8C679.1,962.3 683.8,964.3 687.2,966C690.6,967.7 694.6,969.4 697.4,971.1C700.3,972.8 702.6,974.8 704.3,976.2C706,977.6 706.7,978.5 707.7,979.6C708.7,980.8 709.8,982.5 710.2,983L710.4,983Z" fill="#b1e0c4"/>
<path d="M710.4,831.2L710.2,831.2C710.2,839.7 710.1,869.6 709.8,882.4C709.5,895.2 709.1,901.4 708.5,908C707.9,914.5 707.2,917.9 706.3,921.6C705.5,925.3 704.9,927.6 703.4,930.1C701.9,932.7 699.6,934.7 697.4,937C695.3,939.2 692.9,941.8 690.6,943.8C688.3,945.8 685.5,947.2 683.8,948.9C682.1,950.6 680.9,952.3 680.4,954C679.8,955.7 679.2,957.4 680.4,959.1C681.5,960.8 684.6,962.6 687.2,964.3C689.8,966 693,967.7 695.7,969.4C698.4,971.1 701.4,972.9 703.4,974.5C705.4,976.1 706.5,977.6 707.7,978.8C708.8,979.9 709.8,980.9 710.2,981.3L710.4,981.3Z" fill="#4da767"/>
<path d="M710.4,916.5L710.2,916.5C709.9,918.2 709.2,923.9 708.5,926.7C707.8,929.6 707,931 706,933.6C705,936.1 703.6,939.2 702.6,942.1C701.6,944.9 700.4,947.8 700,950.6C699.6,953.5 699.6,956.6 700,959.1C700.4,961.7 701.4,963.7 702.6,966C703.7,968.2 705.5,970.8 706.8,972.8C708.1,974.8 709.7,977.1 710.2,977.9L710.4,977.9Z" fill="#034413"/>
<path d="M710.4,899.4L710.7,899.4C711.2,902.3 712.3,911.9 713.6,916.5C715,921 716.9,923.9 718.8,926.7C720.6,929.6 722.3,931.3 724.7,933.6C727.2,935.8 730.4,938.4 733.3,940.4C736.1,942.4 739.7,944.1 741.8,945.5C743.9,946.9 746.1,947.8 746.1,948.9C746.1,950 744.2,950.9 741.8,952.3C739.4,953.7 735,955.4 731.6,957.4C728.1,959.4 724.2,962 721.3,964.3C718.5,966.5 716.1,969.1 714.5,971.1C712.9,973.1 712.6,974.8 711.9,976.2C711.3,977.6 710.9,979 710.7,979.6L710.4,979.6Z" fill="#b3b2c5"/>
<path d="M710.4,902.8L710.7,902.8C711.1,905.1 711.9,912.5 713.1,916.5C714.3,920.5 716.3,923.9 717.9,926.7C719.6,929.6 721,931.3 723,933.6C725,935.8 727.9,938.4 729.9,940.4C731.8,942.4 734,944.1 735,945.5C736,946.9 736.4,947.8 735.8,948.9C735.3,950 733.7,950.9 731.6,952.3C729.4,953.7 725.6,955.4 723,957.4C720.5,959.4 718.1,962 716.2,964.3C714.4,966.5 712.8,969.4 711.9,971.1C711,972.8 710.9,973.9 710.7,974.5L710.4,974.5Z" fill="#4c4c6a"/>
<path d="M710.4,925L710.7,925C711.1,926.4 712.2,931 712.8,933.6C713.4,936.1 713.9,938.4 714.5,940.4C715.1,942.4 715.9,944.1 716.2,945.5C716.5,946.9 716.5,947.8 716.2,948.9C715.9,950 715.1,950.9 714.5,952.3C713.9,953.7 713.1,955.7 712.5,957.4C711.8,959.1 711,961.7 710.7,962.6L710.4,962.6Z" fill="#0b0b14"/>
<path d="M783.8,1000.1L783.7,1000.1C783.2,1000.9 784,1004.1 780.9,1005.2C777.9,1006.3 771.1,1006.2 765.6,1006.6C760,1006.9 747.7,1007 747.7,1007.3C747.7,1007.5 760.3,1007.6 765.6,1007.9C770.9,1008.3 776.2,1008.8 779.2,1009.5C782.3,1010.2 782.9,1011.6 783.7,1012L783.8,1012Z" fill="#b1e0c4"/>
<path d="M783.8,1001.8L783.7,1001.8C783.1,1002.4 782.3,1004.4 780.1,1005.2C777.9,1006.1 771.7,1006.5 770.7,1006.9C769.7,1007.4 772.4,1007.5 774.1,1007.9C775.8,1008.4 779.4,1008.9 780.9,1009.5C782.5,1010 783.2,1010.9 783.7,1011.2L783.8,1011.2Z" fill="#4da767"/>
<path d="M783.8,1005.2L783.7,1005.2C783.2,1005.6 781.5,1007.1 780.9,1007.8C780.3,1008.5 779.8,1008.9 780.1,1009.5C780.4,1010 782.1,1010.8 782.7,1011.2C783.3,1011.6 783.5,1011.9 783.7,1012L783.8,1012Z" fill="#034413"/>
<path d="M783.8,1005.2L784,1005.2C786.6,1005.4 793.8,1006.2 799.7,1006.6C805.6,1006.9 817.9,1007 819.3,1007.3C820.8,1007.5 809.5,1007.8 808.2,1008.3C807,1008.7 813.1,1009.5 811.7,1010C810.2,1010.5 804.3,1010.8 799.7,1011.2C795.1,1011.6 786.6,1012.2 784,1012.4L783.8,1012.4Z" fill="#cab4d8"/>
<path d="M783.8,1006.1L784,1006.1C785.8,1006.3 791.7,1007.2 794.6,1007.8C797.5,1008.3 801.4,1009 801.4,1009.5C801.4,1010 797.5,1010.2 794.6,1010.7C791.7,1011.1 785.8,1011.8 784,1012L783.8,1012Z" fill="#7c539b"/>
<path d="M783.8,1007.8L784,1007.8C784.5,1008.1 786.7,1008.9 786.9,1009.5C787.1,1010 785.5,1010.9 785.2,1011.2L783.8,1011.2Z" fill="#1c0a33"/>
<path d="M857.2,838L857,838C857,848.2 856.9,884.9 856.6,899.4C856.3,913.9 855.8,919.3 855.2,925C854.5,930.7 853.6,931.3 852.6,933.6C851.6,935.8 851.2,936.7 849.2,938.7C847.2,940.7 843.5,943.2 840.7,945.5C837.8,947.8 834.7,950 832.1,952.3C829.6,954.6 827.2,957.3 825.3,959.1C823.5,961 821.5,962.3 821,963.4C820.6,964.5 820.6,964.7 822.7,966C824.9,967.2 830.3,969.4 833.8,971.1C837.4,972.8 840.8,974.5 844.1,976.2C847.3,977.9 851.3,979.9 853.5,981.3C855.6,982.7 856.4,984.2 857,984.7L857.2,984.7Z" fill="#b1e0c4"/>
<path d="M857.2,882.4L857,882.4C856.9,888.1 856.6,908.5 856,916.5C855.4,924.5 854.7,926.4 853.5,930.1C852.2,933.8 850.3,936.1 848.3,938.7C846.3,941.2 843.8,943.2 841.5,945.5C839.2,947.8 836.8,950 834.7,952.3C832.6,954.6 830,957.3 828.7,959.1C827.4,961 826.7,962 827,963.4C827.3,964.8 828.4,966.1 830.4,967.7C832.4,969.2 835.8,971.1 839,972.8C842.1,974.5 846.2,976.5 849.2,977.9C852.2,979.3 855.7,980.8 857,981.3L857.2,981.3Z" fill="#4da767"/>
<path d="M857.2,933.6L857,933.6C856.4,935 854.8,939.2 853.5,942.1C852.1,944.9 850.5,948.1 849.2,950.6C847.9,953.2 846.5,955.2 845.8,957.4C845.1,959.7 844.6,962.3 844.9,964.3C845.2,966.3 846.3,967.7 847.5,969.4C848.6,971.1 850.2,972.8 851.8,974.5C853.3,976.2 856.2,978.8 857,979.6L857.2,979.6Z" fill="#034413"/>
<path d="M857.2,947.2L857.6,947.2C858.4,948.3 860.8,951.8 862.8,954C864.9,956.3 866.8,958.9 869.7,960.8C872.5,962.8 876.2,964.7 879.9,966C883.6,967.2 890.7,967.8 891.8,968.5C893,969.2 889.3,969.5 886.7,970.2C884.2,970.9 879.9,971.8 876.5,972.8C873.1,973.8 869.1,975.1 866.3,976.2C863.4,977.3 860.9,978.8 859.4,979.6C858,980.5 857.9,981 857.6,981.3L857.2,981.3Z" fill="#b3b2c5"/>
<path d="M857.2,950.6L857.6,950.6C858.4,951.8 860.8,955.4 862.8,957.4C864.9,959.4 867.4,961 869.7,962.6C871.9,964.1 874.8,965.7 876.5,966.8C878.2,968 880.2,968.5 879.9,969.4C879.6,970.2 877.1,971.1 874.8,971.9C872.5,972.8 868.8,973.5 866.3,974.5C863.7,975.5 860.9,977.1 859.4,977.9C858,978.8 857.9,979.3 857.6,979.6L857.2,979.6Z" fill="#4c4c6a"/>
<path d="M857.2,964.3L857.6,964.3C857.9,964.8 858.8,966.7 859.4,967.7C860,968.7 861.1,969.4 861.1,970.2C861.1,971.1 860,971.8 859.4,972.8C858.8,973.8 857.9,975.6 857.6,976.2L857.2,976.2Z" fill="#0b0b14"/>
<path d="M930.6,790.2L930.6,790.2C930.5,802.7 930.2,847.1 930,865.3C929.8,883.5 929.8,890.9 929.4,899.4C929,908 928.4,912.2 927.7,916.5C927,920.8 926.1,922.7 925.1,925C924.1,927.3 924.1,928.4 921.7,930.1C919.3,931.8 914.2,933.6 910.6,935.3C907.1,937 902.9,938.4 900.4,940.4C897.8,942.4 896.3,944.9 895.3,947.2C894.3,949.5 893.8,951.8 894.4,954C895,956.3 896,958.6 898.7,960.8C901.4,963.1 906.6,965.4 910.6,967.7C914.6,969.9 919.4,972.5 922.6,974.5C925.7,976.5 928,977.9 929.4,979.6C930.7,981.3 930.4,983.9 930.6,984.7L930.6,984.7Z" fill="#b1e0c4"/>
<path d="M930.6,848.2L930.6,848.2C930.5,855.4 930.3,880.1 929.9,890.9C929.5,901.7 928.8,907.4 928,913.1C927.2,918.8 926.2,922.2 925.1,925C924.1,927.9 923.8,928.4 921.7,930.1C919.6,931.8 915.3,933.6 912.3,935.3C909.3,937 905.8,938.4 903.8,940.4C901.8,942.4 900.9,944.9 900.4,947.2C899.8,949.5 899.8,951.8 900.4,954C900.9,956.3 901.2,958.6 903.8,960.8C906.3,963.1 912,965.4 915.7,967.7C919.4,969.9 923.5,972.7 926,974.5C928.4,976.3 929.8,978.1 930.6,978.8L930.6,978.8Z" fill="#4da767"/>
<path d="M930.6,916.5L930.6,916.5C930.2,918.2 929.4,923.9 928.5,926.7C927.6,929.6 926.4,931.3 925.1,933.6C923.8,935.8 921.9,938.1 920.8,940.4C919.8,942.7 919.1,944.6 918.8,947.2C918.5,949.8 918.5,953.2 918.8,955.7C919.1,958.3 919.9,960.6 920.8,962.6C921.8,964.5 923,966 924.3,967.7C925.5,969.4 927.5,971.4 928.5,972.8C929.6,974.2 930.2,975.6 930.6,976.2L930.6,976.2Z" fill="#034413"/>
<path d="M930.6,899.4L931.1,899.4C931.9,900.9 933.6,905.1 936.2,908C938.8,910.8 942.7,913.9 946.4,916.5C950.1,919 955.3,921.3 958.4,923.3C961.5,925.3 964.6,927 965.2,928.4C965.8,929.9 964.1,930.4 961.8,931.8C959.5,933.3 954.7,935 951.6,937C948.4,939 945.3,941.5 943,943.8C940.8,946.1 939.3,948.1 937.9,950.6C936.5,953.2 935.5,956.3 934.5,959.1C933.5,962 932.4,964.8 931.9,967.7C931.5,970.5 932.1,973.4 931.9,976.2C931.8,979 931.4,982.2 931.2,984.7C931,987.3 930.7,990.4 930.6,991.6L930.6,991.6Z" fill="#cab4d8"/>
<path d="M1004,814.1L1003.9,814.1C1003.8,825.5 1003.6,866.7 1003.4,882.4C1003.2,898 1003.1,901.7 1002.7,908C1002.4,914.2 1001.7,916.5 1001,919.9C1000.3,923.3 1000.2,925.9 998.5,928.4C996.8,931 994.1,933 990.8,935.3C987.5,937.5 982,939.8 978.9,942.1C975.7,944.4 973.7,946.6 972,948.9C970.3,951.2 968.8,953.7 968.6,955.7C968.5,957.7 969.5,959.1 971.2,960.8C972.9,962.6 975.6,964.3 978.9,966C982.1,967.7 987.2,969.4 990.8,971.1C994.4,972.8 998,974.5 1000.2,976.2C1002.4,977.9 1003.3,980.5 1003.9,981.3L1004,981.3Z" fill="#b1e0c4"/>
<path d="M1004,865.3L1003.9,865.3C1003.8,871 1003.7,890.9 1003.3,899.4C1002.9,908 1002.3,911.9 1001.5,916.5C1000.8,921 1000.5,923.9 999,926.7C997.5,929.6 995.3,931.3 992.5,933.6C989.7,935.8 985,938.1 982.3,940.4C979.6,942.7 977.7,944.9 976.3,947.2C974.9,949.5 973.9,951.8 973.7,954C973.6,956.3 974,958.9 975.4,960.8C976.9,962.8 979.4,964.3 982.3,966C985.1,967.7 989.4,969.4 992.5,971.1C995.6,972.8 999.1,974.9 1001,976.2C1002.9,977.5 1003.5,978.3 1003.9,978.8L1004,978.8Z" fill="#4da767"/>
<path d="M1004,925L1003.9,925C1003.3,926.4 1001.7,930.7 1000.2,933.6C998.7,936.4 996.4,939.2 995.1,942.1C993.7,944.9 992.7,948.1 992.2,950.6C991.6,953.2 991.3,955.2 991.7,957.4C992,959.7 993.1,962 994.2,964.3C995.4,966.5 997.1,969.1 998.5,971.1C999.9,973.1 1001.8,975.1 1002.7,976.2C1003.7,977.3 1003.7,977.6 1003.9,977.9L1004,977.9Z" fill="#034413"/>
<path d="M1004,906.3L1004.4,906.3C1005.6,907.4 1008.4,910.8 1011.3,913.1C1014.1,915.4 1018.4,917.6 1021.5,919.9C1024.6,922.2 1027.5,924.5 1030,926.7C1032.6,929 1035.4,931.3 1036.9,933.6C1038.3,935.8 1039.1,938.1 1038.6,940.4C1038,942.7 1035.4,944.9 1033.5,947.2C1031.5,949.5 1028.6,952 1026.6,954C1024.6,956 1022.1,957.4 1021.5,959.1C1020.9,960.8 1021.8,962.8 1023.2,964.3C1024.6,965.7 1028.1,966.5 1030,967.7C1032,968.8 1035.2,969.9 1035.2,971.1C1035.2,972.2 1033.2,973.1 1030,974.5C1026.9,975.9 1020.4,977.9 1016.4,979.6C1012.4,981.3 1008.1,983.6 1006.2,984.7C1004.2,985.9 1004.7,986.2 1004.4,986.4L1004,986.4Z" fill="#cab4d8"/>
<path d="M1004,916.5L1004.4,916.5C1005,917.6 1006.9,921 1007.9,923.3C1008.9,925.6 1010.3,927.9 1010.4,930.1C1010.6,932.4 1009.4,934.7 1008.7,937C1008,939.2 1006.9,941.8 1006.2,943.8C1005.4,945.8 1004.7,948.1 1004.4,948.9L1004,948.9Z" fill="#7c539b"/>
<path d="M1120.2,710.6L1112.3,710.6C1111.9,711.9 1111,715.6 1110.1,718.4C1109.2,721.2 1108.2,724.3 1106.7,727.3C1105.3,730.3 1103,733.2 1101.2,736.2C1099.3,739.2 1097.5,742.1 1095.6,745.1C1093.7,748.1 1091.4,751.1 1090,754C1088.6,757 1087.8,760 1087.1,762.9C1086.5,765.9 1086.1,768.5 1086.2,771.9C1086.4,775.2 1087,779.3 1087.8,783C1088.6,786.7 1090,790.4 1091.1,794.1C1092.3,797.9 1093.4,801.6 1094.5,805.3C1095.6,809 1097,813.1 1097.8,816.4C1098.7,819.8 1099.2,822.4 1099.6,825.3C1100.1,828.3 1099.7,831.3 1100.5,834.2C1101.3,837.2 1102.7,840.2 1104.5,843.2C1106.3,846.1 1109.2,849.1 1111.2,852.1C1113.2,855 1115.4,858 1116.8,861C1118.1,864 1118.9,866.6 1119.4,869.9C1120,873.2 1120,879.2 1120.1,881L1120.2,881Z" fill="#b1e0c4"/>
<path d="M1189.9,720.6L1189.9,720.6C1189.8,732.9 1189.5,774.5 1189.3,794.1C1189.1,813.8 1189.1,827.6 1188.7,838.7C1188.4,849.8 1188.1,853.6 1187.4,861C1186.7,868.4 1185.7,877 1184.7,883.3C1183.7,889.6 1182.8,894.4 1181.4,898.9C1180,903.3 1178.3,906.7 1176.3,910C1174.2,913.4 1171.4,916 1169.1,918.9C1166.8,921.9 1164.3,925.2 1162.5,927.8C1160.6,930.4 1158.6,932.7 1158,934.5C1157.4,936.4 1157.6,937.1 1159.1,939C1160.6,940.8 1164.1,943.4 1166.9,945.7C1169.7,947.9 1172.9,950.1 1175.8,952.4C1178.8,954.6 1182.4,957.2 1184.7,959C1187.1,960.9 1189,962.8 1189.9,963.5L1189.9,963.5Z" fill="#b1e0c4"/>
<path d="M1189.9,794.1L1189.9,794.1C1189.7,803.4 1189.5,836.8 1189,849.8C1188.5,862.8 1187.8,865.4 1187,872.1C1186.1,878.8 1185.2,884.8 1184.1,890C1183,895.2 1182,899.2 1180.3,903.3C1178.5,907.4 1175.6,911.1 1173.6,914.5C1171.6,917.8 1169.7,920.4 1168,923.4C1166.4,926.4 1164.2,929.7 1163.6,932.3C1162.9,934.9 1163.1,936.8 1164.2,939C1165.3,941.2 1167.9,943.4 1170.3,945.7C1172.6,947.9 1175.3,950.1 1178.1,952.4C1180.8,954.6 1184.5,957.4 1186.5,959C1188.5,960.7 1189.3,961.8 1189.9,962.4L1189.9,962.4Z" fill="#4da767"/>
<path d="M1189.9,838.7L1189.9,838.7C1189.7,846.1 1189.2,872.9 1188.7,883.3C1188.3,893.7 1187.8,895.9 1187,901.1C1186.1,906.3 1184.7,910.4 1183.6,914.5C1182.5,918.6 1181,922.3 1180.3,925.6C1179.5,929 1179,931.9 1179.2,934.5C1179.4,937.1 1180.5,939 1181.4,941.2C1182.3,943.4 1183.6,945.7 1184.7,947.9C1185.8,950.1 1187.2,952.7 1188.1,954.6C1188.9,956.4 1189.6,958.3 1189.9,959L1189.9,959Z" fill="#034413"/>
<path d="M1259.6,920L1259.6,920C1259.4,923.2 1258.9,934.3 1258.3,939C1257.7,943.6 1257.5,945.3 1256,947.9C1254.6,950.5 1252.7,952.4 1249.4,954.6C1246,956.8 1239.7,959.4 1236,961.3C1232.3,963.1 1228.7,964.6 1227.1,965.7C1225.4,966.8 1224.5,967 1226,968C1227.4,968.9 1232.1,970 1236,971.3C1239.9,972.6 1245.8,974.1 1249.4,975.8C1252.9,977.4 1255.6,978.2 1257.2,981.3C1258.8,984.5 1258.5,990.1 1258.9,994.7C1259.3,999.3 1259.5,1006.8 1259.6,1009.2L1259.6,1009.2Z" fill="#b1e0c4"/>
<path d="M1259.6,927.8L1259.6,927.8C1259.4,930.1 1259,937.5 1258.3,941.2C1257.5,944.9 1256.8,947.5 1254.9,950.1C1253.1,952.7 1249.9,954.8 1247.1,956.8C1244.3,958.9 1240.6,960.7 1238.2,962.4C1235.8,964.1 1232.6,965.5 1232.6,966.8C1232.6,968.1 1235.4,968.9 1238.2,970.2C1241,971.5 1246.2,973 1249.4,974.6C1252.5,976.3 1255.6,977.6 1257.2,980.2C1258.8,982.8 1258.6,987.8 1259,990.2C1259.4,992.7 1259.5,994 1259.6,994.7L1259.6,994.7Z" fill="#4da767"/>
<path d="M1259.6,945.7L1259.6,945.7C1259.2,946.8 1258.3,950.1 1257.2,952.4C1256,954.6 1254.1,957 1252.7,959C1251.3,961.1 1249.3,962.9 1248.9,964.6C1248.5,966.3 1249.3,967.6 1250.5,969.1C1251.7,970.6 1254.5,971.9 1256,973.5C1257.6,975.2 1259,978.2 1259.6,979.1L1259.6,979.1Z" fill="#034413"/>
<path d="M1259.6,941.2L1260.1,941.2C1260.9,942.7 1263,947.9 1265,950.1C1266.9,952.4 1268.3,953.1 1271.6,954.6C1275,956.1 1281.5,957.7 1285,959C1288.5,960.3 1292.1,961.5 1292.8,962.4C1293.6,963.3 1292.6,963.7 1289.5,964.6C1286.3,965.5 1278,966.7 1273.9,968C1269.8,969.3 1267.3,970.7 1265,972.4C1262.7,974.1 1260.9,977.1 1260.1,978L1259.6,978Z" fill="#e2c5c8"/>
<path d="M1259.6,945.7L1260.1,945.7C1261.1,946.8 1263.8,950.5 1266.1,952.4C1268.4,954.2 1270.9,955.3 1273.9,956.8C1276.8,958.3 1282.8,960.1 1283.9,961.3C1285,962.5 1283,962.8 1280.6,963.9C1278.1,965.1 1272.4,966.5 1269.4,968C1266.4,969.4 1264.3,971.1 1262.7,972.4C1261.2,973.7 1260.5,975.2 1260.1,975.8L1259.6,975.8Z" fill="#aa716f"/>
<path d="M1259.6,952.4L1260.1,952.4C1260.5,953.1 1261.7,955.5 1262.7,956.8C1263.7,958.1 1265.9,959 1266.1,960.2C1266.3,961.3 1264.6,962.4 1263.8,963.5C1263.1,964.6 1262.2,965.7 1261.6,966.8C1261,968 1260.3,969.6 1260.1,970.2L1259.6,970.2Z" fill="#4a1212"/>
<path d="M1329.3,930.1L1329.3,930.1C1329.2,932.2 1328.9,939.9 1328.7,943C1328.5,946 1328.9,946.7 1328.1,948.3C1327.4,950 1326.3,951.2 1324.4,952.6C1322.5,954.1 1319.5,955.7 1316.9,956.9C1314.2,958.2 1311.1,959.1 1308.3,960.2C1305.4,961.2 1301.8,962.6 1299.7,963.4C1297.5,964.2 1295.7,964.5 1295.4,965C1295,965.5 1295.7,965.8 1297.5,966.6C1299.3,967.4 1302.7,968.8 1306.1,969.8C1309.5,970.9 1314.7,972 1317.9,973C1321.2,974.1 1323.7,975 1325.4,976.3C1327.2,977.5 1327.9,978.1 1328.5,980.6C1329,983.1 1328.5,986.3 1328.7,991.3C1328.8,996.3 1329.2,1007.4 1329.3,1010.6L1329.3,1010.6Z" fill="#b1e0c4"/>
<path d="M1329.3,943L1329.3,943C1329,944 1328.8,947.6 1327.8,949.4C1326.8,951.2 1325.3,952.3 1323.3,953.7C1321.3,955.1 1318.3,956.8 1315.8,958C1313.3,959.3 1310.6,960.2 1308.3,961.2C1305.9,962.3 1303.2,963.6 1301.8,964.5C1300.5,965.3 1300,965.5 1300.2,966.1C1300.4,966.6 1301,966.9 1302.9,967.7C1304.8,968.5 1308.6,969.8 1311.5,970.9C1314.3,972 1317.6,973 1320.1,974.1C1322.6,975.2 1325.1,976.1 1326.5,977.3C1328,978.6 1328.2,978.4 1328.7,981.6C1329.1,984.9 1329.2,994.2 1329.3,996.7L1329.3,996.7Z" fill="#4da767"/>
<path d="M1329.3,948.3L1329.3,948.3C1328.9,949.2 1327.9,952.1 1327.1,953.7C1326.2,955.3 1325.5,956.6 1324.4,958C1323.2,959.4 1321.2,961.1 1320.1,962.3C1318.9,963.6 1317.4,964.5 1317.4,965.5C1317.4,966.6 1318.9,967.7 1320.1,968.8C1321.2,969.8 1323.1,970.9 1324.4,972C1325.6,973 1326.8,974.1 1327.6,975.2C1328.4,976.3 1329,977.9 1329.3,978.4L1329.3,978.4Z" fill="#034413"/>
<path d="M1329.3,955.9L1329.7,955.9C1330.6,956.4 1332.4,958.1 1335.1,959.1C1337.8,960.1 1342.3,961.1 1345.9,961.8C1349.4,962.5 1353.6,962.8 1356.6,963.4C1359.6,963.9 1363.6,964.5 1363.6,965C1363.6,965.4 1359.6,965.6 1356.6,966.1C1353.6,966.5 1349.3,967 1345.9,967.7C1342.5,968.3 1338.5,969.1 1336.2,969.8C1333.9,970.5 1333,971.1 1331.9,972C1330.8,972.9 1330.1,974.7 1329.7,975.2L1329.3,975.2Z" fill="#e2c5c8"/>
<path d="M1329.3,960.2L1329.7,960.2C1330.6,960.5 1333.1,961.7 1335.1,962.3C1337.1,962.9 1339.6,963.5 1341.6,963.9C1343.5,964.4 1346.8,964.6 1346.9,965C1347.1,965.3 1344.4,965.6 1342.6,966.1C1340.8,966.5 1338.1,967 1336.2,967.7C1334.3,968.3 1332.4,969.2 1331.4,969.8C1330.3,970.5 1330,971.2 1329.7,971.4L1329.3,971.4Z" fill="#aa716f"/>
<path d="M1329.3,963.4L1329.7,963.4C1329.9,963.6 1330.5,964.5 1330.8,965C1331.2,965.4 1331.9,965.6 1331.9,966.1C1331.9,966.5 1331.2,967.1 1330.8,967.7C1330.5,968.2 1329.9,969 1329.7,969.3L1329.3,969.3Z" fill="#4a1212"/>
<path d="M1399,948.3L1399,948.3C1398.8,949.8 1398.6,954.8 1398,956.9C1397.3,959.1 1396.6,960 1395.3,961.2C1393.9,962.5 1391.7,963.2 1389.9,964.5C1388.1,965.7 1386.1,967.1 1384.5,968.8C1382.9,970.4 1381.7,972.2 1380.2,974.1C1378.8,976.1 1377.2,978.6 1375.9,980.6C1374.7,982.5 1373.1,984.5 1372.7,985.9C1372.4,987.4 1373.1,988.1 1373.8,989.2C1374.5,990.2 1376.8,991.1 1377,992.4C1377.2,993.6 1376.5,995.2 1374.9,996.7C1373.3,998.1 1369,999.9 1367.3,1001C1365.7,1002.1 1364.5,1002.3 1365.2,1003.1C1365.9,1003.9 1369.5,1004.9 1371.6,1005.8C1373.8,1006.7 1377.2,1007.5 1378.1,1008.5C1379,1009.5 1377.4,1010.6 1377,1011.7C1376.7,1012.8 1376.8,1014 1375.9,1014.9C1375,1015.8 1372,1016.4 1371.6,1017.1C1371.3,1017.8 1373.1,1018.6 1373.8,1019.2C1374.5,1019.9 1375.6,1020.6 1375.9,1020.8L1399,1020.8Z" fill="#b1e0c4"/>
<path d="M1399,951.6L1399,951.6C1398.8,952.6 1398.6,956.2 1398,958C1397.3,959.8 1396.6,960.9 1395.3,962.3C1393.9,963.7 1391.5,965.2 1389.9,966.6C1388.3,968 1386.9,969.3 1385.6,970.9C1384.3,972.5 1383.1,974.5 1381.8,976.3C1380.6,978.1 1378.9,979.9 1378.1,981.6C1377.3,983.4 1376.8,985.6 1377,987C1377.2,988.4 1378.6,989.2 1379.2,990.2C1379.7,991.3 1380.4,992.4 1380.2,993.5C1380.1,994.5 1379.2,995.4 1378.1,996.7C1377,997.9 1374.9,999.7 1373.8,1001C1372.7,1002.2 1370.7,1003.3 1371.6,1004.2C1372.5,1005.1 1377,1005.5 1379.2,1006.3C1381.3,1007.2 1383.3,1008.5 1384.5,1009.6C1385.8,1010.6 1386.7,1011.7 1386.7,1012.8C1386.7,1013.9 1385.1,1014.9 1384.5,1016C1384,1017.1 1383.6,1018.4 1383.5,1019.2C1383.3,1020 1383.5,1020.6 1383.5,1020.8L1399,1020.8Z" fill="#4da767"/>
<path d="M1399,960.2L1399,960.2C1398.5,960.9 1397.5,963 1396.3,964.5C1395.2,965.9 1393.1,967 1392.1,968.8C1391,970.5 1390.4,973 1389.9,975.2C1389.4,977.3 1389,979.5 1388.8,981.6C1388.6,983.8 1388.5,986.3 1388.8,988.1C1389.2,989.9 1390.5,991.3 1391,992.4C1391.4,993.5 1391.7,993.6 1391.5,994.5C1391.3,995.4 1390,996.3 1389.9,997.8C1389.8,999.2 1390.3,1001.5 1391,1003.1C1391.7,1004.7 1393.3,1006 1394.2,1007.4C1395.1,1008.9 1396,1010.3 1396.3,1011.7C1396.7,1013.2 1396.3,1014.5 1396.3,1016C1396.3,1017.5 1396.3,1020 1396.3,1020.8L1399,1020.8Z" fill="#034413"/>
<path d="M1399,951.6L1399.4,951.6C1399.7,952.3 1399.4,954.4 1401.7,955.9C1404.1,957.3 1408.5,958.9 1413.5,960.2C1418.5,961.4 1428.6,962.7 1431.8,963.4C1435,964.1 1434.1,963.9 1432.9,964.5C1431.6,965 1427.5,965.5 1424.3,966.6C1421.1,967.7 1416.6,969.5 1413.5,970.9C1410.5,972.3 1408,973.8 1406,975.2C1404,976.6 1402.8,978.1 1401.7,979.5C1400.6,980.9 1399.7,983.1 1399.4,983.8L1399,983.8Z" fill="#e2c5c8"/>
<path d="M1399,956.9L1399.4,956.9C1400.5,957.5 1404.2,959.3 1406,960.2C1407.8,961.1 1409.1,961.6 1410.3,962.3C1411.6,963 1413.7,963.7 1413.5,964.5C1413.4,965.2 1410.7,965.7 1409.2,966.6C1407.8,967.5 1406.2,968.6 1404.9,969.8C1403.7,971.1 1402.6,972.9 1401.7,974.1C1400.8,975.4 1399.7,976.8 1399.4,977.3L1399,977.3Z" fill="#aa716f"/>
<path d="M1468.7,949.4L1468.7,949.4C1468.5,950.8 1468.6,955.9 1467.8,958C1467,960.2 1466.8,961.1 1464,962.3C1461.2,963.6 1455.1,964.6 1451.1,965.5C1447.2,966.4 1443.1,967 1440.4,967.7C1437.7,968.4 1435.6,968.9 1435,969.8C1434.4,970.7 1435.7,971.8 1436.6,973C1437.5,974.3 1438.5,975.9 1440.4,977.3C1442.3,978.8 1445,980.2 1447.9,981.6C1450.8,983.1 1455.4,984.3 1457.6,985.9C1459.7,987.5 1460.1,989.5 1460.8,991.3C1461.5,993.1 1461.5,994.9 1461.9,996.7C1462.2,998.5 1462.7,1000.3 1462.9,1002.1C1463.2,1003.8 1463.3,1005.6 1463.5,1007.4C1463.7,1009.2 1464.3,1011.4 1464,1012.8C1463.8,1014.2 1462.8,1014.9 1461.9,1016C1461,1017.1 1459.4,1018.4 1458.7,1019.2C1457.9,1020 1457.8,1020.6 1457.6,1020.8L1468.7,1020.8Z" fill="#b1e0c4"/>
<path d="M1468.7,951.6L1468.7,951.6C1468.4,952.8 1468.4,957.1 1467.2,959.1C1466.1,961.1 1464.9,962.1 1461.9,963.4C1458.8,964.6 1452.6,965.5 1449,966.6C1445.4,967.7 1441.6,968.8 1440.4,969.8C1439.1,970.9 1440.6,971.8 1441.5,973C1442.4,974.3 1444,975.9 1445.8,977.3C1447.6,978.8 1449.9,980.2 1452.2,981.6C1454.5,983.1 1457.9,984.3 1459.7,985.9C1461.5,987.5 1462.2,989.5 1462.9,991.3C1463.7,993.1 1463.8,994.9 1464,996.7C1464.3,998.5 1464.4,1000.3 1464.6,1002.1C1464.7,1003.8 1465,1005.6 1465.1,1007.4C1465.2,1009.2 1465.5,1011.4 1465.1,1012.8C1464.7,1014.2 1463.7,1014.9 1462.9,1016C1462.2,1017.1 1461.3,1018.4 1460.8,1019.2C1460.3,1020 1459.9,1020.6 1459.7,1020.8L1468.7,1020.8Z" fill="#4da767"/>
<path d="M1468.7,960.2L1468.7,960.2C1468.1,960.9 1466.6,963 1465.1,964.5C1463.6,965.9 1461,967.7 1459.7,968.8C1458.5,969.8 1457.6,970 1457.6,970.9C1457.6,971.8 1459.2,973 1459.7,974.1C1460.3,975.2 1460.3,976.1 1460.8,977.3C1461.3,978.6 1462.2,980.2 1462.9,981.6C1463.7,983.1 1464.6,983.4 1465.1,985.9C1465.6,988.4 1465.9,993.1 1466.2,996.7C1466.4,1000.3 1466.5,1003.4 1466.7,1007.4C1466.9,1011.5 1467.2,1018.6 1467.2,1020.8L1468.7,1020.8Z" fill="#034413"/>
<path d="M1468.7,962.3L1469.1,962.3C1470,962.7 1472,963.7 1474.8,964.5C1477.5,965.2 1481.7,965.9 1485.5,966.6C1489.3,967.3 1494.5,968.1 1497.3,968.8C1500.2,969.4 1503.2,969.8 1502.7,970.4C1502.2,970.9 1497.3,971.3 1494.1,972C1490.9,972.6 1486.6,973.4 1483.4,974.1C1480.1,974.8 1476.9,975.4 1474.8,976.3C1472.6,977.2 1471.4,978.6 1470.5,979.5C1469.5,980.4 1469.3,981.3 1469.1,981.6L1468.7,981.6Z" fill="#e2c5c8"/>
<path d="M1468.7,964.5L1469.1,964.5C1470.4,964.8 1474.2,965.9 1476.9,966.6C1479.7,967.3 1483.2,968.1 1485.5,968.8C1487.8,969.4 1490.9,969.8 1490.9,970.4C1490.9,970.9 1487.7,971.3 1485.5,972C1483.4,972.6 1480.1,973.4 1478,974.1C1475.8,974.8 1474.1,975.6 1472.6,976.3C1471.1,977 1469.7,978.1 1469.1,978.4L1468.7,978.4Z" fill="#aa716f"/>
<path d="M1468.7,967.7L1469.1,967.7C1469.5,967.9 1470.8,968.8 1471.5,969.3C1472.3,969.8 1473.7,970.4 1473.7,970.9C1473.7,971.4 1472.3,972 1471.5,972.5C1470.8,973 1469.5,973.9 1469.1,974.1L1468.7,974.1Z" fill="#4a1212"/>
<path d="M1538.3,985.9L1538.1,985.9C1538,987.6 1538.2,993.7 1537.6,996.6C1537,999.5 1536.2,1001.3 1534.4,1003C1532.6,1004.8 1528.7,1006.4 1526.9,1007.3C1525,1008.2 1523.1,1008 1523.1,1008.4C1523.1,1008.9 1525.5,1009.5 1526.9,1010C1528.2,1010.6 1532,1011.1 1531.2,1011.6C1530.3,1012.2 1526,1012.9 1521.5,1013.3C1517,1013.6 1504.3,1013.7 1504.3,1014C1504.3,1014.3 1516.5,1014.5 1521.5,1014.9C1526.5,1015.2 1531.6,1015.7 1534.4,1015.9C1537.2,1016.2 1537.5,1016.4 1538.1,1016.5L1538.3,1016.5Z" fill="#b1e0c4"/>
<path d="M1538.3,994.5L1538.1,994.5C1537.6,995.9 1536.6,1000.9 1534.9,1003C1533.2,1005.2 1529.7,1006.4 1527.9,1007.3C1526.1,1008.3 1524.1,1008.2 1524.2,1008.6C1524.3,1009.1 1527.1,1009.4 1528.5,1010C1529.8,1010.6 1534.3,1011.6 1532.2,1012.2C1530.2,1012.8 1519.7,1013.2 1516.1,1013.6C1512.5,1013.9 1509,1014.1 1510.7,1014.3C1512.5,1014.6 1522.6,1014.8 1526.9,1015.1C1531.2,1015.3 1534.6,1015.7 1536.5,1015.9C1538.4,1016.2 1537.9,1016.4 1538.1,1016.5L1538.3,1016.5Z" fill="#4da767"/>
<path d="M1538.3,1000.9L1538.1,1000.9C1537.5,1001.6 1535.7,1003.9 1534.4,1005.2C1533,1006.4 1530.4,1007.3 1530.1,1008.4C1529.7,1009.5 1531.5,1010.7 1532.2,1011.6C1532.9,1012.6 1533.4,1013.6 1534.4,1014.3C1535.4,1015 1537.5,1015.7 1538.1,1015.9L1538.3,1015.9Z" fill="#034413"/>
<path d="M1608,992.3L1608,992.3C1607.7,994.1 1606.9,1000.4 1606.3,1003C1605.8,1005.7 1605.5,1007 1604.7,1008.4C1604,1009.9 1603.8,1010.8 1602.1,1011.6C1600.3,1012.4 1594.9,1012.7 1594.5,1013.3C1594.2,1013.8 1601,1014.2 1599.9,1014.9C1598.8,1015.5 1591.1,1016.5 1588.1,1017C1585,1017.5 1580.2,1017.7 1581.6,1018.1C1583.1,1018.4 1592.6,1018.8 1596.7,1019.2C1600.8,1019.5 1604.5,1020 1606.3,1020.2C1608.2,1020.5 1607.7,1020.7 1608,1020.8L1608,1020.8Z" fill="#b1e0c4"/>
<path d="M1608,994.5L1608,994.5C1607.7,996.1 1607,1001.6 1606.3,1004.1C1605.7,1006.6 1605,1008.1 1604.2,1009.5C1603.4,1010.9 1602.1,1011.8 1601.5,1012.7C1601,1013.6 1602.1,1014.1 1601,1014.9C1599.8,1015.7 1594.7,1016.8 1594.5,1017.5C1594.4,1018.3 1597.8,1018.7 1599.9,1019.2C1602.1,1019.6 1606.1,1020 1607.4,1020.2C1608.8,1020.5 1607.9,1020.7 1608,1020.8L1608,1020.8Z" fill="#4da767"/>
<path d="M1608,1005.2L1608,1005.2C1607.6,1005.9 1606.6,1008.2 1605.8,1009.5C1605,1010.7 1603.8,1011.6 1603.1,1012.7C1602.5,1013.8 1602.1,1014.9 1602.1,1015.9C1602.1,1017 1602.1,1018.4 1603.1,1019.2C1604.1,1020 1607.2,1020.5 1608,1020.8L1608,1020.8Z" fill="#034413"/>
<path d="M1608,966.5L1608.3,966.5C1608.9,967.2 1609.9,969.4 1611.7,970.8C1613.5,972.3 1617.1,973.7 1619.2,975.1C1621.4,976.5 1622.8,977.6 1624.6,979.4C1626.4,981.2 1628,984.1 1630,985.9C1631.9,987.6 1634.5,989.1 1636.4,990.2C1638.4,991.2 1642.2,991.6 1641.8,992.3C1641.4,993 1637.3,993.7 1634.3,994.5C1631.2,995.2 1627.8,995.9 1623.5,996.6C1619.2,997.3 1611,998.4 1608.5,998.8L1608,998.8Z" fill="#e2c5c8"/>
<path d="M1677.7,982.6L1677.5,982.6C1677.3,984.1 1677.6,988.9 1676.7,991.2C1675.8,993.6 1673.2,995 1671.9,996.6C1670.5,998.2 1672.2,999.6 1668.7,1000.9C1665.1,1002.2 1654.2,1003.3 1650.4,1004.1C1646.6,1004.9 1645.7,1005.2 1646.1,1005.7C1646.5,1006.3 1649.7,1006.7 1652.5,1007.3C1655.4,1008 1660.8,1008.4 1663.3,1009.5C1665.8,1010.6 1666.7,1012.5 1667.6,1013.8C1668.5,1015 1671.9,1016.1 1668.7,1017C1665.4,1017.9 1649.5,1018.6 1648.2,1019.2C1647,1019.7 1657.2,1019.9 1661.1,1020.2C1665.1,1020.6 1670.1,1021.1 1671.9,1021.3L1677.7,1021.3Z" fill="#b1e0c4"/>
<path d="M1677.7,990.2L1677.5,990.2C1676.7,991.2 1674.2,994.8 1672.9,996.6C1671.7,998.4 1672.6,999.6 1669.7,1000.9C1666.9,1002.2 1658.6,1003.3 1655.8,1004.1C1652.9,1004.9 1652.4,1005.2 1652.5,1005.7C1652.7,1006.3 1654.7,1006.7 1656.8,1007.3C1659,1008 1663.5,1008.4 1665.4,1009.5C1667.4,1010.6 1667.9,1012.5 1668.7,1013.8C1669.4,1015 1671.3,1016.1 1669.7,1017C1668.1,1017.9 1658.6,1018.5 1659,1019.2C1659.3,1019.8 1669.4,1020.4 1671.9,1020.8C1674.4,1021.1 1673.7,1021.2 1674,1021.3L1677.7,1021.3Z" fill="#4da767"/>
<path d="M1677.7,996.6L1677.5,996.6C1676.9,997.3 1675.7,999.6 1674,1000.9C1672.4,1002.2 1669,1003.3 1667.6,1004.1C1666.1,1004.9 1664.7,1005 1665.4,1005.7C1666.1,1006.4 1670.4,1007.1 1671.9,1008.4C1673.3,1009.8 1673.5,1012 1674,1013.8C1674.6,1015.6 1674.7,1017.9 1675.1,1019.2C1675.5,1020.4 1676,1021 1676.2,1021.3L1677.7,1021.3Z" fill="#034413"/>
<path d="M1747.4,967.6L1747.1,967.6C1746.8,968.9 1746.4,972.8 1745.4,975.1C1744.5,977.4 1742.8,979.4 1741.2,981.6C1739.5,983.7 1737.6,986.2 1735.8,988C1734,989.8 1731.8,991.2 1730.4,992.3C1729.1,993.4 1728.3,993.4 1727.7,994.5C1727.2,995.5 1728.9,997.7 1727.2,998.8C1725.5,999.8 1717.9,1000.2 1717.5,1000.9C1717.2,1001.6 1724.3,1002.3 1725,1003C1725.8,1003.8 1723.7,1004.7 1721.8,1005.2C1719.9,1005.7 1713.9,1005.9 1713.8,1006.3C1713.6,1006.6 1717.1,1006.7 1720.7,1007.3C1724.4,1008 1733.1,1009.1 1735.8,1010C1738.5,1010.9 1736.9,1011.7 1736.9,1012.7C1736.9,1013.7 1736.3,1014.9 1735.8,1015.9C1735.2,1017 1734,1018.3 1733.6,1019.2C1733.3,1020.1 1733.6,1021 1733.6,1021.3L1747.4,1021.3Z" fill="#b1e0c4"/>
<path d="M1747.4,970.8L1747.1,970.8C1746.6,971.9 1745.5,975.1 1744.4,977.3C1743.2,979.4 1741.5,981.7 1740.1,983.7C1738.6,985.7 1737.2,987.5 1735.8,989.1C1734.3,990.7 1732.4,992.1 1731.5,993.4C1730.6,994.6 1731.1,995.5 1730.4,996.6C1729.7,997.7 1728.8,999 1727.2,999.8C1725.6,1000.6 1721.3,1000.7 1720.7,1001.4C1720.2,1002.2 1724.5,1003.4 1724,1004.1C1723.4,1004.8 1717.2,1005.2 1717.5,1005.7C1717.9,1006.3 1722.7,1006.6 1726.1,1007.3C1729.5,1008.1 1735.8,1009 1737.9,1010C1740.1,1011.1 1739,1012.4 1739,1013.8C1739,1015.1 1738.3,1016.8 1737.9,1018.1C1737.6,1019.3 1737,1020.8 1736.9,1021.3L1747.4,1021.3Z" fill="#4da767"/>
<path d="M1747.4,985.9L1747.1,985.9C1746.4,986.6 1744.4,988.9 1743.3,990.2C1742.2,991.4 1741,992.3 1740.6,993.4C1740.3,994.5 1741.6,995.5 1741.2,996.6C1740.7,997.7 1738.3,998.9 1737.9,999.8C1737.6,1000.7 1738.6,1001.3 1739,1002C1739.4,1002.7 1739.5,1003.2 1740.1,1004.1C1740.6,1005 1741.5,1006.1 1742.2,1007.3C1742.9,1008.6 1743.8,1010.2 1744.4,1011.6C1744.9,1013.1 1745.3,1014.3 1745.4,1015.9C1745.6,1017.5 1745.4,1020.4 1745.4,1021.3L1747.4,1021.3Z" fill="#034413"/>
<path d="M1817.1,993.4L1816.9,993.4C1816.8,995 1817.5,1000.7 1816.3,1003C1815.2,1005.4 1811.9,1006.3 1809.9,1007.3C1807.9,1008.4 1807.6,1008.8 1804.5,1009.5C1801.5,1010.2 1795,1011 1791.6,1011.6C1788.2,1012.3 1783.8,1012.7 1784.1,1013.3C1784.5,1013.8 1791.1,1014.2 1793.8,1014.9C1796.5,1015.5 1798.1,1016.3 1800.2,1017C1802.4,1017.7 1804.2,1018.4 1806.7,1019.2C1809.2,1019.9 1813.8,1021 1815.3,1021.3L1817.1,1021.3Z" fill="#b1e0c4"/>
<path d="M1817.1,996.6L1816.9,996.6C1816.7,997.9 1817.2,1002.2 1815.8,1004.1C1814.5,1006 1810.7,1006.9 1808.8,1007.9C1806.9,1008.9 1807,1009.3 1804.5,1010C1802,1010.7 1796.3,1011.6 1793.8,1012.2C1791.3,1012.8 1788.8,1013.2 1789.5,1013.8C1790.2,1014.4 1795.8,1015.2 1798.1,1015.9C1800.4,1016.7 1801.5,1017.4 1803.5,1018.1C1805.4,1018.8 1807.9,1019.7 1809.9,1020.2C1811.9,1020.8 1814.4,1021.1 1815.3,1021.3L1817.1,1021.3Z" fill="#4da767"/>
<path d="M1817.1,1003L1816.9,1003C1816.3,1003.8 1814.5,1006.1 1813.1,1007.3C1811.8,1008.6 1809.9,1009.7 1808.8,1010.6C1807.8,1011.5 1806.7,1012 1806.7,1012.7C1806.7,1013.4 1807.8,1014 1808.8,1014.9C1809.9,1015.8 1811.9,1017 1813.1,1018.1C1814.4,1019.2 1815.8,1020.8 1816.3,1021.3L1817.1,1021.3Z" fill="#034413"/>
<path d="M1886.8,959L1886.7,959C1885.9,959.5 1884.5,961.2 1881.9,962.2C1879.3,963.3 1874.4,964.4 1871.1,965.4C1867.9,966.5 1864.5,967.8 1862.5,968.7C1860.6,969.6 1859.3,969.7 1859.3,970.8C1859.3,971.9 1861.5,973.7 1862.5,975.1C1863.6,976.5 1866.1,978 1865.8,979.4C1865.4,980.8 1862.4,982.3 1860.4,983.7C1858.4,985.1 1853.9,986.9 1853.9,988C1853.9,989.1 1857.2,989.3 1860.4,990.2C1863.6,991.1 1870.4,991.9 1873.3,993.4C1876.1,994.8 1876.3,996.8 1877.6,998.8C1878.8,1000.7 1880.4,1002.7 1880.8,1005.2C1881.2,1007.7 1881.3,1011.5 1879.7,1013.8C1878.1,1016.1 1873.5,1017.9 1871.1,1019.2C1868.8,1020.4 1866.7,1021 1865.8,1021.3L1886.8,1021.3Z" fill="#b1e0c4"/>
<path d="M1886.8,961.2L1886.7,961.2C1885.5,961.7 1882.7,963.3 1879.7,964.4C1876.8,965.4 1871.5,966.5 1869,967.6C1866.5,968.7 1865,969.6 1864.7,970.8C1864.3,972.1 1866.3,973.7 1866.8,975.1C1867.4,976.5 1868.6,978 1867.9,979.4C1867.2,980.8 1864,982.3 1862.5,983.7C1861.1,985.1 1857.9,986.8 1859.3,988C1860.7,989.3 1867.9,989.8 1871.1,991.2C1874.4,992.7 1876.9,994.3 1878.7,996.6C1880.4,998.9 1881.5,1002.3 1881.9,1005.2C1882.2,1008.1 1881.7,1011.5 1880.8,1013.8C1879.9,1016.1 1877.8,1017.9 1876.5,1019.2C1875.3,1020.4 1873.8,1021 1873.3,1021.3L1886.8,1021.3Z" fill="#4da767"/>
<path d="M1886.8,961.2L1886.7,961.2C1885.9,962 1883.2,964.9 1881.9,966.5C1880.5,968.1 1879,969.4 1878.7,970.8C1878.3,972.3 1879.7,973.3 1879.7,975.1C1879.7,976.9 1879.2,979.4 1878.7,981.6C1878.1,983.7 1876.1,986.2 1876.5,988C1876.9,989.8 1879.7,990.3 1880.8,992.3C1881.9,994.3 1882.4,996.8 1882.9,999.8C1883.5,1002.9 1883.8,1007 1884,1010.6C1884.3,1014.1 1884.5,1019.5 1884.6,1021.3L1886.8,1021.3Z" fill="#034413"/>
<path d="M1886.8,961.2L1887,961.2C1888.9,961.5 1893.5,962.6 1898,963.3C1902.5,964 1910.5,964.8 1914.1,965.4C1917.7,966.1 1920.4,966.5 1919.5,967.1C1918.6,967.6 1913.2,967.9 1908.7,968.7C1904.3,969.5 1896,970.8 1892.6,971.9C1889.2,973 1889.3,974 1888.3,975.1C1887.4,976.2 1887.2,977.8 1887,978.3L1886.8,978.3Z" fill="#cab4d8"/>
<path d="M1886.8,963.3L1887,963.3C1888,963.7 1890.6,964.8 1892.6,965.4C1894.6,966.1 1898.7,966.5 1899.1,967.1C1899.4,967.6 1896.4,967.9 1894.8,968.7C1893.2,969.5 1890.7,971 1889.4,971.9C1888.1,972.8 1887.4,973.7 1887,974L1886.8,974Z" fill="#7c539b"/>
<path d="M1886.8,965.4L1887,965.4C1887.4,965.7 1889.2,966.6 1889.4,967.1C1889.6,967.5 1888.5,968 1888.3,968.1L1886.8,968.1Z" fill="#1c0a33"/>
<path d="M1956.5,958.9L1956.4,958.9C1956.1,959.6 1956.4,962.2 1954.9,963.2C1953.5,964.3 1950.3,964.7 1947.7,965.4C1945,966.1 1940.8,966.9 1939,967.6C1937.2,968.2 1936.6,968.8 1936.9,969.4C1937.1,970 1938.8,970.4 1940.5,971.2C1942.2,972 1945.6,973.1 1947,974.1C1948.3,975 1949,975.9 1948.4,977C1947.8,978.1 1945.4,979.5 1943.4,980.6C1941.3,981.7 1938.8,982.4 1936.1,983.5C1933.5,984.6 1929.7,986.1 1927.5,987.1C1925.2,988.1 1922.2,988.5 1922.4,989.3C1922.6,990 1927.1,990.7 1928.9,991.4C1930.7,992.1 1931,992.8 1933.2,993.6C1935.5,994.4 1939.9,995.5 1942.6,996.5C1945.4,997.4 1948.2,998.4 1949.9,999.4C1951.5,1000.3 1952.2,1001.2 1952.8,1002.3C1953.4,1003.3 1953.3,1004.7 1953.5,1005.9C1953.7,1007.1 1953.8,1008.3 1953.8,1009.5C1953.8,1010.7 1953.6,1011.9 1953.5,1013.1C1953.4,1014.3 1953.5,1015.3 1953.1,1016.7C1952.8,1018.1 1951.6,1020.6 1951.3,1021.4L1956.5,1021.4Z" fill="#b1e0c4"/>
<path d="M1956.5,960.4L1956.4,960.4C1956.1,961 1956.1,963 1954.9,964C1953.7,964.9 1951.5,965.5 1949.1,966.1C1946.7,966.8 1942.2,967.3 1940.5,967.9C1938.8,968.5 1938.5,969.1 1939,969.7C1939.5,970.4 1941.7,971.1 1943.4,971.9C1945,972.8 1947.9,973.8 1949.1,974.8C1950.3,975.8 1951.2,976.6 1950.6,977.7C1950,978.8 1947.7,980.2 1945.5,981.3C1943.4,982.4 1940.1,983.2 1937.6,984.2C1935,985.2 1931.9,986.2 1930.4,987.1C1928.8,987.9 1927.9,988.5 1928.2,989.3C1928.4,990 1930.2,990.6 1931.8,991.4C1933.4,992.3 1935.2,993.4 1937.6,994.3C1940,995.3 1943.8,996.2 1946.2,997.2C1948.7,998.2 1950.8,999 1952,1000.1C1953.3,1001.2 1953.5,1002.1 1953.8,1003.7C1954.2,1005.3 1954.2,1007.3 1954.2,1009.5C1954.2,1011.7 1954.1,1014.7 1953.8,1016.7C1953.6,1018.7 1952.9,1020.6 1952.8,1021.4L1956.5,1021.4Z" fill="#4da767"/>
<path d="M1956.5,961.8L1956.4,961.8C1956.1,962.5 1956.2,965 1954.9,966.1C1953.6,967.2 1949.3,967.6 1948.4,968.3C1947.6,969 1949,969.6 1949.9,970.5C1950.7,971.3 1952.8,972.3 1953.5,973.4C1954.2,974.4 1954.4,975.8 1954.2,977C1954,978.2 1953.1,979.3 1952,980.6C1950.9,981.9 1948.8,983.7 1947.7,984.9C1946.6,986.1 1946,987 1945.5,987.8C1945,988.7 1944.4,989.1 1944.8,990C1945.2,990.8 1946.5,991.8 1947.7,992.9C1948.9,994 1950.9,995.2 1952,996.5C1953.2,997.8 1954,998.7 1954.6,1000.8C1955.1,1003 1955.1,1006.1 1955.3,1009.5C1955.5,1012.9 1955.6,1019.4 1955.6,1021.4L1956.5,1021.4Z" fill="#034413"/>
<path d="M1956.5,961.1L1956.5,961.1C1957.9,961.6 1961.8,963.1 1965,964C1968.3,964.8 1971.8,965.5 1975.9,966.1C1980,966.7 1989,967.1 1989.6,967.6C1990.2,968.1 1983,968.3 1979.5,969C1976,969.7 1971.7,971 1968.7,971.9C1965.6,972.9 1963.4,974 1961.4,974.8C1959.4,975.6 1957.3,976.6 1956.5,977L1956.5,977Z" fill="#cab4d8"/>
<path d="M1956.5,964.7L1956.5,964.7C1957.7,965 1961.2,966.3 1963.6,966.9C1966,967.5 1970.2,967.9 1970.8,968.3C1971.4,968.7 1968.7,968.9 1967.2,969.4C1965.8,969.9 1963.7,970.5 1962.1,971.2C1960.6,971.9 1958.8,972.8 1957.8,973.4C1956.9,974 1956.7,974.6 1956.5,974.8L1956.5,974.8Z" fill="#7c539b"/>
<path d="M1956.5,967.6L1956.5,967.6C1956.7,967.8 1957.2,968.3 1957.5,968.7C1957.7,969 1957.9,969.4 1957.8,969.7C1957.8,970.1 1957.2,970.6 1957.1,970.8L1956.5,970.8Z" fill="#1c0a33"/>
<path d="M2026.2,969L2025.9,969C2025.6,969.7 2025.4,972 2024.3,973.4C2023.2,974.7 2021.2,975.9 2019.2,977C2017.3,978.1 2014.8,978.8 2012.7,979.9C2010.7,980.9 2008.6,982.4 2007,983.5C2005.3,984.6 2003.5,985.5 2002.6,986.4C2001.8,987.2 2001.3,987.9 2001.9,988.5C2002.5,989.1 2006.6,989.5 2006.2,990C2005.9,990.5 2002,991 1999.7,991.4C1997.4,991.8 1992.5,992.2 1992.5,992.5C1992.5,992.8 1997.1,992.8 1999.7,993.2C2002.4,993.7 2005.3,994.3 2008.4,995C2011.5,995.8 2016.2,997 2018.5,997.9C2020.8,998.9 2021.4,999.5 2022.1,1000.8C2022.9,1002.1 2022.9,1003.8 2022.9,1005.9C2022.9,1007.9 2022.9,1010.9 2022.1,1013.1C2021.4,1015.3 2019.7,1017.8 2018.5,1018.9C2017.3,1020 2014.4,1019.4 2014.9,1019.6C2015.4,1019.9 2019.6,1020 2021.4,1020.3C2023.2,1020.6 2025,1021.2 2025.7,1021.4L2026.2,1021.4Z" fill="#b1e0c4"/>
<path d="M2026.2,970.5L2025.9,970.5C2025.5,971.2 2025,973.5 2023.6,974.8C2022.1,976.1 2019,977.3 2017.1,978.4C2015.1,979.5 2013.6,980.3 2012,981.3C2010.4,982.3 2008.9,983.2 2007.7,984.2C2006.5,985.2 2005,986.2 2004.8,987.1C2004.5,987.9 2006.8,988.5 2006.2,989.3C2005.6,990 2002.7,990.9 2001.2,991.4C1999.6,992 1996.6,992.1 1996.8,992.5C1997.1,992.9 2000,993.1 2002.6,993.6C2005.3,994.1 2009.8,994.9 2012.7,995.8C2015.6,996.6 2018.3,997.6 2020,998.7C2021.6,999.7 2022.4,1000.5 2022.9,1002.3C2023.3,1004.1 2023,1007.1 2022.9,1009.5C2022.7,1011.9 2022,1014.9 2022.1,1016.7C2022.2,1018.5 2022.9,1019.5 2023.6,1020.3C2024.2,1021.1 2025.5,1021.2 2025.9,1021.4L2026.2,1021.4Z" fill="#4da767"/>
<path d="M2026.2,971.9L2025.9,971.9C2025.6,972.6 2025,974.8 2024.3,976.2C2023.6,977.7 2022.4,979.1 2021.4,980.6C2020.4,982 2019.2,983.7 2018.5,984.9C2017.8,986.1 2017.6,986.8 2017.1,987.8C2016.6,988.8 2016,989.9 2015.6,990.7C2015.3,991.5 2014.4,992.1 2014.9,992.9C2015.4,993.6 2017.2,994.1 2018.5,995C2019.8,996 2021.9,996.8 2022.9,998.7C2023.8,1000.5 2023.9,1002.1 2024.3,1005.9C2024.7,1009.7 2024.9,1018.8 2025,1021.4L2026.2,1021.4Z" fill="#034413"/>
<path d="M123.3,1351.2L123.2,1351.2C122.8,1351.8 122.8,1353.5 120.4,1354.6C118.1,1355.7 112.9,1356.8 109.2,1358C105.5,1359.1 99.6,1360.4 98,1361.3C96.4,1362.3 97.8,1362.8 99.7,1363.6C101.5,1364.3 105.3,1365.1 109.2,1365.8C113.1,1366.6 120.9,1367.7 123.2,1368.1L123.3,1368.1Z" fill="#b1e0c4"/>
<path d="M123.3,1354L123.2,1354C122.4,1354.3 120.5,1355 118.2,1355.7C115.8,1356.5 112.2,1357.5 109.2,1358.5C106.2,1359.6 101.3,1361 100.2,1361.9C99.1,1362.8 100.2,1363.4 102.5,1364.1C104.7,1364.9 110.2,1365.8 113.7,1366.4C117.2,1367 121.6,1367.6 123.2,1367.9L123.3,1367.9Z" fill="#4da767"/>
<path d="M123.3,1354L123.2,1354C122.8,1354.5 121.8,1355.8 120.4,1356.8C119,1357.9 116,1359.2 114.8,1360.2C113.6,1361.2 112.9,1362.2 113.1,1363C113.3,1363.9 114.3,1364.5 115.9,1365.3C117.6,1366 122,1367.1 123.2,1367.5L123.3,1367.5Z" fill="#034413"/>
<path d="M123.3,1355.7L123.5,1355.7C124.6,1356.3 127.7,1358.2 130.5,1359.1C133.4,1360 137.8,1360.6 140.6,1361.3C143.5,1362 147.4,1362.7 147.4,1363.4C147.4,1364 143.5,1364.7 140.6,1365.3C137.8,1365.9 133.4,1366.5 130.5,1367C127.7,1367.4 124.6,1367.9 123.5,1368.1L123.3,1368.1Z" fill="#b3b2c5"/>
<path d="M123.3,1356.8L123.5,1356.8C124.5,1357.3 127.5,1358.8 129.4,1359.7C131.3,1360.5 133.5,1361.2 135,1361.9C136.5,1362.6 138.6,1363 138.4,1363.6C138.2,1364.1 135.8,1364.7 133.9,1365.3C132,1365.8 128.9,1366.5 127.2,1367C125.4,1367.4 124.1,1367.7 123.5,1367.9L123.3,1367.9Z" fill="#4c4c6a"/>
<path d="M196.7,1351.2L196.7,1351.2C196.1,1351.8 196,1353.4 193.4,1354.6C190.8,1355.8 184.6,1357.3 181.1,1358.5C177.5,1359.7 173,1361 172.1,1361.9C171.2,1362.8 173,1363.4 175.5,1364.1C177.9,1364.9 183.2,1365.7 186.7,1366.4C190.2,1367 195,1367.8 196.7,1368.1L196.7,1368.1Z" fill="#b1e0c4"/>
<path d="M196.7,1354L196.7,1354C195.8,1354.4 193.4,1355.4 191.2,1356.3C189,1357.1 185.8,1358.2 183.3,1359.1C180.9,1360 177.3,1361.1 176.6,1361.9C175.8,1362.7 176.8,1363.4 178.8,1364.1C180.9,1364.9 186,1365.8 188.9,1366.4C191.9,1367 195.4,1367.6 196.7,1367.9L196.7,1367.9Z" fill="#4da767"/>
<path d="M196.7,1354.6L196.7,1354.6C196.1,1355.1 194.5,1356.5 193.4,1357.4C192.3,1358.3 190.8,1359.3 190.1,1360.2C189.3,1361.2 188.7,1362.2 188.9,1363C189.1,1363.9 189.9,1364.5 191.2,1365.3C192.5,1366 195.8,1367.1 196.7,1367.5L196.7,1367.5Z" fill="#034413"/>
<path d="M196.7,1355.7L196.9,1355.7C198,1356.1 200.9,1357.1 203.5,1358C206.1,1358.8 209.8,1359.8 212.5,1360.8C215.2,1361.7 219.6,1362.7 219.8,1363.6C220,1364.4 216.4,1365.2 213.6,1365.8C210.9,1366.5 206.3,1367.1 203.5,1367.5C200.7,1367.9 198,1368 196.9,1368.1L196.7,1368.1Z" fill="#b3b2c5"/>
<path d="M196.7,1359.1L196.9,1359.1C197.2,1359.5 198.1,1360.6 198.5,1361.3C198.8,1362.1 199,1362.8 199,1363.6C199,1364.3 198.8,1365.2 198.5,1365.8C198.1,1366.5 197.2,1367.2 196.9,1367.5L196.7,1367.5Z" fill="#4c4c6a"/>
<path d="M270.1,1353.5L270,1353.5C269.6,1354 269.3,1355.7 267.5,1356.8C265.8,1358 263.3,1359.2 259.7,1360.2C256,1361.2 247.7,1362.3 245.6,1363C243.6,1363.8 246.3,1364.1 247.3,1364.7C248.4,1365.3 248,1365.8 251.8,1366.4C255.6,1367 267,1367.8 270,1368.1L270.1,1368.1Z" fill="#b1e0c4"/>
<path d="M270.1,1361.3L270,1361.3C269.4,1361.5 267.6,1362 266.4,1362.5C265.3,1362.9 263.8,1363.6 263.1,1364.1C262.3,1364.7 261.4,1365.3 261.9,1365.8C262.5,1366.4 265.1,1367.1 266.4,1367.5C267.8,1367.9 269.4,1368 270,1368.1L270.1,1368.1Z" fill="#4da767"/>
<path d="M343.5,1350.7L343.5,1350.7C343.1,1351.3 343.6,1353.4 341.6,1354.6C339.5,1355.8 335.2,1356.8 331.4,1358C327.7,1359.1 321.7,1360.5 319.1,1361.3C316.5,1362.2 315.5,1362.5 315.7,1363C315.9,1363.6 317.2,1364.1 320.2,1364.7C323.2,1365.4 329.8,1366.4 333.7,1367C337.6,1367.5 341.8,1367.9 343.5,1368.1L343.5,1368.1Z" fill="#b1e0c4"/>
<path d="M343.5,1355.7L343.5,1355.7C342.6,1356.1 340.4,1357.1 338.2,1358C336,1358.8 332.2,1359.9 330.3,1360.8C328.5,1361.6 327.1,1362.3 327,1363C326.8,1363.8 327.1,1364.5 329.2,1365.3C331.3,1366 336.9,1367 339.3,1367.5C341.7,1368 342.8,1368 343.5,1368.1L343.5,1368.1Z" fill="#4da767"/>
<path d="M343.5,1362.5L343.5,1362.5C343.1,1362.8 341.8,1364 341.6,1364.7C341.3,1365.5 341.8,1366.4 342.1,1367C342.4,1367.5 343.2,1367.9 343.5,1368.1L343.5,1368.1Z" fill="#034413"/>
<path d="M343.5,1358L343.7,1358C344.8,1358.3 348.1,1359.5 350.5,1360.2C353,1361 356.2,1361.7 358.4,1362.5C360.6,1363.2 363.3,1364.1 364,1364.7C364.8,1365.4 365.1,1365.9 362.9,1366.4C360.6,1366.9 353.7,1367.2 350.5,1367.5C347.3,1367.8 344.8,1368 343.7,1368.1L343.5,1368.1Z" fill="#b3b2c5"/>
<path d="M343.5,1359.1L343.7,1359.1C344.8,1359.5 348.6,1360.6 350.5,1361.3C352.4,1362.1 353.7,1362.8 355,1363.6C356.3,1364.3 358.8,1365.3 358.4,1365.8C358,1366.4 355.2,1366.6 352.8,1367C350.3,1367.3 345.2,1367.9 343.7,1368.1L343.5,1368.1Z" fill="#4c4c6a"/>
<path d="M343.5,1361.3L343.7,1361.3C344.1,1361.7 345.4,1362.9 346,1363.6C346.7,1364.2 347.7,1364.7 347.7,1365.3C347.7,1365.8 346.7,1366.5 346,1367C345.4,1367.4 344.1,1367.7 343.7,1367.9L343.5,1367.9Z" fill="#0b0b14"/>
<path d="M416.9,1356.8L416.9,1356.8C415.4,1357.3 410.8,1358.8 407.8,1359.7C404.8,1360.5 401.4,1361.2 398.8,1361.9C396.3,1362.6 393.2,1363 392.7,1363.6C392.1,1364.1 393.1,1364.7 395.5,1365.3C397.8,1365.8 403.1,1366.5 406.7,1367C410.3,1367.4 415.2,1367.9 416.9,1368.1L416.9,1368.1Z" fill="#b1e0c4"/>
<path d="M416.9,1357.4L416.9,1357.4C415.5,1357.9 411.6,1359.4 408.9,1360.2C406.3,1361.1 402.9,1361.8 401.1,1362.5C399.2,1363.1 397.7,1363.6 397.7,1364.1C397.7,1364.7 398.8,1365.3 401.1,1365.8C403.3,1366.4 408.6,1367.1 411.2,1367.5C413.8,1367.9 415.9,1368 416.9,1368.1L416.9,1368.1Z" fill="#4da767"/>
<path d="M416.9,1361.9L416.9,1361.9C416.5,1362.3 415,1363.4 414.6,1364.1C414.1,1364.9 413.6,1365.7 414,1366.4C414.4,1367 416.4,1367.8 416.9,1368.1L416.9,1368.1Z" fill="#034413"/>
<path d="M416.9,1360.2L417.1,1360.2C418.2,1360.6 421.3,1361.7 423.5,1362.5C425.7,1363.2 428,1364.1 430.3,1364.7C432.5,1365.4 437.4,1365.9 437,1366.4C436.6,1366.9 431.3,1367.2 428,1367.5C424.7,1367.8 418.9,1368 417.1,1368.1L416.9,1368.1Z" fill="#b3b2c5"/>
<path d="M416.9,1364.1L417.1,1364.1C417.8,1364.4 419.7,1365.4 421.3,1365.8C422.9,1366.3 426.5,1366.6 426.9,1367C427.3,1367.3 425.2,1367.7 423.5,1367.9C421.9,1368 418.2,1368 417.1,1368.1L416.9,1368.1Z" fill="#4c4c6a"/>
<path d="M490.2,1353.5L490.2,1353.5C489.2,1354 486.7,1355.8 484.2,1356.8C481.7,1357.9 478.2,1358.8 475.2,1359.7C472.2,1360.5 467.3,1361.2 466.2,1361.9C465.1,1362.6 466.6,1362.9 468.5,1363.6C470.3,1364.2 473.8,1365.1 477.4,1365.8C481.1,1366.6 488.1,1367.7 490.2,1368.1L490.2,1368.1Z" fill="#b1e0c4"/>
<path d="M490.2,1354.6L490.2,1354.6C488.9,1355.2 484.8,1356.9 481.9,1358C479.1,1359 475,1360 472.9,1360.8C470.9,1361.5 469.6,1361.8 469.6,1362.5C469.6,1363.1 470.9,1364 472.9,1364.7C475,1365.5 479.1,1366.4 481.9,1367C484.8,1367.5 488.9,1367.9 490.2,1368.1L490.2,1368.1Z" fill="#4da767"/>
<path d="M490.2,1355.7L490.2,1355.7C489.4,1356.3 486.7,1358 485.3,1359.1C483.9,1360.2 482.3,1361.4 481.9,1362.5C481.6,1363.5 481.7,1364.3 483.1,1365.3C484.4,1366.2 489,1367.6 490.2,1368.1L490.2,1368.1Z" fill="#034413"/>
<path d="M490.2,1359.1L490.5,1359.1C491.7,1359.5 494.8,1360.6 497.7,1361.3C500.5,1362.1 505,1362.9 507.8,1363.6C510.6,1364.3 514.5,1365 514.5,1365.6C514.5,1366.2 511.8,1366.5 507.8,1367C503.8,1367.4 493.4,1367.9 490.5,1368.1L490.2,1368.1Z" fill="#b3b2c5"/>
<path d="M563.6,1304.3L563.6,1304.3C563.5,1305.9 563.4,1311.3 563,1313.7C562.7,1316.2 562.8,1317.5 561.4,1319.1C560.1,1320.6 558.1,1321.9 554.8,1323.1C551.4,1324.2 545.1,1324.8 541.4,1325.7C537.7,1326.6 534.6,1327.5 532.7,1328.4C530.8,1329.3 529.9,1330.2 530,1331.1C530.1,1332 531.5,1332.6 533.4,1333.8C535.3,1334.9 538.9,1336.2 541.4,1337.8C543.8,1339.3 546.1,1341.3 548.1,1343.1C550.1,1344.9 551.9,1346.7 553.4,1348.5C555,1350.3 556.2,1352 557.4,1353.8C558.7,1355.6 559.8,1357.2 560.8,1359.2C561.8,1361.2 563.1,1364.7 563.6,1365.8L563.6,1365.8Z" fill="#b1e0c4"/>
<path d="M563.6,1313.7L563.6,1313.7C563.2,1314.8 562.7,1318.7 561.4,1320.4C560.2,1322.1 559,1322.7 556.1,1323.7C553.2,1324.7 547.4,1325.5 544.1,1326.4C540.7,1327.3 537.6,1328.2 536,1329.1C534.5,1330 534.3,1330.8 534.7,1331.8C535.2,1332.8 536.9,1333.9 538.7,1335.1C540.5,1336.3 543.2,1337.5 545.4,1339.1C547.6,1340.7 550.2,1342.7 552.1,1344.5C554,1346.2 555.4,1348 556.8,1349.8C558.1,1351.6 559.1,1353.1 560.1,1355.2C561.1,1357.2 562.2,1360.2 562.8,1361.8C563.4,1363.5 563.5,1364.6 563.6,1365.2L563.6,1365.2Z" fill="#4da767"/>
<path d="M563.6,1321.7L563.6,1321.7C563,1322.2 561.6,1323.5 560.1,1324.4C558.6,1325.3 556.2,1326.2 554.8,1327.1C553.3,1328 551.9,1328.7 551.4,1329.7C551,1330.8 551.4,1331.8 552.1,1333.1C552.8,1334.4 554.2,1335.9 555.4,1337.8C556.7,1339.7 558.3,1342.2 559.4,1344.5C560.6,1346.7 561.4,1348.5 562.1,1351.1C562.8,1353.8 563.3,1358.9 563.6,1360.5L563.6,1360.5Z" fill="#034413"/>
<path d="M563.6,1320.4L563.9,1320.4C564.8,1321.1 566.8,1323.3 569.5,1324.4C572.2,1325.5 576.8,1326.2 580.2,1327.1C583.5,1328 587.1,1328.9 589.5,1329.7C592,1330.6 595.3,1331.5 594.9,1332.4C594.4,1333.3 589.7,1334 586.9,1335.1C584,1336.2 580.2,1337.5 577.5,1339.1C574.8,1340.7 572.6,1342.5 570.8,1344.5C569,1346.5 567.8,1348.9 566.8,1351.1C565.8,1353.4 565.3,1356 564.8,1357.8C564.3,1359.6 564,1361.2 563.9,1361.8L563.6,1361.8Z" fill="#b3b2c5"/>
<path d="M563.6,1321.7L563.9,1321.7C564.8,1322.3 567.2,1324.1 569.5,1325.1C571.7,1326.1 575,1326.9 577.5,1327.7C579.9,1328.6 582.6,1329.6 584.2,1330.4C585.7,1331.2 587.3,1331.6 586.9,1332.4C586.4,1333.2 583.5,1334 581.5,1335.1C579.5,1336.2 576.8,1337.3 574.8,1339.1C572.8,1340.9 570.9,1343.6 569.5,1345.8C568,1348 567,1350.3 566.1,1352.5C565.2,1354.7 564.5,1358.1 564.1,1359.2L563.6,1359.2Z" fill="#4c4c6a"/>
<path d="M563.6,1323.1L563.9,1323.1C564.2,1323.7 565.3,1325.8 566.1,1327.1C567,1328.3 568.2,1329.4 568.8,1330.4C569.4,1331.4 569.7,1332.2 569.5,1333.1C569.2,1334 568.1,1334.5 567.5,1335.8C566.8,1337 566,1338.8 565.5,1340.4C564.9,1342.1 564.3,1344.9 564.1,1345.8L563.6,1345.8Z" fill="#0b0b14"/>
<path d="M637,1339.1L637,1339.1C636.7,1340.2 636.2,1344 635,1345.8C633.8,1347.6 633.2,1348.7 629.6,1349.8C626.1,1350.9 617.6,1351.6 613.6,1352.5C609.6,1353.4 607.1,1354.3 605.6,1355.2C604,1356 602.9,1356.9 604.2,1357.8C605.6,1358.7 610.3,1359.6 613.6,1360.5C616.9,1361.4 620.9,1362.3 624.3,1363.2C627.6,1364.1 631.5,1365.2 633.6,1365.8C635.8,1366.5 636.4,1367 637,1367.2L637,1367.2Z" fill="#b1e0c4"/>
<path d="M637,1343.1L637,1343.1C636.5,1344 636,1347.1 634.3,1348.5C632.6,1349.8 629.7,1350.3 627,1351.1C624.2,1352 620.1,1352.9 617.6,1353.8C615.2,1354.7 612.9,1355.6 612.3,1356.5C611.6,1357.4 612,1358.3 613.6,1359.2C615.2,1360.1 618.7,1360.9 621.6,1361.8C624.5,1362.7 628.5,1363.7 631,1364.5C633.4,1365.3 635.4,1366.2 636.3,1366.5L637,1366.5Z" fill="#4da767"/>
<path d="M637,1349.8L637,1349.8C636.4,1350.3 634.7,1351.6 633.6,1352.5C632.6,1353.4 631.8,1354.2 631,1355.2C630.2,1356.2 629,1357.5 629,1358.5C629,1359.5 630,1360.2 631,1361.2C632,1362.2 634,1363.6 635,1364.5C636,1365.4 636.7,1366.2 637,1366.5L637,1366.5Z" fill="#034413"/>
<path d="M637,1348.5L637.3,1348.5C638.7,1349.1 642.7,1351.4 645.7,1352.5C648.6,1353.6 652.4,1354.3 655,1355.2C657.7,1356 659.7,1357 661.7,1357.8C663.7,1358.6 667.5,1359.2 667.1,1359.8C666.6,1360.5 662.2,1361.1 659.1,1361.8C655.9,1362.6 651.9,1363.6 648.4,1364.5C644.8,1365.4 639.4,1366.7 637.7,1367.2L637,1367.2Z" fill="#b3b2c5"/>
<path d="M637,1349.8L637.3,1349.8C638.9,1350.5 644.1,1352.7 647,1353.8C650,1354.9 652.8,1355.6 655,1356.5C657.3,1357.4 659.9,1358.4 660.4,1359.2C660.8,1359.9 659.7,1360.4 657.7,1361.2C655.7,1361.9 651.5,1363 648.4,1363.8C645.2,1364.7 640.6,1366.1 639,1366.5L637,1366.5Z" fill="#4c4c6a"/>
<path d="M637,1351.1L637.3,1351.1C638,1351.8 640.4,1353.9 641.7,1355.2C643,1356.4 644.8,1357.5 645,1358.5C645.2,1359.5 643.9,1360.2 643,1361.2C642.1,1362.2 640.6,1363.6 639.7,1364.5C638.7,1365.4 637.7,1366.2 637.3,1366.5L637,1366.5Z" fill="#0b0b14"/>
<path d="M710.4,1233.5L710.4,1233.5C710.3,1237.9 710.1,1252.4 709.8,1260.2C709.5,1268 709.2,1274.7 708.5,1280.3C707.9,1285.8 707,1290.3 705.8,1293.6C704.7,1297 703.8,1298.1 701.8,1300.3C699.8,1302.6 696.7,1304.8 693.8,1307C690.9,1309.2 687.4,1311.9 684.5,1313.7C681.6,1315.5 678.2,1316.4 676.4,1317.7C674.7,1319.1 674,1320.2 673.8,1321.7C673.5,1323.3 674,1325.1 675.1,1327.1C676.2,1329.1 678.7,1331.5 680.4,1333.8C682.2,1336 684.7,1338.4 685.8,1340.4C686.9,1342.5 687.4,1344.2 687.1,1345.8C686.9,1347.4 684.2,1348.5 684.5,1349.8C684.7,1351.1 686.5,1352.3 688.5,1353.8C690.5,1355.4 693.6,1357.4 696.5,1359.2C699.4,1360.9 703.5,1363.3 705.8,1364.5C708.2,1365.7 709.6,1366.2 710.4,1366.5L710.4,1366.5Z" fill="#b1e0c4"/>
<path d="M710.4,1246.9L710.4,1246.9C710.2,1251.3 709.9,1266.9 709.5,1273.6C709,1280.3 708.6,1283.2 707.9,1287C707.1,1290.8 706.5,1293.6 705.2,1296.3C703.8,1299 702.2,1300.8 699.8,1303C697.5,1305.2 693.7,1307.7 691.1,1309.7C688.6,1311.7 686.2,1313.3 684.5,1315C682.7,1316.8 681.1,1318.4 680.4,1320.4C679.8,1322.4 679.8,1324.8 680.4,1327.1C681.1,1329.3 683.1,1331.5 684.5,1333.8C685.8,1336 687.6,1338.2 688.5,1340.4C689.4,1342.7 689.4,1345.1 689.8,1347.1C690.3,1349.1 689.8,1350.7 691.1,1352.5C692.5,1354.3 695.4,1356 697.8,1357.8C700.3,1359.6 703.8,1361.8 705.8,1363.2C707.9,1364.5 709.6,1365.4 710.4,1365.8L710.4,1365.8Z" fill="#4da767"/>
<path d="M710.4,1287L710.4,1287C710.1,1289.2 709.5,1296.8 708.5,1300.3C707.5,1303.9 705.8,1305.9 704.5,1308.4C703.2,1310.8 701.5,1312.8 700.5,1315C699.5,1317.3 698.7,1319.5 698.5,1321.7C698.3,1324 698.7,1326.2 699.2,1328.4C699.6,1330.6 700.7,1332.6 701.2,1335.1C701.6,1337.5 701.5,1340.4 701.8,1343.1C702.2,1345.8 702.4,1348.7 703.2,1351.1C704,1353.6 705.4,1355.8 706.5,1357.8C707.6,1359.8 709.2,1362.1 709.8,1363.2C710.5,1364.3 710.3,1364.3 710.4,1364.5L710.4,1364.5Z" fill="#034413"/>
<path d="M710.4,1273.6L710.7,1273.6C710.9,1275.8 711.3,1283.4 711.9,1287C712.4,1290.5 712.4,1292.5 713.9,1295C715.3,1297.4 717.9,1299.4 720.6,1301.7C723.2,1303.9 726.8,1306.1 729.9,1308.4C733,1310.6 736.8,1313 739.3,1315C741.7,1317 743.5,1318.6 744.6,1320.4C745.7,1322.2 746.2,1324.2 746,1325.7C745.7,1327.3 745.1,1328.2 743.3,1329.7C741.5,1331.3 737.5,1333.3 735.3,1335.1C733,1336.9 731.3,1338.7 729.9,1340.4C728.6,1342.2 728.1,1344.2 727.2,1345.8C726.4,1347.4 725.7,1348.5 724.6,1349.8C723.5,1351.1 722.3,1352.3 720.6,1353.8C718.8,1355.4 715.5,1357.6 713.9,1359.2C712.2,1360.7 711.2,1362.5 710.7,1363.2L710.4,1363.2Z" fill="#b3b2c5"/>
<path d="M710.4,1280.3L710.7,1280.3C711,1282.1 711.6,1287.9 712.5,1291C713.5,1294.1 714.8,1296.5 716.5,1299C718.3,1301.4 721,1303.5 723.2,1305.7C725.5,1307.9 728.1,1310.1 729.9,1312.4C731.7,1314.6 733,1316.8 733.9,1319.1C734.8,1321.3 735.7,1323.7 735.3,1325.7C734.8,1327.7 732.8,1329.3 731.3,1331.1C729.7,1332.9 727.7,1334.7 725.9,1336.4C724.1,1338.2 721.9,1340 720.6,1341.8C719.2,1343.6 718.8,1345.1 717.9,1347.1C717,1349.1 716.2,1351.8 715.2,1353.8C714.2,1355.8 712.6,1357.8 711.9,1359.2C711.1,1360.5 710.9,1361.4 710.7,1361.8L710.4,1361.8Z" fill="#4c4c6a"/>
<path d="M710.4,1300.3L710.7,1300.3C711,1301.7 711.9,1305.9 712.5,1308.4C713.2,1310.8 714,1313 714.5,1315C715.1,1317 715.7,1318.6 715.9,1320.4C716.1,1322.2 716.2,1324 715.9,1325.7C715.5,1327.5 714.5,1329.1 713.9,1331.1C713.2,1333.1 712.3,1335.5 711.9,1337.8C711.4,1340 711.2,1342.2 711,1344.5C710.8,1346.7 710.7,1350 710.7,1351.1L710.4,1351.1Z" fill="#0b0b14"/>
<path d="M783.8,1098.8L783.8,1098.8C783.7,1099.6 783.4,1102.2 783.2,1103.9C783,1105.6 783,1107.4 782.7,1109C782.5,1110.5 782.7,1111.8 781.8,1113.2C780.9,1114.6 779.4,1116.1 777.4,1117.5C775.4,1118.9 772,1120.3 769.7,1121.7C767.5,1123.1 765.8,1124.6 763.8,1126C761.8,1127.4 759.7,1128.8 757.8,1130.2C756,1131.6 754.2,1133 752.7,1134.5C751.3,1135.9 750.1,1137.3 749.3,1138.7C748.6,1140.1 748.2,1141.5 748.1,1143C747.9,1144.4 747.9,1145.8 748.5,1147.2C749.1,1148.6 750.5,1150 751.9,1151.5C753.3,1152.9 755.2,1154.3 757,1155.7C758.8,1157.1 761,1158.5 762.9,1159.9C764.9,1161.4 766.6,1162.8 768.5,1164.2C770.3,1165.6 772.5,1167 774,1168.4C775.5,1169.9 776.4,1171.3 777.4,1172.7C778.4,1174.1 779.2,1175.7 779.9,1176.9C780.7,1178.2 781.5,1177.2 782.1,1180C782.6,1182.8 783,1188.8 783.2,1193.9C783.4,1199.1 783.1,1199.6 783.2,1210.9C783.3,1222.3 783.7,1253.4 783.8,1261.9L783.8,1261.9Z" fill="#b1e0c4"/>
<path d="M783.8,1113.2L783.7,1113.2C782.9,1113.9 780.7,1116.1 779.1,1117.5C777.5,1118.9 775.7,1120.3 774,1121.7C772.3,1123.1 770.6,1124.6 768.9,1126C767.2,1127.4 765.2,1128.8 763.8,1130.2C762.4,1131.6 761.3,1133 760.4,1134.5C759.5,1135.9 758.8,1137.3 758.3,1138.7C757.8,1140.1 757.4,1141.5 757.4,1143C757.4,1144.4 757.6,1145.8 758.3,1147.2C758.9,1148.6 760,1150 761.2,1151.5C762.4,1152.9 764.1,1154.3 765.5,1155.7C766.9,1157.1 768.3,1158.5 769.7,1159.9C771.2,1161.4 772.7,1162.8 774,1164.2C775.3,1165.6 776.4,1167 777.4,1168.4C778.4,1169.9 779,1171 779.9,1172.7C780.9,1174.4 782.3,1177.2 782.9,1178.6C783.5,1180.1 783.5,1180.8 783.7,1181.2L783.8,1181.2Z" fill="#4da767"/>
<path d="M783.8,1059.7L780.4,1059.7C780.4,1060.8 780.5,1063.9 780.5,1066.5C780.6,1069 780.7,1072.2 780.8,1075C780.9,1077.8 781,1080.7 781.2,1083.5C781.4,1086.3 781.7,1089.2 782.1,1092C782.4,1094.8 782.9,1098.2 783.2,1100.5C783.4,1102.7 783.7,1104.7 783.8,1105.6L783.8,1105.6Z" fill="#034413"/>
<path d="M783.8,1109L785.9,1109C786.2,1109.7 786.4,1111.8 787.6,1113.2C788.7,1114.6 790.7,1116.1 792.7,1117.5C794.7,1118.9 797.1,1120.3 799.5,1121.7C801.9,1123.1 804.7,1124.6 807.1,1126C809.5,1127.4 811.9,1128.8 813.9,1130.2C815.9,1131.6 818.4,1133 819,1134.5C819.6,1135.9 818.7,1137.3 817.3,1138.7C815.9,1140.1 812.9,1141.5 810.5,1143C808.1,1144.4 805.4,1145.8 802.9,1147.2C800.3,1148.6 797.3,1150 795.2,1151.5C793.1,1152.9 791.7,1154.3 790.1,1155.7C788.6,1157.1 786.9,1158.4 785.9,1159.9C784.9,1161.5 784.5,1164.2 784.2,1165L783.8,1165Z" fill="#cab4d8"/>
<path d="M783.8,1059.7L800.7,1059.7C800.6,1060.8 800.4,1063.9 799.9,1066.5C799.4,1069 798.7,1072.2 797.8,1075C796.9,1077.8 795.5,1080.7 794.4,1083.5C793.2,1086.3 792.1,1089.2 791,1092C789.8,1094.8 788.6,1097.6 787.6,1100.5C786.5,1103.3 785.2,1106.9 784.6,1109C784,1111.1 784.1,1112.5 784,1113.2L783.8,1113.2Z" fill="#7c539b"/>
<path d="M857.2,1219.8L857.2,1219.8C857,1225.6 856.5,1245.3 855.9,1254.8C855.3,1264.3 854.6,1271.6 853.7,1276.7C852.8,1281.8 852.2,1282.5 850.4,1285.4C848.6,1288.3 845.9,1291.2 842.8,1294.2C839.7,1297.1 834.8,1300 831.8,1302.9C828.9,1305.8 826.9,1308.7 825.3,1311.6C823.6,1314.6 821.3,1317.5 822,1320.4C822.7,1323.3 827.3,1326.2 829.7,1329.1C832,1332.1 835.1,1335.3 836.2,1337.9C837.3,1340.4 836.6,1342.3 836.2,1344.4C835.8,1346.6 832.9,1348.8 834,1351C835.1,1353.2 839.5,1355.4 842.8,1357.6C846.1,1359.8 851.3,1362.9 853.7,1364.1C856.1,1365.4 856.6,1365 857.2,1365.2L857.2,1365.2Z" fill="#b1e0c4"/>
<path d="M857.2,1232.9L857.2,1232.9C856.9,1238.4 856.2,1257.7 855.5,1265.7C854.7,1273.7 854,1277 852.6,1281C851.2,1285 849.5,1286.9 847.1,1289.8C844.8,1292.7 840.9,1295.6 838.4,1298.5C835.8,1301.4 833.5,1304.4 831.8,1307.3C830.2,1310.2 828.6,1313.1 828.6,1316C828.6,1318.9 830.2,1321.9 831.8,1324.8C833.5,1327.7 836.9,1330.6 838.4,1333.5C839.9,1336.4 840.4,1339.3 840.6,1342.3C840.8,1345.2 838.4,1348.5 839.5,1351C840.6,1353.6 844.4,1355.4 847.1,1357.6C849.9,1359.8 854.2,1362.9 855.9,1364.1C857.6,1365.4 857,1365 857.2,1365.2L857.2,1365.2Z" fill="#4da767"/>
<path d="M857.2,1265.7L857.2,1265.7C856.8,1269.4 855.7,1282.1 854.8,1287.6C853.9,1293.1 852.8,1294.9 851.5,1298.5C850.2,1302.2 848.2,1305.8 847.1,1309.5C846.1,1313.1 844.8,1317.1 845,1320.4C845.1,1323.7 847.1,1326.2 848.2,1329.1C849.3,1332.1 850.8,1335 851.5,1337.9C852.2,1340.8 852.2,1343.7 852.6,1346.6C853,1349.6 852.9,1352.5 853.7,1355.4C854.5,1358.3 856.6,1362.7 857.2,1364.1L857.2,1364.1Z" fill="#034413"/>
<path d="M857.2,1276.7L857.6,1276.7C858.4,1278.8 860.2,1285.8 862.5,1289.8C864.7,1293.8 869.4,1297.4 871.2,1300.7C873,1304 872.7,1306.2 873.4,1309.5C874.1,1312.7 874.8,1316.8 875.6,1320.4C876.3,1324 876.7,1327.7 877.8,1331.3C878.9,1335 880.1,1339 882.1,1342.3C884.1,1345.5 889.8,1348.5 889.8,1351C889.8,1353.6 885.2,1355.7 882.1,1357.6C879,1359.4 875.2,1360.7 871.2,1361.9C867.2,1363.2 860.3,1364.7 858.1,1365.2L857.2,1365.2Z" fill="#b3b2c5"/>
<path d="M857.2,1287.6L857.6,1287.6C858.4,1289.4 861.1,1294.9 862.5,1298.5C863.8,1302.2 864.8,1305.8 865.7,1309.5C866.6,1313.1 867,1316.8 867.9,1320.4C868.8,1324 869.9,1327.7 871.2,1331.3C872.5,1335 874.3,1339 875.6,1342.3C876.8,1345.5 879.2,1348.5 878.9,1351C878.5,1353.6 876.1,1355.6 873.4,1357.6C870.7,1359.6 865,1361.8 862.5,1363C859.9,1364.3 858.8,1364.9 858.1,1365.2L857.2,1365.2Z" fill="#4c4c6a"/>
<path d="M857.2,1320.4L857.6,1320.4C857.9,1323.3 858.7,1332.8 859.2,1337.9C859.6,1343 860.2,1347.7 860.3,1351C860.4,1354.3 860.2,1355.4 859.8,1357.6C859.5,1359.8 858.4,1363 858.1,1364.1L857.2,1364.1Z" fill="#0b0b14"/>
<path d="M930.6,1226.4L930.5,1226.4C930.3,1231.1 930.2,1246.4 929.8,1254.8C929.4,1263.2 929.1,1270.1 928.1,1276.7C927,1283.2 925.9,1289.1 923.7,1294.2C921.5,1299.3 917.8,1303.6 914.9,1307.3C912,1310.9 909.3,1313.1 906.2,1316C903.1,1318.9 897.8,1321.9 896.3,1324.8C894.9,1327.7 896.3,1331 897.4,1333.5C898.5,1336.1 902.4,1338.3 902.9,1340.1C903.5,1341.9 901.6,1342.6 900.7,1344.4C899.8,1346.3 896.2,1348.8 897.4,1351C898.7,1353.2 904,1355.4 908.4,1357.6C912.7,1359.8 920,1362.7 923.7,1364.1C927.4,1365.6 929.3,1366 930.5,1366.3L930.6,1366.3Z" fill="#b1e0c4"/>
<path d="M930.6,1243.9L930.5,1243.9C930.2,1249.3 929.7,1268.3 928.7,1276.7C927.8,1285 926.7,1289.1 924.8,1294.2C922.8,1299.3 919.7,1303.6 917.1,1307.3C914.6,1310.9 912,1313.1 909.5,1316C906.9,1318.9 903.1,1321.9 901.8,1324.8C900.5,1327.7 901.1,1330.6 901.8,1333.5C902.5,1336.4 905.8,1339.7 906.2,1342.3C906.5,1344.8 902.9,1346.6 904,1348.8C905.1,1351 909.5,1353.2 912.7,1355.4C916,1357.6 920.7,1360.3 923.7,1361.9C926.6,1363.6 929.3,1364.7 930.5,1365.2L930.6,1365.2Z" fill="#4da767"/>
<path d="M930.6,1265.7L930.5,1265.7C930.2,1269.4 929.9,1281.4 929.1,1287.6C928.4,1293.8 927,1298.2 925.9,1302.9C924.8,1307.6 923.5,1312 922.6,1316C921.7,1320 920.6,1323.3 920.4,1327C920.2,1330.6 921.1,1334.2 921.5,1337.9C921.9,1341.5 921.9,1345.5 922.6,1348.8C923.3,1352.1 924.6,1355 925.9,1357.6C927.2,1360.1 929.7,1363 930.5,1364.1L930.6,1364.1Z" fill="#034413"/>
<path d="M930.6,1228.6L931.1,1228.6C931.3,1230.4 930,1236.2 932.4,1239.5C934.8,1242.8 941.5,1245.7 945.5,1248.2C949.6,1250.8 953.2,1252.6 956.5,1254.8C959.8,1257 964.1,1259.5 965.2,1261.4C966.3,1263.2 965.6,1263.9 963,1265.7C960.5,1267.6 953.6,1269.7 949.9,1272.3C946.3,1274.8 943.7,1278.1 941.2,1281C938.6,1284 936.2,1286.9 934.6,1289.8C933,1292.7 932.1,1297.1 931.5,1298.5L930.6,1298.5Z" fill="#cab4d8"/>
<path d="M1004,1237.3L1003.9,1237.3C1003.8,1242 1003.8,1257.3 1003.4,1265.7C1002.9,1274.1 1002.4,1282.1 1001.3,1287.6C1000.2,1293.1 999.7,1295.2 996.9,1298.5C994.2,1301.8 988.7,1304.4 984.9,1307.3C981.1,1310.2 976.7,1313.5 974,1316C971.2,1318.6 968.5,1320.4 968.5,1322.6C968.5,1324.8 972.3,1326.6 974,1329.1C975.6,1331.7 977.4,1335.7 978.3,1337.9C979.3,1340.1 979.4,1340.4 979.4,1342.3C979.4,1344.1 976.7,1346.6 978.3,1348.8C980,1351 986,1353.2 989.3,1355.4C992.6,1357.6 995.6,1360.1 998,1361.9C1000.5,1363.8 1002.9,1365.6 1003.9,1366.3L1004,1366.3Z" fill="#b1e0c4"/>
<path d="M1004,1254.8L1003.9,1254.8C1003.6,1260.3 1002.9,1280.3 1002,1287.6C1001,1294.9 1000.5,1295.2 998,1298.5C995.5,1301.8 990.4,1304.4 987.1,1307.3C983.8,1310.2 980.3,1313.5 978.3,1316C976.3,1318.6 974.9,1320 975.1,1322.6C975.2,1325.1 978.2,1328.4 979.4,1331.3C980.7,1334.2 982.2,1337.5 982.7,1340.1C983.3,1342.6 981.3,1344.1 982.7,1346.6C984.2,1349.2 988.5,1352.8 991.5,1355.4C994.4,1357.9 998.1,1360.3 1000.2,1361.9C1002.3,1363.6 1003.3,1364.7 1003.9,1365.2L1004,1365.2Z" fill="#4da767"/>
<path d="M1004,1276.7L1003.9,1276.7C1003.7,1279.6 1003.4,1289.4 1002.4,1294.2C1001.4,1298.9 999.5,1301.4 998,1305.1C996.6,1308.7 994.6,1312.7 993.6,1316C992.7,1319.3 992.4,1321.9 992.6,1324.8C992.7,1327.7 994.2,1330.6 994.7,1333.5C995.3,1336.4 995.3,1339 995.8,1342.3C996.4,1345.5 997.1,1349.9 998,1353.2C998.9,1356.5 1000.3,1359.9 1001.3,1361.9C1002.3,1363.9 1003.5,1364.7 1003.9,1365.2L1004,1365.2Z" fill="#034413"/>
<path d="M1004,1246.1L1004.6,1246.1C1005.7,1247.5 1007.9,1252.2 1011.1,1254.8C1014.4,1257.3 1020.3,1259.2 1024.3,1261.4C1028.3,1263.5 1032.6,1265.7 1035.2,1267.9C1037.7,1270.1 1039.9,1272.3 1039.6,1274.5C1039.2,1276.7 1035.2,1278.8 1033,1281C1030.8,1283.2 1027.9,1285.8 1026.4,1287.6C1025,1289.4 1024.3,1290.5 1024.3,1292C1024.3,1293.4 1026.1,1294.9 1026.4,1296.3C1026.8,1297.8 1027.5,1299.3 1026.4,1300.7C1025.4,1302.2 1022.4,1303.6 1019.9,1305.1C1017.3,1306.5 1013.7,1308 1011.1,1309.5C1008.6,1310.9 1005.7,1313.1 1004.6,1313.8L1004,1313.8Z" fill="#cab4d8"/>
<path d="M1004,1257L1004.6,1257C1005.3,1258.1 1007.9,1261.4 1009,1263.5C1010,1265.7 1011,1267.9 1011.1,1270.1C1011.3,1272.3 1010.6,1274.5 1010,1276.7C1009.5,1278.8 1008.8,1281.4 1007.9,1283.2C1007,1285 1005.1,1286.9 1004.6,1287.6L1004,1287.6Z" fill="#7c539b"/>
<path d="M1120.2,1365.2L1120,1365.2C1117.7,1365.5 1111.8,1366.3 1106.2,1366.8C1100.7,1367.2 1087.3,1367.7 1086.6,1368.1C1085.8,1368.4 1096.3,1368.7 1101.9,1368.9C1107.4,1369.2 1117,1369.5 1120,1369.6L1120.2,1369.6Z" fill="#b1e0c4"/>
<path d="M1189.9,1342.3L1189.8,1342.3C1189,1343.4 1187.6,1347 1185,1348.8C1182.3,1350.6 1177.7,1351.9 1174,1353.2C1170.4,1354.5 1164.2,1355.6 1163.1,1356.5C1162,1357.4 1165.3,1357.8 1167.5,1358.7C1169.7,1359.6 1173.3,1360.8 1176.2,1361.9C1179.1,1363 1182.7,1364.3 1185,1365.2C1187.2,1366.1 1189,1367 1189.8,1367.4L1189.9,1367.4Z" fill="#b1e0c4"/>
<path d="M1189.9,1346.6L1189.8,1346.6C1188.6,1347.4 1185.8,1349.7 1182.8,1351C1179.8,1352.3 1174.6,1353.3 1171.8,1354.3C1169.1,1355.3 1166.4,1356.2 1166.4,1357.1C1166.4,1358 1169.5,1358.8 1171.8,1359.8C1174.2,1360.7 1177.7,1361.9 1180.6,1363C1183.5,1364.1 1187.8,1365.7 1189.3,1366.3C1190.8,1366.9 1189.7,1366.7 1189.8,1366.8L1189.9,1366.8Z" fill="#4da767"/>
<path d="M1189.9,1349.9L1189.8,1349.9C1188.8,1350.5 1185.2,1352.1 1183.9,1353.2C1182.5,1354.3 1181.9,1355.4 1181.7,1356.5C1181.5,1357.6 1182,1358.7 1182.8,1359.8C1183.5,1360.8 1184.9,1361.9 1186.1,1363C1187.2,1364.1 1189.1,1365.8 1189.8,1366.3L1189.9,1366.3Z" fill="#034413"/>
<path d="M1259.6,1200.1L1259.5,1200.1C1259.4,1207.4 1259.3,1232.9 1258.9,1243.9C1258.5,1254.8 1258,1259.5 1257.1,1265.7C1256.3,1271.9 1255.7,1277 1253.8,1281C1252,1285 1249.3,1286.9 1246.2,1289.8C1243.1,1292.7 1238.3,1296 1235.3,1298.5C1232.2,1301.1 1228.7,1303.3 1227.6,1305.1C1226.5,1306.9 1227.4,1307.6 1228.7,1309.5C1230,1311.3 1233.1,1313.5 1235.3,1316C1237.4,1318.6 1240,1321.9 1241.8,1324.8C1243.6,1327.7 1245.6,1331 1246.2,1333.5C1246.7,1336.1 1245.1,1337.9 1245.1,1340.1C1245.1,1342.3 1245.6,1344.1 1246.2,1346.6C1246.7,1349.2 1247.3,1352.8 1248.4,1355.4C1249.5,1357.9 1250.9,1360.1 1252.7,1361.9C1254.6,1363.8 1258.4,1365.6 1259.5,1366.3L1259.6,1366.3Z" fill="#b1e0c4"/>
<path d="M1259.6,1232.9L1259.5,1232.9C1259.2,1238.4 1258.3,1257.7 1257.6,1265.7C1256.8,1273.7 1256.5,1277 1254.9,1281C1253.4,1285 1251.1,1286.9 1248.4,1289.8C1245.6,1292.7 1240.9,1296 1238.5,1298.5C1236.2,1301.1 1234.7,1302.9 1234.2,1305.1C1233.6,1307.3 1234,1309.1 1235.3,1311.6C1236.5,1314.2 1239.8,1317.5 1241.8,1320.4C1243.8,1323.3 1246.2,1326.2 1247.3,1329.1C1248.4,1332.1 1248,1335 1248.4,1337.9C1248.7,1340.8 1249.1,1343.7 1249.5,1346.6C1249.8,1349.6 1249.6,1352.8 1250.6,1355.4C1251.5,1357.9 1253.4,1360.3 1254.9,1361.9C1256.4,1363.6 1258.8,1364.7 1259.5,1365.2L1259.6,1365.2Z" fill="#4da767"/>
<path d="M1259.6,1254.8L1259.5,1254.8C1259.3,1258.4 1259.2,1270.8 1258.2,1276.7C1257.3,1282.5 1255.1,1286.1 1253.8,1289.8C1252.6,1293.4 1251.3,1295.6 1250.6,1298.5C1249.8,1301.4 1249.5,1304.4 1249.5,1307.3C1249.5,1310.2 1249.8,1313.1 1250.6,1316C1251.3,1318.9 1253.1,1321.1 1253.8,1324.8C1254.6,1328.4 1254.6,1333.5 1254.9,1337.9C1255.3,1342.3 1255.7,1347.4 1256,1351C1256.4,1354.7 1256.5,1357.6 1257.1,1359.8C1257.7,1361.9 1259.1,1363.4 1259.5,1364.1L1259.6,1364.1Z" fill="#034413"/>
<path d="M1259.6,1285.4L1260,1285.4C1260.9,1286.9 1263.1,1291.2 1265.9,1294.2C1268.7,1297.1 1273.2,1300.4 1276.8,1302.9C1280.4,1305.5 1285,1307.6 1287.7,1309.5C1290.5,1311.3 1293.2,1312.4 1293.2,1313.8C1293.2,1315.3 1290.5,1316.4 1287.7,1318.2C1285,1320 1279.7,1322.2 1276.8,1324.8C1273.9,1327.3 1272.1,1330.6 1270.2,1333.5C1268.4,1336.4 1267,1339.3 1265.9,1342.3C1264.8,1345.2 1264.4,1348.1 1263.7,1351C1262.9,1353.9 1262.1,1357.6 1261.5,1359.8C1260.9,1361.9 1260.2,1363.4 1260,1364.1L1259.6,1364.1Z" fill="#e2c5c8"/>
<path d="M1259.6,1294.2L1260,1294.2C1260.9,1295.2 1263.4,1298.5 1265.9,1300.7C1268.3,1302.9 1271.7,1305.3 1274.6,1307.3C1277.5,1309.3 1282.4,1311.1 1283.4,1312.7C1284.3,1314.4 1281.9,1315.5 1280.1,1317.1C1278.3,1318.8 1274.6,1320.2 1272.4,1322.6C1270.2,1325 1268.4,1328.4 1267,1331.3C1265.5,1334.2 1264.5,1337.2 1263.7,1340.1C1262.8,1343 1262.5,1345.9 1261.9,1348.8C1261.4,1351.7 1260.7,1355.7 1260.4,1357.6C1260.1,1359.4 1260,1359.4 1260,1359.8L1259.6,1359.8Z" fill="#aa716f"/>
<path d="M1259.6,1307.3L1260,1307.3C1260.4,1308 1261.8,1310.2 1262.6,1311.6C1263.4,1313.1 1264.6,1314.6 1264.8,1316C1265,1317.5 1264.2,1318.9 1263.7,1320.4C1263.1,1321.9 1262.1,1323.3 1261.5,1324.8C1260.9,1326.2 1260.2,1328.4 1260,1329.1L1259.6,1329.1Z" fill="#4a1212"/>
<path d="M1329.3,1191.4L1329.1,1191.4C1329,1202 1328.8,1240.6 1328.5,1254.8C1328.2,1269 1328.1,1271.2 1327.2,1276.7C1326.2,1282.1 1325.4,1284.7 1322.8,1287.6C1320.2,1290.5 1315.1,1292.3 1311.9,1294.2C1308.6,1296 1305.3,1297.1 1303.1,1298.5C1300.9,1300 1299.3,1301.1 1298.7,1302.9C1298.2,1304.7 1300,1307.6 1299.8,1309.5C1299.7,1311.3 1297.1,1312 1297.7,1313.8C1298.2,1315.7 1301.3,1318.2 1303.1,1320.4C1304.9,1322.6 1307.1,1324.8 1308.6,1327C1310,1329.1 1311.1,1331.3 1311.9,1333.5C1312.6,1335.7 1313,1337.9 1313,1340.1C1313,1342.3 1312,1344.4 1311.9,1346.6C1311.7,1348.8 1312,1351 1311.9,1353.2C1311.7,1355.4 1310,1357.9 1310.8,1359.8C1311.5,1361.6 1313.2,1363 1316.2,1364.1C1319.3,1365.2 1327,1366 1329.1,1366.3L1329.3,1366.3Z" fill="#b1e0c4"/>
<path d="M1329.3,1232.9L1329.1,1232.9C1328.9,1240.2 1328.5,1267.6 1327.6,1276.7C1326.7,1285.8 1326.2,1284.7 1323.9,1287.6C1321.6,1290.5 1317,1292.3 1314.1,1294.2C1311.1,1296 1308,1296.7 1306.4,1298.5C1304.8,1300.4 1304.6,1302.9 1304.2,1305.1C1303.8,1307.3 1303.7,1309.5 1304.2,1311.6C1304.8,1313.8 1306.2,1316 1307.5,1318.2C1308.8,1320.4 1310.7,1322.2 1311.9,1324.8C1313,1327.3 1313.9,1330.6 1314.5,1333.5C1315,1336.4 1315,1339.3 1315.1,1342.3C1315.3,1345.2 1315.3,1348.5 1315.1,1351C1315,1353.6 1313.5,1355.6 1314.1,1357.6C1314.6,1359.6 1315.9,1361.8 1318.4,1363C1320.9,1364.3 1327.4,1364.9 1329.1,1365.2L1329.3,1365.2Z" fill="#4da767"/>
<path d="M1329.3,1276.7L1329.1,1276.7C1328.8,1278.5 1328.2,1284.3 1327.2,1287.6C1326.1,1290.9 1323.9,1293.8 1322.8,1296.3C1321.7,1298.9 1321,1300.7 1320.6,1302.9C1320.2,1305.1 1321,1307.6 1320.6,1309.5C1320.2,1311.3 1318.2,1312 1318.4,1313.8C1318.6,1315.7 1320.8,1317.8 1321.7,1320.4C1322.6,1322.9 1323.5,1325.9 1323.9,1329.1C1324.3,1332.4 1324.1,1336.4 1323.9,1340.1C1323.7,1343.7 1322.8,1347.7 1322.8,1351C1322.8,1354.3 1322.8,1357.4 1323.9,1359.8C1324.9,1362.1 1328.3,1364.3 1329.1,1365.2L1329.3,1365.2Z" fill="#034413"/>
<path d="M1329.3,1342.3L1329.6,1342.3C1331,1343.4 1334.5,1347 1338.1,1348.8C1341.7,1350.6 1347.6,1351.7 1351.2,1353.2C1354.9,1354.7 1359.2,1356.3 1360,1357.6C1360.7,1358.8 1358.5,1359.8 1355.6,1360.8C1352.7,1361.9 1346.8,1363.2 1342.5,1364.1C1338.1,1365 1331.7,1366 1329.6,1366.3L1329.3,1366.3Z" fill="#e2c5c8"/>
<path d="M1329.3,1351L1329.6,1351C1330.6,1351.7 1333.6,1354.1 1335.9,1355.4C1338.3,1356.7 1342.8,1357.6 1343.6,1358.7C1344.3,1359.8 1342.6,1360.8 1340.3,1361.9C1338,1363 1331.4,1364.7 1329.6,1365.2L1329.3,1365.2Z" fill="#aa716f"/>
<path d="M1329.3,1357.6L1329.6,1357.6C1330.1,1358.1 1332.3,1359.8 1332.6,1360.8C1333,1361.9 1331.7,1363.6 1331.5,1364.1L1329.3,1364.1Z" fill="#4a1212"/>
<path d="M1399,1059.1L1396.3,1059.1C1396.2,1066.2 1396.5,1087.3 1396.1,1101.7C1395.7,1116.1 1394.7,1134.5 1393.9,1145.5C1393,1156.4 1391.9,1160 1391,1167.3C1390.1,1174.6 1389,1181.9 1388.4,1189.2C1387.8,1196.5 1387.4,1203.8 1387.3,1211.1C1387.2,1218.4 1388.1,1225.6 1388,1232.9C1387.8,1240.2 1386.9,1249.3 1386.2,1254.8C1385.6,1260.3 1384.4,1262.1 1384,1265.7C1383.7,1269.4 1383.7,1271.2 1384,1276.7C1384.4,1282.1 1385.8,1291.2 1386.2,1298.5C1386.6,1305.8 1386.6,1313.8 1386.2,1320.4C1385.8,1327 1386.8,1333.2 1384,1337.9C1381.3,1342.6 1372.5,1345.9 1369.8,1348.8C1367.1,1351.7 1366.3,1353.2 1367.6,1355.4C1368.9,1357.6 1372.3,1360.1 1377.5,1361.9C1382.7,1363.8 1395.3,1365.6 1398.9,1366.3L1399,1366.3Z" fill="#b1e0c4"/>
<path d="M1399,1059.1L1397.1,1059.1C1397,1069.8 1396.6,1107.4 1396.1,1123.6C1395.5,1139.8 1394.6,1147.3 1393.9,1156.4C1393.1,1165.5 1392.2,1171 1391.7,1178.3C1391.1,1185.6 1390.8,1192.8 1390.6,1200.1C1390.4,1207.4 1390.6,1214.7 1390.6,1222C1390.6,1229.3 1390.9,1236.6 1390.6,1243.9C1390.2,1251.2 1388.6,1258.4 1388.4,1265.7C1388.2,1273 1389.1,1280.3 1389.5,1287.6C1389.9,1294.9 1391,1302.2 1391,1309.5C1391,1316.8 1391,1325.9 1389.5,1331.3C1388,1336.8 1384.4,1339 1381.8,1342.3C1379.3,1345.5 1375.3,1348.5 1374.2,1351C1373.1,1353.6 1373.3,1355.6 1375.3,1357.6C1377.3,1359.6 1382.3,1361.6 1386.2,1363C1390.1,1364.5 1396.8,1365.8 1398.9,1366.3L1399,1366.3Z" fill="#4da767"/>
<path d="M1399,1059.1L1398.5,1059.1C1398.3,1077.1 1398.1,1142 1397.8,1167.3C1397.5,1192.7 1397.1,1198.3 1396.7,1211.1C1396.3,1223.8 1395.7,1232.9 1395.4,1243.9C1395.1,1254.8 1395,1265.7 1395,1276.7C1395,1287.6 1395.4,1300.4 1395.4,1309.5C1395.4,1318.6 1395.7,1325.9 1395,1331.3C1394.2,1336.8 1391.9,1339 1391,1342.3C1390.1,1345.5 1389.2,1348.1 1389.5,1351C1389.8,1353.9 1391.2,1357.4 1392.8,1359.8C1394.3,1362.1 1397.9,1364.3 1398.9,1365.2L1399,1365.2Z" fill="#034413"/>
<path d="M1399,1290L1399.2,1290C1399.3,1291.7 1399.5,1295.6 1399.8,1300C1400.1,1304.4 1400.2,1311 1401.3,1316.3C1402.4,1321.6 1404.1,1327.5 1406.2,1332C1408.3,1336.5 1410.7,1339.9 1414.1,1343.3C1417.5,1346.7 1423.6,1349.9 1426.4,1352.3C1429.2,1354.7 1431.3,1356.2 1430.9,1357.9C1430.5,1359.6 1427.6,1361.1 1424.2,1362.4C1420.8,1363.7 1414.5,1364.7 1410.7,1365.7C1407,1366.7 1403.6,1367.9 1401.7,1368.5C1399.8,1369.1 1399.9,1369.3 1399.5,1369.5L1399,1369.5Z" fill="#e2c5c8"/>
<path d="M1399,1330L1399.3,1330C1399.4,1330.7 1399.1,1331.7 1399.9,1334.3C1400.7,1336.9 1402.2,1342.1 1404,1345.5C1405.8,1348.9 1409.2,1352.2 1410.7,1354.5C1412.2,1356.8 1413.8,1357.5 1413,1359C1412.2,1360.5 1408.3,1362.2 1406.2,1363.5C1404.1,1364.8 1401.8,1366.2 1400.6,1366.9C1399.4,1367.7 1399.5,1367.8 1399.3,1368L1399,1368Z" fill="#aa716f"/>
<path d="M1468.7,1106.1L1468.4,1106.1C1468,1112.7 1466.6,1131.6 1466,1145.5C1465.4,1159.3 1465.5,1174.6 1464.9,1189.2C1464.4,1203.8 1463.5,1222 1462.7,1232.9C1462,1243.9 1461.7,1249.3 1460.6,1254.8C1459.5,1260.3 1458.4,1262.1 1456.2,1265.7C1454,1269.4 1450.4,1273.4 1447.4,1276.7C1444.5,1279.9 1440.5,1283.2 1438.7,1285.4C1436.9,1287.6 1435.8,1288.3 1436.5,1289.8C1437.2,1291.2 1440.3,1292 1443.1,1294.2C1445.8,1296.3 1450.7,1300 1452.9,1302.9C1455.1,1305.8 1455.8,1308.7 1456.2,1311.6C1456.5,1314.6 1455.5,1316.8 1455.1,1320.4C1454.7,1324 1455.6,1329.9 1454,1333.5C1452.4,1337.2 1446,1339.7 1445.3,1342.3C1444.5,1344.8 1447.1,1346.3 1449.6,1348.8C1452.2,1351.4 1457.6,1355 1460.6,1357.6C1463.5,1360.1 1465.8,1362.7 1467.1,1364.1C1468.4,1365.6 1468.2,1366 1468.4,1366.3L1468.7,1366.3Z" fill="#b1e0c4"/>
<path d="M1468.7,1123.6L1468.4,1123.6C1468.2,1130.9 1467.6,1152.8 1467.1,1167.3C1466.6,1181.9 1466.1,1198.3 1465.6,1211.1C1465,1223.8 1464.9,1234.8 1463.8,1243.9C1462.8,1253 1461.3,1260.3 1459.5,1265.7C1457.6,1271.2 1455.5,1273.4 1452.9,1276.7C1450.4,1279.9 1446,1283.2 1444.2,1285.4C1442.3,1287.6 1441.4,1288 1442,1289.8C1442.5,1291.6 1445.1,1293.8 1447.4,1296.3C1449.8,1298.9 1454.2,1301.8 1456.2,1305.1C1458.2,1308.4 1459.1,1312 1459.5,1316C1459.8,1320 1459.8,1325.1 1458.4,1329.1C1456.9,1333.2 1451.8,1337.2 1450.7,1340.1C1449.6,1343 1450,1344.1 1451.8,1346.6C1453.6,1349.2 1458.9,1352.6 1461.7,1355.4C1464.4,1358.1 1467.1,1361.8 1468.2,1363L1468.7,1363Z" fill="#4da767"/>
<path d="M1468.7,1189.2L1468.4,1189.2C1468.3,1196.5 1468,1220.2 1467.6,1232.9C1467.2,1245.7 1466.6,1257.7 1466,1265.7C1465.4,1273.7 1465.1,1277 1463.8,1281C1462.6,1285 1458.9,1287.2 1458.4,1289.8C1457.8,1292.3 1459.6,1293.1 1460.6,1296.3C1461.5,1299.6 1463.3,1303.6 1463.8,1309.5C1464.4,1315.3 1464,1325.1 1463.8,1331.3C1463.7,1337.5 1462.6,1342.3 1462.7,1346.6C1462.9,1351 1464,1354.7 1464.9,1357.6C1465.9,1360.5 1467.8,1363 1468.4,1364.1L1468.7,1364.1Z" fill="#034413"/>
<path d="M1468.7,1351L1468.9,1351C1470,1351.7 1473.6,1354.1 1475.9,1355.4C1478.1,1356.7 1479.9,1357.8 1482.4,1358.7C1485,1359.6 1491.2,1360.1 1491.2,1360.8C1491.2,1361.6 1485.3,1362.3 1482.4,1363C1479.5,1363.8 1475.9,1364.7 1473.7,1365.2C1471.4,1365.8 1469.7,1366.1 1468.9,1366.3L1468.7,1366.3Z" fill="#e2c5c8"/>
<path d="M1468.7,1353.2L1468.9,1353.2C1469.7,1353.7 1472.1,1355.4 1473.7,1356.5C1475.2,1357.6 1476.8,1358.8 1478.1,1359.8C1479.3,1360.7 1481.7,1361.2 1481.3,1361.9C1481,1362.7 1477.9,1363.5 1475.9,1364.1C1473.8,1364.8 1470,1365.6 1468.9,1365.9L1468.7,1365.9Z" fill="#aa716f"/>
<path d="M1468.7,1357.6L1468.9,1357.6C1469.3,1358.1 1471.2,1359.8 1471.5,1360.8C1471.7,1361.9 1470.6,1363.6 1470.4,1364.1L1468.7,1364.1Z" fill="#4a1212"/>
<path d="M1538.3,1059.1L1523,1059.1C1522.6,1061.1 1521.7,1066.9 1520.8,1071.1C1519.9,1075.3 1518.8,1079.1 1517.5,1084.2C1516.2,1089.3 1514.8,1096.6 1513.1,1101.7C1511.5,1106.8 1509.1,1110.8 1507.7,1114.9C1506.2,1118.9 1504.9,1122.5 1504.4,1125.8C1503.8,1129.1 1503.6,1131.3 1504.4,1134.5C1505.1,1137.8 1506.9,1141.5 1508.7,1145.5C1510.6,1149.5 1513.1,1154.2 1515.3,1158.6C1517.5,1163 1519.9,1167.3 1521.9,1171.7C1523.9,1176.1 1525.7,1180.5 1527.3,1184.8C1529,1189.2 1530.4,1193.6 1531.7,1197.9C1533,1202.3 1534.1,1205.2 1535,1211.1C1535.9,1216.9 1536.7,1222 1537.2,1232.9C1537.6,1243.9 1537.6,1255.9 1537.7,1276.7C1537.9,1297.4 1538.2,1344.1 1538.3,1357.6L1538.3,1357.6Z" fill="#b1e0c4"/>
<path d="M1538.3,1059.1L1525.1,1059.1C1524.9,1061.1 1524.5,1066.9 1523.6,1071.1C1522.8,1075.3 1521.4,1079.1 1520.1,1084.2C1518.8,1089.3 1517.3,1096.6 1515.7,1101.7C1514.2,1106.8 1512.1,1110.8 1510.9,1114.9C1509.8,1118.9 1509,1122.5 1508.7,1125.8C1508.5,1129.1 1508.5,1131.3 1509.2,1134.5C1509.9,1137.8 1511.4,1141.5 1513.1,1145.5C1514.9,1149.5 1517.7,1154.2 1519.7,1158.6C1521.7,1163 1523.5,1167.3 1525.1,1171.7C1526.8,1176.1 1528.2,1180.5 1529.5,1184.8C1530.9,1189.2 1532.1,1193.6 1533.2,1197.9C1534.3,1202.3 1535.4,1205.2 1536.1,1211.1C1536.8,1216.9 1537.2,1227.5 1537.6,1232.9C1538,1238.4 1538.2,1242 1538.3,1243.9L1538.3,1243.9Z" fill="#4da767"/>
<path d="M1538.3,1059.1L1532.8,1059.1C1532.7,1062.6 1532.8,1072.8 1532.4,1079.9C1531.9,1087 1530.9,1094.4 1530.2,1101.7C1529.4,1109 1528.3,1118.1 1528,1123.6C1527.7,1129.1 1528,1130.9 1528.4,1134.5C1528.9,1138.2 1529.7,1141.8 1530.6,1145.5C1531.5,1149.1 1533,1152.8 1533.9,1156.4C1534.8,1160 1535.5,1163.7 1536.1,1167.3C1536.7,1171 1537.2,1174.6 1537.6,1178.3C1538,1181.9 1538.2,1187.4 1538.3,1189.2L1538.3,1189.2Z" fill="#034413"/>
<path d="M1608,1059.1L1581.3,1059.1C1581.6,1061.8 1581.8,1070.2 1582.7,1075.5C1583.5,1080.8 1584.8,1085.7 1586.4,1090.8C1587.9,1095.9 1590.6,1101 1591.8,1106.1C1593.1,1111.2 1593.8,1116.7 1594,1121.4C1594.2,1126.1 1593.7,1129.8 1592.9,1134.5C1592.2,1139.3 1590.4,1145.1 1589.7,1149.8C1588.9,1154.6 1588.6,1158.9 1588.6,1163C1588.6,1167 1588.4,1169.5 1589.7,1173.9C1590.9,1178.3 1594.4,1184.8 1596.2,1189.2C1598,1193.6 1599.5,1196.5 1600.6,1200.1C1601.7,1203.8 1601.9,1205.6 1602.8,1211.1C1603.7,1216.5 1605.3,1225.6 1606.1,1232.9C1606.8,1240.2 1607,1247.5 1607.1,1254.8C1607.3,1262.1 1607.2,1269.4 1607.1,1276.7C1607.1,1284 1607.1,1291.2 1606.7,1298.5C1606.3,1305.8 1605.1,1314.9 1605,1320.4C1604.8,1325.9 1605.5,1324.4 1606.1,1331.3C1606.6,1338.3 1607.7,1356.8 1608,1361.9L1608,1361.9Z" fill="#b1e0c4"/>
<path d="M1608,1059.1L1584.2,1059.1C1584.4,1061.8 1584.5,1070.2 1585.3,1075.5C1586,1080.8 1587.1,1085.7 1588.6,1090.8C1590,1095.9 1592.7,1101 1594,1106.1C1595.3,1111.2 1596,1116.7 1596.2,1121.4C1596.4,1126.1 1595.7,1129.8 1595.1,1134.5C1594.6,1139.3 1593.5,1145.1 1592.9,1149.8C1592.4,1154.6 1591.8,1158.9 1591.8,1163C1591.8,1167 1591.8,1169.5 1592.9,1173.9C1594,1178.3 1596.8,1184.8 1598.4,1189.2C1600,1193.6 1601.3,1196.5 1602.3,1200.1C1603.4,1203.8 1603.8,1205.6 1604.5,1211.1C1605.2,1216.5 1606.2,1225.6 1606.7,1232.9C1607.2,1240.2 1607.2,1249.3 1607.4,1254.8C1607.6,1260.3 1607.9,1263.9 1608,1265.7L1608,1265.7Z" fill="#4da767"/>
<path d="M1608,1059.1L1597.3,1059.1C1597.4,1062.6 1597.4,1072.8 1598,1079.9C1598.5,1087 1599.6,1094.4 1600.6,1101.7C1601.6,1109 1603,1116.3 1603.9,1123.6C1604.8,1130.9 1605.5,1138.2 1606.1,1145.5C1606.6,1152.8 1606.9,1160 1607.1,1167.3C1607.4,1174.6 1607.3,1183.7 1607.4,1189.2C1607.6,1194.7 1607.9,1198.3 1608,1200.1L1608,1200.1Z" fill="#034413"/>
<path d="M1608,1331.3L1608.5,1331.3C1609.3,1332.8 1611.4,1337.5 1613.7,1340.1C1616,1342.6 1619.2,1344.6 1622.5,1346.6C1625.7,1348.6 1630.5,1350.6 1633.4,1352.1C1636.3,1353.6 1640.3,1354.3 1639.9,1355.4C1639.6,1356.5 1634.8,1357.6 1631.2,1358.7C1627.6,1359.8 1621.9,1361 1618.1,1361.9C1614.3,1362.9 1610.1,1363.8 1608.5,1364.1L1608,1364.1Z" fill="#e2c5c8"/>
<path d="M1677.7,1059.1L1670.6,1059.1C1670.4,1062.6 1670,1072.8 1669.5,1079.9C1668.9,1087 1668.4,1095.2 1667.3,1101.7C1666.2,1108.3 1664.7,1114.5 1662.9,1119.2C1661.1,1124 1657.3,1127.2 1656.3,1130.2C1655.4,1133.1 1656.5,1134.5 1657.4,1136.7C1658.3,1138.9 1661.4,1141.1 1661.8,1143.3C1662.2,1145.5 1661.1,1147.3 1659.6,1149.8C1658.2,1152.4 1655.3,1155.7 1653.1,1158.6C1650.9,1161.5 1648,1164.4 1646.5,1167.3C1645,1170.2 1644,1173.2 1644.3,1176.1C1644.7,1179 1646.5,1181.9 1648.7,1184.8C1650.9,1187.7 1654.9,1190.7 1657.4,1193.6C1660,1196.5 1662.5,1199.4 1664,1202.3C1665.5,1205.2 1665.3,1207.8 1666.2,1211.1C1667.1,1214.3 1668.4,1216.5 1669.5,1222C1670.6,1227.5 1672,1236.6 1672.7,1243.9C1673.5,1251.2 1673.7,1258.4 1673.8,1265.7C1674,1273 1673.7,1280.3 1673.8,1287.6C1674,1294.9 1674.6,1302.2 1674.9,1309.5C1675.3,1316.8 1676,1325.9 1676,1331.3C1676,1336.8 1675.5,1339.3 1674.9,1342.3C1674.4,1345.2 1672.3,1347.5 1672.7,1348.8C1673.2,1350.1 1676.8,1349.7 1677.6,1349.9L1677.7,1349.9Z" fill="#b1e0c4"/>
<path d="M1677.7,1059.1L1671.7,1059.1C1671.5,1062.6 1671,1072.8 1670.6,1079.9C1670.1,1087 1669.7,1095.2 1668.8,1101.7C1667.9,1108.3 1666.4,1114.5 1665.1,1119.2C1663.7,1124 1661.3,1127.2 1660.7,1130.2C1660.1,1133.1 1660.9,1134.5 1661.4,1136.7C1661.8,1138.9 1663.5,1141.1 1663.6,1143.3C1663.6,1145.5 1663,1147.3 1661.8,1149.8C1660.6,1152.4 1658.2,1155.7 1656.3,1158.6C1654.5,1161.5 1652,1164.4 1650.9,1167.3C1649.8,1170.2 1649.4,1173.2 1649.8,1176.1C1650.1,1179 1651.2,1181.9 1653.1,1184.8C1654.9,1187.7 1658.3,1190.7 1660.7,1193.6C1663.1,1196.5 1665.8,1199.4 1667.3,1202.3C1668.7,1205.2 1668.6,1206 1669.5,1211.1C1670.4,1216.2 1671.8,1223.8 1672.7,1232.9C1673.7,1242 1674.4,1253 1674.9,1265.7C1675.5,1278.5 1675.8,1296.7 1676,1309.5C1676.2,1322.2 1676.2,1335.7 1676,1342.3C1675.8,1348.8 1675.1,1347.7 1674.9,1348.8L1677.7,1348.8Z" fill="#4da767"/>
<path d="M1677.7,1059.1L1676,1059.1C1675.9,1066.2 1675.5,1091 1675.4,1101.7C1675.2,1112.5 1675.2,1116.3 1674.9,1123.6C1674.7,1130.9 1674.4,1140 1673.8,1145.5C1673.3,1150.9 1672.6,1152.8 1671.7,1156.4C1670.7,1160 1669.1,1163.7 1668.4,1167.3C1667.6,1171 1667.1,1174.6 1667.3,1178.3C1667.5,1181.9 1668.6,1185.6 1669.5,1189.2C1670.4,1192.8 1671.8,1196.5 1672.7,1200.1C1673.7,1203.8 1674.3,1205.6 1674.9,1211.1C1675.6,1216.5 1676.3,1222 1676.7,1232.9C1677,1243.9 1677,1257.2 1677.1,1276.7C1677.3,1296.2 1677.5,1337.7 1677.6,1349.9L1677.7,1349.9Z" fill="#034413"/>
<path d="M1747.4,1059.1L1746.1,1059.1C1746,1062.6 1745.8,1072.8 1745.4,1079.9C1745.1,1087 1744.9,1094.4 1743.9,1101.7C1742.9,1109 1741.5,1116.3 1739.5,1123.6C1737.5,1130.9 1733.9,1138.9 1731.9,1145.5C1729.9,1152 1728.6,1157.5 1727.5,1163C1726.4,1168.4 1725.5,1173.2 1725.3,1178.3C1725.1,1183.4 1726.8,1189.6 1726.4,1193.6C1726,1197.6 1724.4,1199.4 1723.1,1202.3C1721.8,1205.2 1718.4,1208.1 1718.7,1211.1C1719.1,1214 1722.9,1216.2 1725.3,1219.8C1727.7,1223.5 1731.3,1228.9 1733,1232.9C1734.6,1236.9 1735.3,1240.2 1735.1,1243.9C1735,1247.5 1732.6,1251.2 1731.9,1254.8C1731.1,1258.4 1730.8,1262.1 1730.8,1265.7C1730.8,1269.4 1731.9,1271.2 1731.9,1276.7C1731.9,1282.1 1731.3,1291.2 1730.8,1298.5C1730.2,1305.8 1729.3,1313.8 1728.6,1320.4C1727.9,1327 1728,1333.5 1726.4,1337.9C1724.8,1342.3 1719.8,1344.1 1718.7,1346.6C1717.7,1349.2 1717.7,1351 1719.8,1353.2C1722,1355.4 1727.3,1357.8 1731.9,1359.8C1736.4,1361.8 1744.6,1364.3 1747.2,1365.2L1747.4,1365.2Z" fill="#b1e0c4"/>
<path d="M1747.4,1059.1L1746.7,1059.1C1746.6,1062.6 1746.4,1072.8 1746.1,1079.9C1745.8,1087 1745.9,1094.4 1745,1101.7C1744.1,1109 1742.4,1116.3 1740.6,1123.6C1738.8,1130.9 1735.9,1138.9 1734.1,1145.5C1732.2,1152 1730.7,1157.5 1729.7,1163C1728.7,1168.4 1728,1173.2 1727.9,1178.3C1727.9,1183.4 1729.6,1189.6 1729.2,1193.6C1728.9,1197.6 1727.1,1199.4 1725.7,1202.3C1724.4,1205.2 1721.1,1208.1 1721.4,1211.1C1721.7,1214 1725.3,1216.2 1727.5,1219.8C1729.7,1223.5 1733,1228.9 1734.5,1232.9C1735.9,1236.9 1736.4,1240.2 1736.2,1243.9C1736.1,1247.5 1734.1,1249.3 1733.6,1254.8C1733.2,1260.3 1733.7,1269.4 1733.6,1276.7C1733.5,1284 1733.4,1291.2 1733,1298.5C1732.5,1305.8 1731.5,1313.8 1730.8,1320.4C1730,1327 1729.9,1333.5 1728.6,1337.9C1727.3,1342.3 1724,1344.1 1723.1,1346.6C1722.3,1349.2 1721.4,1350.6 1723.6,1353.2C1725.7,1355.7 1732.3,1359.9 1736.2,1361.9C1740.2,1363.9 1745.4,1364.7 1747.2,1365.2L1747.4,1365.2Z" fill="#4da767"/>
<path d="M1747.4,1123.6L1747.4,1123.6C1747,1127.2 1745.8,1138.2 1745,1145.5C1744.2,1152.8 1743.5,1160 1742.8,1167.3C1742.1,1174.6 1741.3,1183.4 1740.6,1189.2C1739.9,1195 1739,1198.7 1738.4,1202.3C1737.9,1206 1737.2,1207.8 1737.3,1211.1C1737.5,1214.3 1738.6,1218.4 1739.5,1222C1740.4,1225.6 1742,1227.5 1742.8,1232.9C1743.6,1238.4 1744.4,1247.5 1744.5,1254.8C1744.7,1262.1 1744.2,1269.4 1743.9,1276.7C1743.6,1284 1743.1,1291.2 1742.8,1298.5C1742.5,1305.8 1742.4,1313.1 1742.4,1320.4C1742.4,1327.7 1742.4,1335.7 1742.8,1342.3C1743.2,1348.8 1744.2,1355.9 1745,1359.8C1745.8,1363.6 1747,1364.3 1747.4,1365.2L1747.4,1365.2Z" fill="#034413"/>
<path d="M1817.1,1059.1L1783.3,1059.1C1783.6,1061.8 1784.3,1070.2 1785.4,1075.5C1786.5,1080.8 1788.5,1086.4 1789.8,1090.8C1791.1,1095.2 1792.4,1097.7 1793.1,1101.7C1793.8,1105.7 1794.5,1110.1 1794.2,1114.9C1793.8,1119.6 1791.3,1125.1 1790.9,1130.2C1790.5,1135.3 1791.3,1141.1 1792,1145.5C1792.7,1149.8 1794,1152.8 1795.3,1156.4C1796.6,1160 1797.8,1163.7 1799.7,1167.3C1801.5,1171 1804.4,1174.6 1806.2,1178.3C1808,1181.9 1809.5,1185.6 1810.6,1189.2C1811.7,1192.8 1812.1,1196.5 1812.8,1200.1C1813.4,1203.8 1814.2,1205.6 1814.5,1211.1C1814.9,1216.5 1815.1,1225.6 1815,1232.9C1814.8,1240.2 1813.9,1247.5 1813.9,1254.8C1813.9,1262.1 1814.6,1269.4 1815,1276.7C1815.3,1284 1816.1,1291.2 1816.1,1298.5C1816,1305.8 1814.9,1314.9 1814.5,1320.4C1814.2,1325.9 1813.6,1327.7 1813.9,1331.3C1814.1,1335 1815.5,1337.2 1816.1,1342.3C1816.6,1347.4 1816.9,1358.7 1817.1,1361.9L1817.1,1361.9Z" fill="#b1e0c4"/>
<path d="M1817.1,1059.1L1788.7,1059.1C1788.9,1061.8 1789.1,1070.2 1789.8,1075.5C1790.5,1080.8 1792,1086.4 1793.1,1090.8C1794.2,1095.2 1795.6,1097.7 1796.4,1101.7C1797.1,1105.7 1797.6,1110.1 1797.5,1114.9C1797.3,1119.6 1795.5,1125.1 1795.3,1130.2C1795.1,1135.3 1795.8,1141.1 1796.4,1145.5C1796.9,1149.8 1797.5,1152.8 1798.6,1156.4C1799.7,1160 1801.3,1163.7 1802.9,1167.3C1804.6,1171 1806.8,1174.6 1808.4,1178.3C1810,1181.9 1811.8,1185.6 1812.8,1189.2C1813.8,1192.8 1814,1196.5 1814.5,1200.1C1815,1203.8 1815.3,1205.6 1815.6,1211.1C1815.9,1216.5 1816.3,1225.6 1816.3,1232.9C1816.2,1240.2 1815.4,1247.5 1815.4,1254.8C1815.4,1262.1 1816,1271.2 1816.3,1276.7C1816.6,1282.1 1817,1285.8 1817.1,1287.6L1817.1,1287.6Z" fill="#4da767"/>
<path d="M1817.1,1059.1L1805.1,1059.1C1805.2,1062.6 1805.2,1072.8 1805.8,1079.9C1806.3,1087 1807.5,1094.4 1808.4,1101.7C1809.3,1109 1810.1,1116.3 1811,1123.6C1811.9,1130.9 1813,1138.2 1813.9,1145.5C1814.7,1152.8 1815.6,1160 1816.1,1167.3C1816.5,1174.6 1816.3,1183.7 1816.5,1189.2C1816.7,1194.7 1817,1198.3 1817.1,1200.1L1817.1,1200.1Z" fill="#034413"/>
<path d="M1886.8,1068.9L1886.7,1068.9C1886.2,1072.6 1884.1,1083.5 1883.8,1090.8C1883.5,1098.1 1884.7,1103.6 1884.9,1112.7C1885.2,1121.8 1885.4,1132.7 1885.4,1145.5C1885.4,1158.2 1885.2,1178.3 1884.9,1189.2C1884.7,1200.1 1884.4,1203.8 1883.8,1211.1C1883.3,1218.4 1882.7,1226.7 1881.7,1232.9C1880.6,1239.1 1879.6,1243.9 1877.3,1248.2C1874.9,1252.6 1870.5,1255.9 1867.4,1259.2C1864.3,1262.4 1860.9,1265.7 1858.7,1267.9C1856.5,1270.1 1854.3,1270.8 1854.3,1272.3C1854.3,1273.7 1857.2,1274.8 1858.7,1276.7C1860.1,1278.5 1861.6,1280.7 1863.1,1283.2C1864.5,1285.8 1866.2,1289.1 1867.4,1292C1868.7,1294.9 1870,1297.8 1870.7,1300.7C1871.4,1303.6 1871.4,1306.2 1871.8,1309.5C1872.2,1312.7 1872.9,1316.8 1872.9,1320.4C1872.9,1324 1871.4,1327.7 1871.8,1331.3C1872.2,1335 1873.6,1338.6 1875.1,1342.3C1876.5,1345.9 1878.6,1349.6 1880.6,1353.2C1882.5,1356.8 1885.7,1362.3 1886.7,1364.1L1886.8,1364.1Z" fill="#b1e0c4"/>
<path d="M1886.8,1079.9L1886.7,1079.9C1886.5,1085.3 1885.8,1098.1 1885.6,1112.7C1885.4,1127.2 1885.7,1150.9 1885.6,1167.3C1885.5,1183.7 1885.4,1200.1 1884.9,1211.1C1884.5,1222 1883.7,1226.7 1882.7,1232.9C1881.8,1239.1 1881.3,1243.9 1879.5,1248.2C1877.6,1252.6 1874.5,1255.9 1871.8,1259.2C1869.1,1262.4 1865.1,1265.7 1863.1,1267.9C1861.1,1270.1 1859.6,1270.5 1859.8,1272.3C1860,1274.1 1862.5,1276.3 1864.2,1278.8C1865.8,1281.4 1868,1284.3 1869.6,1287.6C1871.3,1290.9 1873.1,1294.9 1874,1298.5C1874.9,1302.2 1874.7,1305.8 1875.1,1309.5C1875.5,1313.1 1876,1316.8 1876.2,1320.4C1876.4,1324 1875.8,1327.7 1876.2,1331.3C1876.5,1335 1877.3,1338.6 1878.4,1342.3C1879.5,1345.9 1881.4,1349.7 1882.7,1353.2C1884.1,1356.7 1886,1361.4 1886.7,1363L1886.8,1363Z" fill="#4da767"/>
<path d="M1886.8,1211.1L1886.7,1211.1C1886.6,1214.7 1886.5,1226.7 1886,1232.9C1885.5,1239.1 1884.7,1243.9 1883.8,1248.2C1882.9,1252.6 1881.7,1255.9 1880.6,1259.2C1879.5,1262.4 1877.6,1265 1877.3,1267.9C1876.9,1270.8 1877.8,1273.4 1878.4,1276.7C1878.9,1279.9 1880,1284 1880.6,1287.6C1881.1,1291.2 1881.1,1293.1 1881.7,1298.5C1882.2,1304 1883.3,1313.1 1883.8,1320.4C1884.4,1327.7 1884.5,1335.3 1884.9,1342.3C1885.4,1349.2 1886.4,1358.7 1886.7,1361.9L1886.8,1361.9Z" fill="#034413"/>
<path d="M1886.8,1352.1L1887.1,1352.1C1888.6,1352.8 1892.2,1355 1895.9,1356.5C1899.5,1357.9 1908.3,1359.8 1909,1360.8C1909.7,1361.9 1903.2,1362.3 1900.2,1363C1897.3,1363.8 1893.7,1364.7 1891.5,1365.2C1889.3,1365.8 1887.8,1366.1 1887.1,1366.3L1886.8,1366.3Z" fill="#cab4d8"/>
<path d="M1886.8,1357.6L1887.1,1357.6C1887.8,1358.1 1890.4,1359.9 1891.5,1360.8C1892.6,1361.8 1893.9,1362.3 1893.7,1363C1893.5,1363.8 1890.9,1364.9 1890.4,1365.2L1886.8,1365.2Z" fill="#7c539b"/>
<path d="M1956.5,1068.9L1956.4,1068.9C1956.3,1078 1956,1103.6 1955.9,1123.6C1955.7,1143.6 1955.7,1174.6 1955.5,1189.2C1955.3,1203.8 1955.4,1204.5 1954.7,1211.1C1954,1217.6 1952.8,1223.1 1951.4,1228.6C1949.9,1234 1948.3,1239.5 1945.9,1243.9C1943.6,1248.2 1940.1,1251.5 1937.2,1254.8C1934.3,1258.1 1930.8,1260.6 1928.4,1263.5C1926.1,1266.5 1923.7,1270.1 1923,1272.3C1922.2,1274.5 1922.4,1274.8 1924.1,1276.7C1925.7,1278.5 1929.2,1280.7 1932.8,1283.2C1936.4,1285.8 1943,1289.4 1945.9,1292C1948.8,1294.5 1949.4,1295.6 1950.3,1298.5C1951.2,1301.4 1951.5,1305.8 1951.4,1309.5C1951.3,1313.1 1950,1316.8 1949.9,1320.4C1949.7,1324 1950.8,1327.7 1950.7,1331.3C1950.6,1335 1949.6,1338.6 1949.2,1342.3C1948.8,1345.9 1949.9,1350.5 1948.1,1353.2C1946.3,1355.9 1939.2,1357.2 1938.3,1358.7C1937.4,1360.1 1939.6,1360.8 1942.6,1361.9C1945.7,1363 1954.1,1364.7 1956.4,1365.2L1956.5,1365.2Z" fill="#b1e0c4"/>
<path d="M1956.5,1145.5L1956.4,1145.5C1956.2,1154.6 1955.9,1187.4 1955.3,1200.1C1954.8,1212.9 1954.2,1215.8 1953.1,1222C1952.1,1228.2 1950.9,1232.6 1949.2,1237.3C1947.4,1242 1944.8,1246.8 1942.6,1250.4C1940.5,1254.1 1938.1,1256.3 1936.1,1259.2C1934.1,1262.1 1931.7,1265.4 1930.6,1267.9C1929.5,1270.5 1928.6,1272.3 1929.5,1274.5C1930.4,1276.7 1933.2,1278.5 1936.1,1281C1939,1283.6 1944.5,1286.9 1947,1289.8C1949.6,1292.7 1950.5,1295.2 1951.4,1298.5C1952.3,1301.8 1952.3,1304 1952.5,1309.5C1952.7,1314.9 1952.7,1324 1952.5,1331.3C1952.3,1338.6 1952.8,1348.5 1951.4,1353.2C1949.9,1357.9 1944.5,1358.1 1943.7,1359.8C1943,1361.4 1944.9,1362.1 1947,1363C1949.1,1363.9 1954.8,1364.9 1956.4,1365.2L1956.5,1365.2Z" fill="#4da767"/>
<path d="M1956.5,1211.1L1956.4,1211.1C1956.1,1214.7 1955.3,1226.4 1954.7,1232.9C1954,1239.5 1953.4,1245.3 1952.5,1250.4C1951.6,1255.5 1950.3,1259.5 1949.2,1263.5C1948.1,1267.6 1945.7,1271.2 1945.9,1274.5C1946.1,1277.8 1948.9,1280.3 1950.3,1283.2C1951.7,1286.1 1953.4,1285.8 1954.2,1292C1955,1298.2 1955,1312 1955.1,1320.4C1955.2,1328.8 1955.1,1336.1 1954.7,1342.3C1954.2,1348.5 1952.5,1353.9 1952.5,1357.6C1952.5,1361.2 1954,1362.9 1954.7,1364.1C1955.3,1365.4 1956.1,1365 1956.4,1365.2L1956.5,1365.2Z" fill="#034413"/>
<path d="M1956.5,1346.6L1956.9,1346.6C1957.9,1347.4 1960.9,1349.6 1963.4,1351C1966,1352.5 1968.7,1353.7 1972.2,1355.4C1975.6,1357 1984.2,1359.4 1984.2,1360.8C1984.2,1362.3 1976.7,1363.2 1972.2,1364.1C1967.6,1365 1959.4,1366 1956.9,1366.3L1956.5,1366.3Z" fill="#cab4d8"/>
<path d="M1956.5,1353.2L1956.9,1353.2C1957.8,1353.9 1960.7,1356.1 1962.3,1357.6C1964,1359 1967.2,1360.7 1966.7,1361.9C1966.1,1363.2 1960.3,1364.7 1959,1365.2L1956.5,1365.2Z" fill="#7c539b"/>
<path d="M2026.2,1071.1L2026.2,1071.1C2025.9,1076.2 2025,1093 2024.6,1101.7C2024.3,1110.5 2024.2,1112.7 2024.2,1123.6C2024.2,1134.5 2024.7,1152.8 2024.6,1167.3C2024.6,1181.9 2024.1,1200.9 2023.8,1211.1C2023.4,1221.3 2023.4,1223.8 2022.5,1228.6C2021.5,1233.3 2020.6,1236.2 2018.1,1239.5C2015.5,1242.8 2010.4,1245.7 2007.1,1248.2C2003.9,1250.8 2000.6,1253 1998.4,1254.8C1996.2,1256.6 1993.7,1257.7 1994,1259.2C1994.4,1260.6 1999.1,1262.1 2000.6,1263.5C2002,1265 2003.1,1266.5 2002.8,1267.9C2002.4,1269.4 1998.4,1270.8 1998.4,1272.3C1998.4,1273.7 2000.6,1274.5 2002.8,1276.7C2005,1278.8 2009.3,1282.5 2011.5,1285.4C2013.7,1288.3 2014.6,1290.9 2015.9,1294.2C2017.2,1297.4 2018.1,1300.7 2019.2,1305.1C2020.3,1309.5 2021.5,1314.2 2022.5,1320.4C2023.4,1326.6 2024.5,1336.1 2025.1,1342.3C2025.7,1348.5 2026,1355 2026.2,1357.6L2026.2,1357.6Z" fill="#b1e0c4"/>
<path d="M2026.2,1079.9L2026.2,1079.9C2026,1090.8 2025.5,1123.6 2025.3,1145.5C2025,1167.3 2025,1196.5 2024.6,1211.1C2024.2,1225.6 2024.7,1227.1 2022.9,1232.9C2021.1,1238.8 2017.1,1242.4 2013.7,1246.1C2010.4,1249.7 2005.1,1252.6 2002.8,1254.8C2000.4,1257 1999.1,1257.3 1999.5,1259.2C1999.9,1261 2004.4,1263.5 2005,1265.7C2005.5,1267.9 2002.4,1270.1 2002.8,1272.3C2003.1,1274.5 2005.3,1276.3 2007.1,1278.8C2009,1281.4 2011.9,1284.3 2013.7,1287.6C2015.5,1290.9 2016.6,1293.8 2018.1,1298.5C2019.5,1303.3 2021.3,1309.5 2022.5,1316C2023.6,1322.6 2024.5,1332.1 2025.1,1337.9C2025.7,1343.7 2026,1348.8 2026.2,1351L2026.2,1351Z" fill="#4da767"/>
<path d="M2026.2,1101.7L2026.2,1101.7C2026.1,1116.3 2025.8,1167.3 2025.6,1189.2C2025.3,1211.1 2025.7,1222.7 2024.6,1232.9C2023.6,1243.1 2020.6,1246.1 2019.2,1250.4C2017.7,1254.8 2016.6,1256.3 2015.9,1259.2C2015.2,1262.1 2014.8,1265 2014.8,1267.9C2014.8,1270.8 2015,1273.4 2015.9,1276.7C2016.8,1279.9 2019.2,1284 2020.3,1287.6C2021.4,1291.2 2021.7,1293.1 2022.5,1298.5C2023.2,1304 2024.1,1313.1 2024.6,1320.4C2025.2,1327.7 2025.7,1338.6 2025.9,1342.3L2026.2,1342.3Z" fill="#034413"/>
<path d="M123.3,322.7v-9M123.3,11.5v9M196.7,322.7v-9M196.7,11.5v9M270.1,322.7v-9M270.1,11.5v9M343.5,322.7v-9M343.5,11.5v9M416.9,322.7v-9M416.9,11.5v9M490.2,322.7v-9M490.2,11.5v9M563.6,322.7v-9M563.6,11.5v9M637,322.7v-9M637,11.5v9M710.4,322.7v-9M710.4,11.5v9M783.8,322.7v-9M783.8,11.5v9M857.2,322.7v-9M857.2,11.5v9M930.6,322.7v-9M930.6,11.5v9M1004,322.7v-9M1004,11.5v9M79.3,219h9.5M1048,219h-9.5M79.3,115.2h9.5M1048,115.2h-9.5" stroke="#4d4d4d" stroke-width="1.2" fill="none"/>
<rect x="79.3" y="11.5" width="968.7" height="311.2" fill="none" stroke="#4d4d4d" stroke-width="1.3"/>
<path d="M123.3,671.8v-9M123.3,360.6v9M196.7,671.8v-9M196.7,360.6v9M270.1,671.8v-9M270.1,360.6v9M343.5,671.8v-9M343.5,360.6v9M416.9,671.8v-9M416.9,360.6v9M490.2,671.8v-9M490.2,360.6v9M563.6,671.8v-9M563.6,360.6v9M637,671.8v-9M637,360.6v9M710.4,671.8v-9M710.4,360.6v9M783.8,671.8v-9M783.8,360.6v9M857.2,671.8v-9M857.2,360.6v9M930.6,671.8v-9M930.6,360.6v9M1004,671.8v-9M1004,360.6v9M79.3,609.6h9.5M1048,609.6h-9.5M79.3,547.3h9.5M1048,547.3h-9.5M79.3,485.1h9.5M1048,485.1h-9.5M79.3,422.8h9.5M1048,422.8h-9.5" stroke="#4d4d4d" stroke-width="1.2" fill="none"/>
<rect x="79.3" y="360.6" width="968.7" height="311.2" fill="none" stroke="#4d4d4d" stroke-width="1.3"/>
<path d="M123.3,1020.9v-9M123.3,709.7v9M196.7,1020.9v-9M196.7,709.7v9M270.1,1020.9v-9M270.1,709.7v9M343.5,1020.9v-9M343.5,709.7v9M416.9,1020.9v-9M416.9,709.7v9M490.2,1020.9v-9M490.2,709.7v9M563.6,1020.9v-9M563.6,709.7v9M637,1020.9v-9M637,709.7v9M710.4,1020.9v-9M710.4,709.7v9M783.8,1020.9v-9M783.8,709.7v9M857.2,1020.9v-9M857.2,709.7v9M930.6,1020.9v-9M930.6,709.7v9M1004,1020.9v-9M1004,709.7v9M79.3,917.2h9.5M1048,917.2h-9.5M79.3,813.4h9.5M1048,813.4h-9.5" stroke="#4d4d4d" stroke-width="1.2" fill="none"/>
<rect x="79.3" y="709.7" width="968.7" height="311.2" fill="none" stroke="#4d4d4d" stroke-width="1.3"/>
<path d="M123.3,1370.1v-9M123.3,1058.9v9M196.7,1370.1v-9M196.7,1058.9v9M270.1,1370.1v-9M270.1,1058.9v9M343.5,1370.1v-9M343.5,1058.9v9M416.9,1370.1v-9M416.9,1058.9v9M490.2,1370.1v-9M490.2,1058.9v9M563.6,1370.1v-9M563.6,1058.9v9M637,1370.1v-9M637,1058.9v9M710.4,1370.1v-9M710.4,1058.9v9M783.8,1370.1v-9M783.8,1058.9v9M857.2,1370.1v-9M857.2,1058.9v9M930.6,1370.1v-9M930.6,1058.9v9M1004,1370.1v-9M1004,1058.9v9M79.3,1292.3h9.5M1048,1292.3h-9.5M79.3,1214.5h9.5M1048,1214.5h-9.5M79.3,1136.7h9.5M1048,1136.7h-9.5" stroke="#4d4d4d" stroke-width="1.2" fill="none"/>
<rect x="79.3" y="1058.9" width="968.7" height="311.2" fill="none" stroke="#4d4d4d" stroke-width="1.3"/>
<path d="M1120.2,323.3v-9M1120.2,12.1v9M1189.9,323.3v-9M1189.9,12.1v9M1259.6,323.3v-9M1259.6,12.1v9M1329.3,323.3v-9M1329.3,12.1v9M1399,323.3v-9M1399,12.1v9M1468.7,323.3v-9M1468.7,12.1v9M1538.3,323.3v-9M1538.3,12.1v9M1608,323.3v-9M1608,12.1v9M1677.7,323.3v-9M1677.7,12.1v9M1747.4,323.3v-9M1747.4,12.1v9M1817.1,323.3v-9M1817.1,12.1v9M1886.8,323.3v-9M1886.8,12.1v9M1956.5,323.3v-9M1956.5,12.1v9M2026.2,323.3v-9M2026.2,12.1v9M1078.4,219.6h9.5M2047.2,219.6h-9.5M1078.4,115.8h9.5M2047.2,115.8h-9.5" stroke="#4d4d4d" stroke-width="1.2" fill="none"/>
<rect x="1078.4" y="12.1" width="968.8" height="311.2" fill="none" stroke="#4d4d4d" stroke-width="1.3"/>
<path d="M1120.2,672.4v-9M1120.2,361.2v9M1189.9,672.4v-9M1189.9,361.2v9M1259.6,672.4v-9M1259.6,361.2v9M1329.3,672.4v-9M1329.3,361.2v9M1399,672.4v-9M1399,361.2v9M1468.7,672.4v-9M1468.7,361.2v9M1538.3,672.4v-9M1538.3,361.2v9M1608,672.4v-9M1608,361.2v9M1677.7,672.4v-9M1677.7,361.2v9M1747.4,672.4v-9M1747.4,361.2v9M1817.1,672.4v-9M1817.1,361.2v9M1886.8,672.4v-9M1886.8,361.2v9M1956.5,672.4v-9M1956.5,361.2v9M2026.2,672.4v-9M2026.2,361.2v9M1078.4,610.2h9.5M2047.2,610.2h-9.5M1078.4,547.9h9.5M2047.2,547.9h-9.5M1078.4,485.7h9.5M2047.2,485.7h-9.5M1078.4,423.4h9.5M2047.2,423.4h-9.5" stroke="#4d4d4d" stroke-width="1.2" fill="none"/>
<rect x="1078.4" y="361.2" width="968.8" height="311.2" fill="none" stroke="#4d4d4d" stroke-width="1.3"/>
<path d="M1120.2,1021.5v-9M1120.2,710.3v9M1189.9,1021.5v-9M1189.9,710.3v9M1259.6,1021.5v-9M1259.6,710.3v9M1329.3,1021.5v-9M1329.3,710.3v9M1399,1021.5v-9M1399,710.3v9M1468.7,1021.5v-9M1468.7,710.3v9M1538.3,1021.5v-9M1538.3,710.3v9M1608,1021.5v-9M1608,710.3v9M1677.7,1021.5v-9M1677.7,710.3v9M1747.4,1021.5v-9M1747.4,710.3v9M1817.1,1021.5v-9M1817.1,710.3v9M1886.8,1021.5v-9M1886.8,710.3v9M1956.5,1021.5v-9M1956.5,710.3v9M2026.2,1021.5v-9M2026.2,710.3v9M1078.4,917.8h9.5M2047.2,917.8h-9.5M1078.4,814h9.5M2047.2,814h-9.5" stroke="#4d4d4d" stroke-width="1.2" fill="none"/>
<rect x="1078.4" y="710.3" width="968.8" height="311.2" fill="none" stroke="#4d4d4d" stroke-width="1.3"/>
<path d="M1120.2,1370.6v-9M1120.2,1059.4v9M1189.9,1370.6v-9M1189.9,1059.4v9M1259.6,1370.6v-9M1259.6,1059.4v9M1329.3,1370.6v-9M1329.3,1059.4v9M1399,1370.6v-9M1399,1059.4v9M1468.7,1370.6v-9M1468.7,1059.4v9M1538.3,1370.6v-9M1538.3,1059.4v9M1608,1370.6v-9M1608,1059.4v9M1677.7,1370.6v-9M1677.7,1059.4v9M1747.4,1370.6v-9M1747.4,1059.4v9M1817.1,1370.6v-9M1817.1,1059.4v9M1886.8,1370.6v-9M1886.8,1059.4v9M1956.5,1370.6v-9M1956.5,1059.4v9M2026.2,1370.6v-9M2026.2,1059.4v9M1078.4,1292.8h9.5M2047.2,1292.8h-9.5M1078.4,1215h9.5M2047.2,1215h-9.5M1078.4,1137.2h9.5M2047.2,1137.2h-9.5" stroke="#4d4d4d" stroke-width="1.2" fill="none"/>
<rect x="1078.4" y="1059.4" width="968.8" height="311.2" fill="none" stroke="#4d4d4d" stroke-width="1.3"/>
<text x="69.3" y="329" text-anchor="end" font-family="'Liberation Serif', 'DejaVu Serif', serif" font-size="26" fill="#111">0</text>
<text x="69.3" y="225.3" text-anchor="end" font-family="'Liberation Serif', 'DejaVu Serif', serif" font-size="26" fill="#111">1</text>
<text x="69.3" y="121.5" text-anchor="end" font-family="'Liberation Serif', 'DejaVu Serif', serif" font-size="26" fill="#111">2</text>
<text x="69.3" y="17.8" text-anchor="end" font-family="'Liberation Serif', 'DejaVu Serif', serif" font-size="26" fill="#111">3</text>
<text x="69.3" y="678.1" text-anchor="end" font-family="'Liberation Serif', 'DejaVu Serif', serif" font-size="26" fill="#111">0</text>
<text x="69.3" y="615.9" text-anchor="end" font-family="'Liberation Serif', 'DejaVu Serif', serif" font-size="26" fill="#111">20</text>
<text x="69.3" y="553.6" text-anchor="end" font-family="'Liberation Serif', 'DejaVu Serif', serif" font-size="26" fill="#111">40</text>
<text x="69.3" y="491.4" text-anchor="end" font-family="'Liberation Serif', 'DejaVu Serif', serif" font-size="26" fill="#111">60</text>
<text x="69.3" y="429.1" text-anchor="end" font-family="'Liberation Serif', 'DejaVu Serif', serif" font-size="26" fill="#111">80</text>
<text x="69.3" y="366.9" text-anchor="end" font-family="'Liberation Serif', 'DejaVu Serif', serif" font-size="26" fill="#111">100</text>
<text x="69.3" y="1027.2" text-anchor="end" font-family="'Liberation Serif', 'DejaVu Serif', serif" font-size="26" fill="#111">0</text>
<text x="69.3" y="923.5" text-anchor="end" font-family="'Liberation Serif', 'DejaVu Serif', serif" font-size="26" fill="#111">5</text>
<text x="69.3" y="819.7" text-anchor="end" font-family="'Liberation Serif', 'DejaVu Serif', serif" font-size="26" fill="#111">10</text>
<text x="69.3" y="716" text-anchor="end" font-family="'Liberation Serif', 'DejaVu Serif', serif" font-size="26" fill="#111">15</text>
<text x="69.3" y="1376.4" text-anchor="end" font-family="'Liberation Serif', 'DejaVu Serif', serif" font-size="26" fill="#111">0</text>
<text x="69.3" y="1298.6" text-anchor="end" font-family="'Liberation Serif', 'DejaVu Serif', serif" font-size="26" fill="#111">0.5</text>
<text x="69.3" y="1220.8" text-anchor="end" font-family="'Liberation Serif', 'DejaVu Serif', serif" font-size="26" fill="#111">1</text>
<text x="69.3" y="1143" text-anchor="end" font-family="'Liberation Serif', 'DejaVu Serif', serif" font-size="26" fill="#111">1.5</text>
<text x="69.3" y="1065.2" text-anchor="end" font-family="'Liberation Serif', 'DejaVu Serif', serif" font-size="26" fill="#111">2</text>
<text x="0" y="0" transform="translate(22.6,166.7) rotate(-90)" text-anchor="middle" font-family="'Liberation Serif', 'DejaVu Serif', serif" font-size="29" textLength="248" lengthAdjust="spacing" fill="#111">Elevation (km a.s.l.)</text>
<text x="0" y="0" transform="translate(22.6,516.6) rotate(-90)" text-anchor="middle" font-family="'Liberation Serif', 'DejaVu Serif', serif" font-size="29" textLength="311" lengthAdjust="spacing" fill="#111">Ice burial since 1 Ma (%)</text>
<text x="0" y="0" transform="translate(22.6,862.5) rotate(-90)" text-anchor="middle" font-family="'Liberation Serif', 'DejaVu Serif', serif" font-size="29" textLength="320" lengthAdjust="spacing" fill="#111">Time of 1 m erosion (Ma)</text>
<text x="0" y="0" transform="translate(22.6,1215.4) rotate(-90)" text-anchor="middle" font-family="'Liberation Serif', 'DejaVu Serif', serif" font-size="29" textLength="314" lengthAdjust="spacing" fill="#111">Erosion since 1 Ma (m)</text>
<text x="1013" y="45.5" font-family="'Liberation Sans', 'DejaVu Sans', sans-serif" font-size="42" fill="#2b2b2b">a</text>
<text x="1013" y="402" font-family="'Liberation Sans', 'DejaVu Sans', sans-serif" font-size="42" fill="#2b2b2b">b</text>
<text x="1013" y="744" font-family="'Liberation Sans', 'DejaVu Sans', sans-serif" font-size="42" fill="#2b2b2b">c</text>
<text x="1013" y="1105" font-family="'Liberation Sans', 'DejaVu Sans', sans-serif" font-size="42" fill="#2b2b2b">d</text>
<text x="1090" y="47.5" font-family="'Liberation Sans', 'DejaVu Sans', sans-serif" font-size="42" fill="#2b2b2b">e</text>
<text x="1090" y="402" font-family="'Liberation Sans', 'DejaVu Sans', sans-serif" font-size="42" fill="#2b2b2b">f</text>
<text x="2007" y="752.5" font-family="'Liberation Sans', 'DejaVu Sans', sans-serif" font-size="42" fill="#2b2b2b">g</text>
<text x="1090" y="1103" font-family="'Liberation Sans', 'DejaVu Sans', sans-serif" font-size="42" fill="#2b2b2b">h</text>
<text x="439.4" y="70.6" font-family="'Liberation Sans', 'DejaVu Sans', sans-serif" font-size="32" textLength="227.5" lengthAdjust="spacingAndGlyphs" fill="#111">Heimefrontfjella</text>
<text x="1484.4" y="79.2" font-family="'Liberation Sans', 'DejaVu Sans', sans-serif" font-size="32" textLength="203" lengthAdjust="spacingAndGlyphs" fill="#111">Jutulstraumen</text>
<text x="0" y="0" transform="translate(106,807) rotate(-90)" font-family="'Liberation Serif', 'DejaVu Serif', serif" font-size="26" fill="#888" textLength="93" lengthAdjust="spacingAndGlyphs">Miocene</text>
<text x="95.4" y="956.3" font-family="'Liberation Serif', 'DejaVu Serif', serif" font-size="26" fill="#888" textLength="92" lengthAdjust="spacingAndGlyphs">Pliocene</text>
<text x="95.4" y="1000" font-family="'Liberation Serif', 'DejaVu Serif', serif" font-size="26" fill="#888" textLength="126.4" lengthAdjust="spacingAndGlyphs">Quaternary</text>
<rect x="145.2" y="383.3" width="54.7" height="27.2" fill="#b1e0c4"/>
<rect x="199.6" y="383.3" width="54.7" height="27.2" fill="#4da767"/>
<rect x="254" y="383.3" width="54.7" height="27.2" fill="#034413"/>
<text x="172.4" y="404.5" text-anchor="middle" font-family="'Liberation Sans', 'DejaVu Sans', sans-serif" font-size="23" fill="#111">Acc.</text>
<text x="226.8" y="404.5" text-anchor="middle" font-family="'Liberation Sans', 'DejaVu Sans', sans-serif" font-size="23" fill="#111">2σ</text>
<text x="281.2" y="404.5" text-anchor="middle" font-family="'Liberation Sans', 'DejaVu Sans', sans-serif" font-size="23" fill="#fff">1σ</text>
<text x="226.8" y="433.5" text-anchor="middle" font-family="'Liberation Sans', 'DejaVu Sans', sans-serif" font-size="22" fill="#111">[ <tspan dy="-9" font-size="15">10</tspan><tspan dy="9">Be, </tspan><tspan dy="-9" font-size="15">26</tspan><tspan dy="9">Al ]</tspan></text>
<rect x="340.2" y="383.3" width="54.7" height="27.2" fill="#b3b2c5"/>
<rect x="394.6" y="383.3" width="54.7" height="27.2" fill="#4c4c6a"/>
<rect x="449" y="383.3" width="54.7" height="27.2" fill="#0b0b14"/>
<text x="367.4" y="404.5" text-anchor="middle" font-family="'Liberation Sans', 'DejaVu Sans', sans-serif" font-size="23" fill="#111">Acc.</text>
<text x="421.8" y="404.5" text-anchor="middle" font-family="'Liberation Sans', 'DejaVu Sans', sans-serif" font-size="23" fill="#111">2σ</text>
<text x="476.2" y="404.5" text-anchor="middle" font-family="'Liberation Sans', 'DejaVu Sans', sans-serif" font-size="23" fill="#fff">1σ</text>
<text x="421.8" y="433.5" text-anchor="middle" font-family="'Liberation Sans', 'DejaVu Sans', sans-serif" font-size="22" fill="#111">[ <tspan dy="-9" font-size="15">10</tspan><tspan dy="9">Be, </tspan><tspan dy="-9" font-size="15">26</tspan><tspan dy="9">Al, </tspan><tspan dy="-9" font-size="15">21</tspan><tspan dy="9">Ne ]</tspan></text>
<rect x="538" y="383.3" width="54.7" height="27.2" fill="#e2c5c8"/>
<rect x="592.4" y="383.3" width="54.7" height="27.2" fill="#aa716f"/>
<rect x="646.8" y="383.3" width="54.7" height="27.2" fill="#4a1212"/>
<text x="565.2" y="404.5" text-anchor="middle" font-family="'Liberation Sans', 'DejaVu Sans', sans-serif" font-size="23" fill="#111">Acc.</text>
<text x="619.6" y="404.5" text-anchor="middle" font-family="'Liberation Sans', 'DejaVu Sans', sans-serif" font-size="23" fill="#111">2σ</text>
<text x="674" y="404.5" text-anchor="middle" font-family="'Liberation Sans', 'DejaVu Sans', sans-serif" font-size="23" fill="#fff">1σ</text>
<text x="619.6" y="433.5" text-anchor="middle" font-family="'Liberation Sans', 'DejaVu Sans', sans-serif" font-size="22" fill="#111">[ <tspan dy="-9" font-size="15">10</tspan><tspan dy="9">Be, </tspan><tspan dy="-9" font-size="15">26</tspan><tspan dy="9">Al, </tspan><tspan dy="-9" font-size="15">36</tspan><tspan dy="9">Cl ]</tspan></text>
<rect x="748.2" y="383.3" width="54.7" height="27.2" fill="#d4bae2"/>
<rect x="802.6" y="383.3" width="54.7" height="27.2" fill="#7e539a"/>
<rect x="857" y="383.3" width="54.7" height="27.2" fill="#1c0a33"/>
<text x="775.4" y="404.5" text-anchor="middle" font-family="'Liberation Sans', 'DejaVu Sans', sans-serif" font-size="23" fill="#111">Acc.</text>
<text x="829.8" y="404.5" text-anchor="middle" font-family="'Liberation Sans', 'DejaVu Sans', sans-serif" font-size="23" fill="#111">2σ</text>
<text x="884.2" y="404.5" text-anchor="middle" font-family="'Liberation Sans', 'DejaVu Sans', sans-serif" font-size="23" fill="#fff">1σ</text>
<text x="829.8" y="433.5" text-anchor="middle" font-family="'Liberation Sans', 'DejaVu Sans', sans-serif" font-size="22" fill="#111">[ <tspan dy="-9" font-size="15">10</tspan><tspan dy="9">Be, </tspan><tspan dy="-9" font-size="15">26</tspan><tspan dy="9">Al, </tspan><tspan dy="-9" font-size="15">36</tspan><tspan dy="9">Cl, </tspan><tspan dy="-9" font-size="15">21</tspan><tspan dy="9">Ne ]</tspan></text>
<text x="0" y="0" transform="translate(132.5,1400.5) rotate(-24)" text-anchor="end" font-family="'Liberation Serif', 'DejaVu Serif', serif" font-size="27" fill="#111">RH01</text>
<text x="0" y="0" transform="translate(205.9,1400.5) rotate(-24)" text-anchor="end" font-family="'Liberation Serif', 'DejaVu Serif', serif" font-size="27" fill="#111">RH02</text>
<text x="0" y="0" transform="translate(279.3,1400.5) rotate(-24)" text-anchor="end" font-family="'Liberation Serif', 'DejaVu Serif', serif" font-size="27" fill="#111">MH02</text>
<text x="0" y="0" transform="translate(352.7,1400.5) rotate(-24)" text-anchor="end" font-family="'Liberation Serif', 'DejaVu Serif', serif" font-size="27" fill="#111">MH01</text>
<text x="0" y="0" transform="translate(426.1,1400.5) rotate(-24)" text-anchor="end" font-family="'Liberation Serif', 'DejaVu Serif', serif" font-size="27" fill="#111">MAB02</text>
<text x="0" y="0" transform="translate(499.4,1400.5) rotate(-24)" text-anchor="end" font-family="'Liberation Serif', 'DejaVu Serif', serif" font-size="27" fill="#111">MAB03</text>
<text x="0" y="0" transform="translate(572.8,1400.5) rotate(-24)" text-anchor="end" font-family="'Liberation Serif', 'DejaVu Serif', serif" font-size="27" fill="#111">BRA01</text>
<text x="0" y="0" transform="translate(646.2,1400.5) rotate(-24)" text-anchor="end" font-family="'Liberation Serif', 'DejaVu Serif', serif" font-size="27" fill="#111">BRA02</text>
<text x="0" y="0" transform="translate(719.6,1400.5) rotate(-24)" text-anchor="end" font-family="'Liberation Serif', 'DejaVu Serif', serif" font-size="27" fill="#111">MAB05</text>
<text x="0" y="0" transform="translate(793,1400.5) rotate(-24)" text-anchor="end" font-family="'Liberation Serif', 'DejaVu Serif', serif" font-size="27" fill="#111">CJ01</text>
<text x="0" y="0" transform="translate(866.4,1400.5) rotate(-24)" text-anchor="end" font-family="'Liberation Serif', 'DejaVu Serif', serif" font-size="27" fill="#111">MAB01</text>
<text x="0" y="0" transform="translate(939.8,1400.5) rotate(-24)" text-anchor="end" font-family="'Liberation Serif', 'DejaVu Serif', serif" font-size="27" fill="#111">VK01</text>
<text x="0" y="0" transform="translate(1013.2,1400.5) rotate(-24)" text-anchor="end" font-family="'Liberation Serif', 'DejaVu Serif', serif" font-size="27" fill="#111">VK02</text>
<text x="0" y="0" transform="translate(1129.4,1400.5) rotate(-24)" text-anchor="end" font-family="'Liberation Serif', 'DejaVu Serif', serif" font-size="27" fill="#111">BOR01</text>
<text x="0" y="0" transform="translate(1199.1,1400.5) rotate(-24)" text-anchor="end" font-family="'Liberation Serif', 'DejaVu Serif', serif" font-size="27" fill="#111">BOR03</text>
<text x="0" y="0" transform="translate(1268.8,1400.5) rotate(-24)" text-anchor="end" font-family="'Liberation Serif', 'DejaVu Serif', serif" font-size="27" fill="#111">MID02</text>
<text x="0" y="0" transform="translate(1338.5,1400.5) rotate(-24)" text-anchor="end" font-family="'Liberation Serif', 'DejaVu Serif', serif" font-size="27" fill="#111">MID01</text>
<text x="0" y="0" transform="translate(1408.2,1400.5) rotate(-24)" text-anchor="end" font-family="'Liberation Serif', 'DejaVu Serif', serif" font-size="27" fill="#111">MOT01</text>
<text x="0" y="0" transform="translate(1477.9,1400.5) rotate(-24)" text-anchor="end" font-family="'Liberation Serif', 'DejaVu Serif', serif" font-size="27" fill="#111">VID01</text>
<text x="0" y="0" transform="translate(1547.5,1400.5) rotate(-24)" text-anchor="end" font-family="'Liberation Serif', 'DejaVu Serif', serif" font-size="27" fill="#111">GRU07</text>
<text x="0" y="0" transform="translate(1617.2,1400.5) rotate(-24)" text-anchor="end" font-family="'Liberation Serif', 'DejaVu Serif', serif" font-size="27" fill="#111">VID03</text>
<text x="0" y="0" transform="translate(1686.9,1400.5) rotate(-24)" text-anchor="end" font-family="'Liberation Serif', 'DejaVu Serif', serif" font-size="27" fill="#111">GRO01</text>
<text x="0" y="0" transform="translate(1756.6,1400.5) rotate(-24)" text-anchor="end" font-family="'Liberation Serif', 'DejaVu Serif', serif" font-size="27" fill="#111">GRO04</text>
<text x="0" y="0" transform="translate(1826.3,1400.5) rotate(-24)" text-anchor="end" font-family="'Liberation Serif', 'DejaVu Serif', serif" font-size="27" fill="#111">GRO03</text>
<text x="0" y="0" transform="translate(1896,1400.5) rotate(-24)" text-anchor="end" font-family="'Liberation Serif', 'DejaVu Serif', serif" font-size="27" fill="#111">SVE06</text>
<text x="0" y="0" transform="translate(1965.7,1400.5) rotate(-24)" text-anchor="end" font-family="'Liberation Serif', 'DejaVu Serif', serif" font-size="27" fill="#111">SVE03</text>
<text x="0" y="0" transform="translate(2035.4,1400.5) rotate(-24)" text-anchor="end" font-family="'Liberation Serif', 'DejaVu Serif', serif" font-size="27" fill="#111">STR01</text>
</svg></body></html>
